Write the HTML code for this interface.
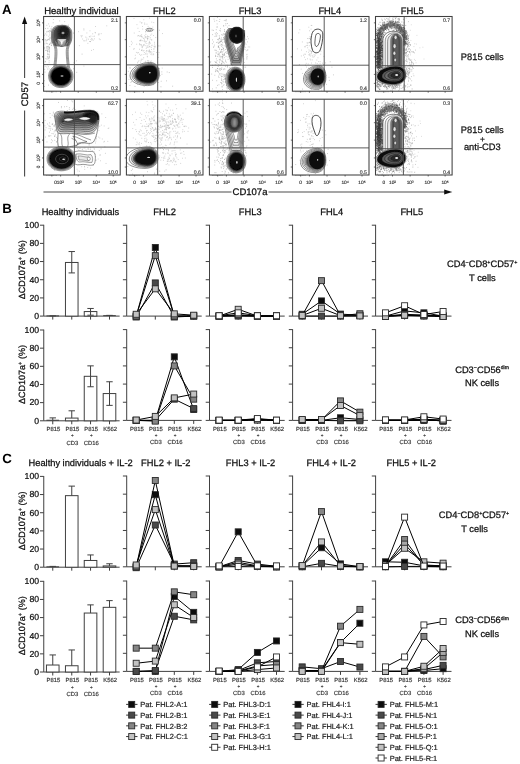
<!DOCTYPE html><html><head><meta charset="utf-8"><title>Figure</title><style>html,body{margin:0;padding:0;background:#fff}svg{display:block}text{text-rendering:geometricPrecision}</style></head><body><svg width="520" height="764" viewBox="0 0 520 764" font-family="Liberation Sans, sans-serif">
<defs><filter id="b1" x="-30%" y="-30%" width="160%" height="160%"><feGaussianBlur stdDeviation="0.9"/></filter><filter id="b2" x="-30%" y="-30%" width="160%" height="160%"><feGaussianBlur stdDeviation="1.6"/></filter><filter id="soft" x="0" y="0" width="520" height="764" filterUnits="userSpaceOnUse"><feGaussianBlur stdDeviation="0.35"/></filter><filter id="b0" x="-10%" y="-10%" width="120%" height="120%"><feGaussianBlur stdDeviation="0.35"/></filter></defs>
<rect width="520" height="764" fill="#fff"/>
<g filter="url(#soft)">
<text x="2" y="13.5" font-size="13.3" text-anchor="start" fill="#000" font-weight="bold" >A</text>
<text x="2.3" y="212.9" font-size="13.3" text-anchor="start" fill="#000" font-weight="bold" >B</text>
<text x="2.3" y="463.2" font-size="13.3" text-anchor="start" fill="#000" font-weight="bold" >C</text>
<text x="81.4" y="13.7" font-size="9.5" text-anchor="middle" fill="#111" stroke="#111" stroke-width="0.27" >Healthy individual</text>
<text x="164.3" y="13.7" font-size="9.3" text-anchor="middle" fill="#111" stroke="#111" stroke-width="0.26" >FHL2</text>
<text x="250" y="13.7" font-size="9.3" text-anchor="middle" fill="#111" stroke="#111" stroke-width="0.26" >FHL3</text>
<text x="329.8" y="13.7" font-size="9.3" text-anchor="middle" fill="#111" stroke="#111" stroke-width="0.26" >FHL4</text>
<text x="412.2" y="13.7" font-size="9.3" text-anchor="middle" fill="#111" stroke="#111" stroke-width="0.26" >FHL5</text>
<path d="M24.6 22.5V78M24.6 110.5V176.6" stroke="#4a4a4a" stroke-width="1.1" fill="none"/>
<path d="M24.6 16.4L22.0 24H27.2Z" fill="#111"/>
<text x="0" y="0" font-size="9.5" text-anchor="middle" fill="#111" stroke="#111" stroke-width="0.27" transform="translate(28.0 94.2) rotate(-90)">CD57</text>
<path d="M43.5 192H231.5M268.5 192H445" stroke="#4a4a4a" stroke-width="1.1" fill="none"/>
<path d="M452.3 192L444.2 189.4V194.6Z" fill="#111"/>
<text x="250" y="195.4" font-size="9.5" text-anchor="middle" fill="#111" stroke="#111" stroke-width="0.27" >CD107a</text>
<text x="482.3" y="59.6" font-size="9.3" text-anchor="middle" fill="#111" stroke="#111" stroke-width="0.26" >P815 cells</text>
<text x="482.3" y="132.6" font-size="9.3" text-anchor="middle" fill="#111" stroke="#111" stroke-width="0.26" >P815 cells</text>
<text x="482.3" y="141.6" font-size="8.2" text-anchor="middle" fill="#111" stroke="#111" stroke-width="0.23" >+</text>
<text x="482.3" y="149.8" font-size="9.3" text-anchor="middle" fill="#111" stroke="#111" stroke-width="0.26" >anti-CD3</text>
<text x="59" y="183.9" font-size="4.8" text-anchor="middle" fill="#2a2a2a" stroke="#2a2a2a" stroke-width="0.13" >010²</text>
<text x="78.2" y="183.9" font-size="4.8" text-anchor="middle" fill="#2a2a2a" stroke="#2a2a2a" stroke-width="0.13" >10³</text>
<text x="96.3" y="183.9" font-size="4.8" text-anchor="middle" fill="#2a2a2a" stroke="#2a2a2a" stroke-width="0.13" >10⁴</text>
<text x="113.2" y="183.9" font-size="4.8" text-anchor="middle" fill="#2a2a2a" stroke="#2a2a2a" stroke-width="0.13" >10⁵</text>
<text x="134.7" y="183.9" font-size="4.8" text-anchor="middle" fill="#2a2a2a" stroke="#2a2a2a" stroke-width="0.13" >0</text>
<text x="143.4" y="183.9" font-size="4.8" text-anchor="middle" fill="#2a2a2a" stroke="#2a2a2a" stroke-width="0.13" >10²</text>
<text x="161" y="183.9" font-size="4.8" text-anchor="middle" fill="#2a2a2a" stroke="#2a2a2a" stroke-width="0.13" >10³</text>
<text x="179.1" y="183.9" font-size="4.8" text-anchor="middle" fill="#2a2a2a" stroke="#2a2a2a" stroke-width="0.13" >10⁴</text>
<text x="196" y="183.9" font-size="4.8" text-anchor="middle" fill="#2a2a2a" stroke="#2a2a2a" stroke-width="0.13" >10⁵</text>
<text x="217.7" y="183.9" font-size="4.8" text-anchor="middle" fill="#2a2a2a" stroke="#2a2a2a" stroke-width="0.13" >0</text>
<text x="226.4" y="183.9" font-size="4.8" text-anchor="middle" fill="#2a2a2a" stroke="#2a2a2a" stroke-width="0.13" >10²</text>
<text x="244" y="183.9" font-size="4.8" text-anchor="middle" fill="#2a2a2a" stroke="#2a2a2a" stroke-width="0.13" >10³</text>
<text x="262.1" y="183.9" font-size="4.8" text-anchor="middle" fill="#2a2a2a" stroke="#2a2a2a" stroke-width="0.13" >10⁴</text>
<text x="279" y="183.9" font-size="4.8" text-anchor="middle" fill="#2a2a2a" stroke="#2a2a2a" stroke-width="0.13" >10⁵</text>
<text x="300.7" y="183.9" font-size="4.8" text-anchor="middle" fill="#2a2a2a" stroke="#2a2a2a" stroke-width="0.13" >0</text>
<text x="309.4" y="183.9" font-size="4.8" text-anchor="middle" fill="#2a2a2a" stroke="#2a2a2a" stroke-width="0.13" >10²</text>
<text x="327" y="183.9" font-size="4.8" text-anchor="middle" fill="#2a2a2a" stroke="#2a2a2a" stroke-width="0.13" >10³</text>
<text x="345.1" y="183.9" font-size="4.8" text-anchor="middle" fill="#2a2a2a" stroke="#2a2a2a" stroke-width="0.13" >10⁴</text>
<text x="362" y="183.9" font-size="4.8" text-anchor="middle" fill="#2a2a2a" stroke="#2a2a2a" stroke-width="0.13" >10⁵</text>
<text x="383.8" y="183.9" font-size="4.8" text-anchor="middle" fill="#2a2a2a" stroke="#2a2a2a" stroke-width="0.13" >0</text>
<text x="392.5" y="183.9" font-size="4.8" text-anchor="middle" fill="#2a2a2a" stroke="#2a2a2a" stroke-width="0.13" >10²</text>
<text x="410.1" y="183.9" font-size="4.8" text-anchor="middle" fill="#2a2a2a" stroke="#2a2a2a" stroke-width="0.13" >10³</text>
<text x="428.2" y="183.9" font-size="4.8" text-anchor="middle" fill="#2a2a2a" stroke="#2a2a2a" stroke-width="0.13" >10⁴</text>
<text x="445.1" y="183.9" font-size="4.8" text-anchor="middle" fill="#2a2a2a" stroke="#2a2a2a" stroke-width="0.13" >10⁵</text>
<text x="0" y="0" font-size="4.8" text-anchor="middle" fill="#2a2a2a" stroke="#2a2a2a" stroke-width="0.13" transform="translate(39.5 22.85) rotate(-90)">10⁵</text>
<text x="0" y="0" font-size="4.8" text-anchor="middle" fill="#2a2a2a" stroke="#2a2a2a" stroke-width="0.13" transform="translate(39.5 39.66) rotate(-90)">10⁴</text>
<text x="0" y="0" font-size="4.8" text-anchor="middle" fill="#2a2a2a" stroke="#2a2a2a" stroke-width="0.13" transform="translate(39.5 56.84) rotate(-90)">10³</text>
<text x="0" y="0" font-size="4.8" text-anchor="middle" fill="#2a2a2a" stroke="#2a2a2a" stroke-width="0.13" transform="translate(39.5 74.39) rotate(-90)">10²</text>
<text x="0" y="0" font-size="4.8" text-anchor="middle" fill="#2a2a2a" stroke="#2a2a2a" stroke-width="0.13" transform="translate(39.5 83.36) rotate(-90)">0</text>
<text x="0" y="0" font-size="4.8" text-anchor="middle" fill="#2a2a2a" stroke="#2a2a2a" stroke-width="0.13" transform="translate(39.5 105.64) rotate(-90)">10⁵</text>
<text x="0" y="0" font-size="4.8" text-anchor="middle" fill="#2a2a2a" stroke="#2a2a2a" stroke-width="0.13" transform="translate(39.5 122.7) rotate(-90)">10⁴</text>
<text x="0" y="0" font-size="4.8" text-anchor="middle" fill="#2a2a2a" stroke="#2a2a2a" stroke-width="0.13" transform="translate(39.5 140.13) rotate(-90)">10³</text>
<text x="0" y="0" font-size="4.8" text-anchor="middle" fill="#2a2a2a" stroke="#2a2a2a" stroke-width="0.13" transform="translate(39.5 157.94) rotate(-90)">10²</text>
<text x="0" y="0" font-size="4.8" text-anchor="middle" fill="#2a2a2a" stroke="#2a2a2a" stroke-width="0.13" transform="translate(39.5 167.04) rotate(-90)">0</text>
<clipPath id="c00"><rect x="43.6" y="16.5" width="76.6" height="74.7"/></clipPath>
<clipPath id="c01"><rect x="126.4" y="16.5" width="76.6" height="74.7"/></clipPath>
<clipPath id="c02"><rect x="209.4" y="16.5" width="76.6" height="74.7"/></clipPath>
<clipPath id="c03"><rect x="292.4" y="16.5" width="76.6" height="74.7"/></clipPath>
<clipPath id="c04"><rect x="375.5" y="16.5" width="76.6" height="74.7"/></clipPath>
<clipPath id="c10"><rect x="43.6" y="99.2" width="76.6" height="75.8"/></clipPath>
<clipPath id="c11"><rect x="126.4" y="99.2" width="76.6" height="75.8"/></clipPath>
<clipPath id="c12"><rect x="209.4" y="99.2" width="76.6" height="75.8"/></clipPath>
<clipPath id="c13"><rect x="292.4" y="99.2" width="76.6" height="75.8"/></clipPath>
<clipPath id="c14"><rect x="375.5" y="99.2" width="76.6" height="75.8"/></clipPath>
<g clip-path="url(#c00)">
<path d="M55.46 54.65h.01M55.64 43.9h.01M51.42 45.23h.01M63.67 53.51h.01M63.22 51.24h.01M59.37 50.41h.01M47 59.12h.01M60.04 54.48h.01M46.85 25.33h.01M51.66 41.91h.01M58.83 47.4h.01M60.13 39.65h.01M58.85 53.12h.01M53.03 70.33h.01M60.34 63.56h.01M53.28 38.39h.01M54.94 46.62h.01M60.79 51.23h.01M54.32 35.56h.01M53.88 63.87h.01M52.15 51.18h.01M59.56 28.63h.01M57.29 64.98h.01M44.91 43.82h.01M56.36 37.38h.01M59.98 47.19h.01M48.21 58.76h.01M61.02 60.3h.01M65.64 52.71h.01M57.72 31.11h.01M60.69 40.05h.01M54.28 31.56h.01M51.19 41.1h.01M64.73 21.59h.01M48.25 51.11h.01M65.66 55.52h.01M59.14 38.43h.01M50.28 60.71h.01M63.61 50.04h.01M58.47 53.65h.01M66.56 56.05h.01M60.11 55.12h.01M47.59 64.66h.01M62.73 54.89h.01M45.16 39.76h.01M62.05 24.45h.01M55.9 61.25h.01M49.13 68.93h.01M60.31 46.05h.01M58.95 56.45h.01M57.72 62.89h.01M53.03 42.61h.01M63.25 48.35h.01M51.72 60.3h.01M65.79 42.22h.01M48.72 46.25h.01M56.11 44.13h.01M65.43 34.65h.01M64.56 31.51h.01M52.28 56.21h.01M63.77 59.17h.01M59.07 49.85h.01M57.91 55.48h.01M55.94 51.61h.01M60.44 48.01h.01M61.58 55.36h.01M69.06 52.22h.01M54.43 43.16h.01M56.92 60.01h.01M54.98 53.02h.01M50.26 51.17h.01M59.39 51.1h.01M54.41 56.52h.01M58.69 41.21h.01M71.58 52.62h.01M53.67 46.71h.01M55.65 47.18h.01M63.05 32.81h.01M56.6 60.4h.01M62.14 67.38h.01M46.79 43.41h.01M54.95 56.1h.01M63.53 29.18h.01M61.1 28.6h.01M58.06 63.53h.01M56.1 50.48h.01M61.78 49.84h.01M56.47 67.93h.01M63.29 44.18h.01M73.47 33.09h.01M62.49 44.55h.01M57.79 57.17h.01M58.33 56.3h.01M47.84 28.38h.01M60.69 35.48h.01M50.84 28.89h.01M64.6 57.71h.01M65.84 35.81h.01M57.01 33.18h.01M61.6 68.66h.01M51.66 68.28h.01M62.93 45.69h.01M45.17 66.29h.01M56.42 40.16h.01M59.4 53.33h.01M65.99 34.74h.01M63.82 67.34h.01M65.71 45.65h.01M52.54 61.24h.01M57.69 49.61h.01M65.55 44.58h.01M45.88 58.64h.01M58.9 40.05h.01M56.94 58.82h.01M57.47 65.24h.01M56.63 61.52h.01M65.95 68.93h.01M52.97 59.44h.01M45.74 33.92h.01M45.22 61.9h.01M49.61 47.83h.01M55.85 47.63h.01M53.45 51.04h.01M67.75 48.58h.01M60.19 61.01h.01M55.81 31.62h.01M53.67 61.96h.01M47.12 40.23h.01M63.04 58.31h.01M57.05 58.47h.01M58 32.67h.01M47.62 39.69h.01M62.54 40.65h.01M51.59 37.98h.01M47.81 46.48h.01M49.92 52.73h.01M53.15 22.75h.01M61.35 44.42h.01M58.75 42.04h.01M61.68 57.72h.01M61 52.25h.01M65 56.58h.01M59.71 20.91h.01M62.38 65.02h.01M55.22 41.9h.01M68.64 25.14h.01M59.81 79.51h.01M51.43 56.96h.01M68.32 46.44h.01M60.37 59.73h.01M51.57 46.84h.01M58.76 58.73h.01M56.79 45.46h.01M50.9 43.33h.01M62.35 49.32h.01M51.88 37.06h.01M73 62.82h.01M60.73 54.25h.01M67.1 53.56h.01M56.6 54.79h.01M45.33 61.43h.01M58.95 38.87h.01" stroke="#999" stroke-width="0.6" stroke-linecap="round" fill="none" opacity="1"/>
<path d="M53.98 69.71h.01M45.79 40h.01M50.87 50.2h.01M48.8 36.31h.01M56.36 60.45h.01M46.42 31.86h.01M55.11 59.87h.01M55.46 57.72h.01M47.38 51.13h.01M49.82 54.27h.01M47.82 46.51h.01M51.38 52.52h.01M51.91 50.51h.01M49.03 57.47h.01M50.15 38.09h.01M48.12 48h.01M49.67 49.88h.01M50 50.11h.01M49.6 32.9h.01M51.26 60.64h.01M51.3 45.73h.01M51.34 36.41h.01M44.31 48.71h.01M47.21 56.88h.01M46.88 66.94h.01M48.85 31.57h.01M47.71 54.25h.01M51.49 50.12h.01M54.45 56.48h.01M49.94 55.16h.01M54.96 59.66h.01M53.07 35.01h.01M49.55 56.76h.01M49.11 60.83h.01M51.79 58.9h.01M49.36 78.56h.01M53.72 45.41h.01M50.27 79.14h.01M48.97 58.49h.01M52.94 48.08h.01M46.5 50.25h.01M51.08 61.56h.01M52.35 48.29h.01M52.56 54.48h.01M50.62 48.66h.01M49.27 56.23h.01M46.84 40.46h.01M50.01 30.43h.01M48.69 23.89h.01M47.95 54.82h.01M51.7 47.35h.01M49.3 31h.01M55.48 54.19h.01M53.28 37.41h.01M49.44 26.17h.01M52.34 59.22h.01M44.31 47.37h.01M51.89 26.86h.01M44.52 35.22h.01M48.11 31.17h.01M50.09 51h.01M51.9 56.42h.01M54.51 61.97h.01M46.06 41.93h.01M46.82 35.08h.01M49.76 48.07h.01M51.47 28.96h.01M46.29 47.72h.01M49.4 44.26h.01M49.81 38.88h.01M52.1 52.25h.01M49.74 39.94h.01M47.06 48.45h.01M45.49 50.39h.01M50.44 31.47h.01M49.25 44.23h.01M51.38 55.34h.01M49.89 37.78h.01M49.57 47.21h.01M52.2 51.53h.01M47.83 31.75h.01M48.88 39.12h.01M46.66 46.61h.01M48.53 49.27h.01M51.57 43.04h.01M56.97 44.14h.01M53.31 49.46h.01M53.35 19.49h.01M47.75 50.96h.01M51.81 76.04h.01M50.97 63.36h.01M52.3 59.37h.01M51.53 46.13h.01M51.53 35.06h.01M53.54 35.79h.01M50.75 73.45h.01M49.33 48.23h.01M53.49 48.31h.01M47.58 51.1h.01M51.75 56.52h.01M47.68 69.03h.01M55 48.22h.01M50.81 42.86h.01M54.24 39.54h.01M52.02 42.24h.01M47.92 56.62h.01M54 47.88h.01M47.97 57.74h.01M49.85 51.73h.01M54.57 61.58h.01M48.44 75.4h.01M50.01 57.43h.01M48.06 47.46h.01M44.75 69.44h.01M54.1 33.42h.01M45.48 28.55h.01M53.53 42.49h.01M49.82 44.25h.01M49.64 34.94h.01M50.07 30.74h.01M49.79 51.7h.01M51.4 45.22h.01M47.29 49.91h.01M48.55 66.79h.01M52.3 46.62h.01M48.59 39.57h.01M47.19 43.76h.01" stroke="#999" stroke-width="0.6" stroke-linecap="round" fill="none" opacity="1"/>
<path d="M91.77 40.09h.01M93.41 49.59h.01M85.77 37.08h.01M106.77 25.8h.01M86.87 38.02h.01M90.93 39.45h.01M88.57 39.2h.01M90.32 41.63h.01M78.64 31.69h.01M89.99 30.81h.01M83.73 40.77h.01M86.1 40.81h.01M94.47 38.84h.01M93.05 36.37h.01M81.55 36.82h.01M92.73 33.82h.01M89.4 41.5h.01M84.73 40.84h.01M101.18 33.67h.01M90.88 36.1h.01M99.24 38.9h.01M95.39 32.86h.01M89.9 36.94h.01M79.34 45.64h.01M95.4 26.51h.01M94.47 36.21h.01M92.69 39.2h.01M81.01 35.73h.01M98.96 33.55h.01M83.86 28.84h.01M82.67 39.01h.01M100.16 39.58h.01M91.47 50.4h.01M86.88 32.96h.01M93.17 40.29h.01M83.91 29.98h.01M91.75 38.48h.01M82.16 35.79h.01M86.74 39.76h.01M89.3 36.48h.01M87.88 43.32h.01M98.34 34.8h.01M95.08 32.45h.01M90.43 41.5h.01M99.09 34.7h.01" stroke="#aaa" stroke-width="0.6" stroke-linecap="round" fill="none" opacity="1"/>
<path d="M59.26 73.77h.01M45.02 72.14h.01M53.24 75.34h.01M48.7 54.21h.01M60.38 74.35h.01M54.51 80h.01M57.27 66.55h.01M64.78 57.89h.01M53.23 71.81h.01M68.49 70.54h.01M63.08 66.1h.01M63.02 86.97h.01M53.56 72.15h.01M61.73 81.22h.01M47.63 53.1h.01M66.06 79.16h.01M62.05 74.29h.01M69.29 75.32h.01M76.64 60.86h.01M56.25 41h.01M68.12 68.65h.01M59.94 69.71h.01M55 64.46h.01M53.7 77.75h.01M60.37 72.6h.01M58.27 80.23h.01M64.94 70.72h.01M66.65 70.63h.01M48.47 85.1h.01M64.65 63.38h.01M70.79 75.1h.01M44.36 86.49h.01M63.33 80.02h.01M61.98 70.65h.01M44.52 80.74h.01M60.3 69.42h.01M63.51 72.7h.01M66.76 68.66h.01M59.64 52.75h.01M55.77 78.08h.01M73.37 68.72h.01M58.79 86.25h.01M56.74 78.61h.01M76.78 72.36h.01M72.27 65.61h.01M62.08 71.3h.01M61.15 82.17h.01M83.9 66.01h.01M54.25 76.48h.01M49.45 76.47h.01M65.72 69.5h.01M65.31 58.06h.01M67.6 58.1h.01M53.04 66.99h.01M55.99 79.73h.01M60.82 68.42h.01M65.43 86.23h.01M60.06 75.29h.01M72.4 74.41h.01M82.08 54.14h.01M59.61 75.76h.01M69.66 78.02h.01M57.28 62.52h.01M61.03 81.3h.01M49.1 62.76h.01M59.75 54.56h.01" stroke="#999" stroke-width="0.6" stroke-linecap="round" fill="none" opacity="1"/>
<path d="M53.5 68C54.7 62,55.5 51,54.7 48C54.1 44,51.4 43,51.4 38L51.4 33.05C51.4 27.7,55.99 25.4,59.05 25.4L64.15 25.4C67.21 25.4,71.8 27.7,71.8 33.05L71.8 38C71.8 43,69.1 44,68.5 48C67.7 51,68.5 62,69.7 68" fill="#b0b0b0" stroke="none"/>
<path d="M54.46 68C55.66 62,56.46 51,55.66 48C55.06 44,52.6 43,52.6 38L52.6 33.35C52.6 28.62,56.65 26.6,59.35 26.6L63.85 26.6C66.55 26.6,70.6 28.62,70.6 33.35L70.6 38C70.6 43,68.14 44,67.54 48C66.74 51,67.54 62,68.74 68" fill="#8c8c8c" stroke="none"/>
<path d="M55.42 68C56.62 62,57.42 51,56.62 48C56.02 44,53.8 43,53.8 38L53.8 33.65C53.8 29.55,57.31 27.8,59.65 27.8L63.55 27.8C65.89 27.8,69.4 29.55,69.4 33.65L69.4 38C69.4 43,67.18 44,66.58 48C65.78 51,66.58 62,67.78 68" fill="#747474" stroke="none"/>
<path d="M50 45.5 C56 47,66 47,73 45.5 L73 69 L50 69Z" fill="#fff"/>
<path d="M53.5 68C54.7 62,55.5 51,54.7 48C54.1 44,51.4 43,51.4 38L51.4 33.05C51.4 27.7,55.99 25.4,59.05 25.4L64.15 25.4C67.21 25.4,71.8 27.7,71.8 33.05L71.8 38C71.8 43,69.1 44,68.5 48C67.7 51,68.5 62,69.7 68" fill="none" stroke="#1a1a1a" stroke-width="0.45"/>
<path d="M54.46 68C55.66 62,56.46 51,55.66 48C55.06 44,52.6 43,52.6 38L52.6 33.35C52.6 28.62,56.65 26.6,59.35 26.6L63.85 26.6C66.55 26.6,70.6 28.62,70.6 33.35L70.6 38C70.6 43,68.14 44,67.54 48C66.74 51,67.54 62,68.74 68" fill="none" stroke="#1a1a1a" stroke-width="0.45"/>
<path d="M55.42 68C56.62 62,57.42 51,56.62 48C56.02 44,53.8 43,53.8 38L53.8 33.65C53.8 29.55,57.31 27.8,59.65 27.8L63.55 27.8C65.89 27.8,69.4 29.55,69.4 33.65L69.4 38C69.4 43,67.18 44,66.58 48C65.78 51,66.58 62,67.78 68" fill="none" stroke="#1a1a1a" stroke-width="0.45"/>
<path d="M62 26C67.33 26,69.4 28.41,69.4 34.6C69.4 40.79,67.33 43.2,62 43.2C56.67 43.2,54.6 40.79,54.6 34.6C54.6 28.41,56.67 26,62 26Z" fill="#646464" stroke="#1a1a1a" stroke-width="0.45"/>
<path d="M62.2 26.5C66.88 26.5,68.7 28.66,68.7 34.2C68.7 39.74,66.88 41.9,62.2 41.9C57.52 41.9,55.7 39.74,55.7 34.2C55.7 28.66,57.52 26.5,62.2 26.5Z" fill="#525252" stroke="#1a1a1a" stroke-width="0.45"/>
<path d="M62.4 27C66.43 27,68 28.9,68 33.8C68 38.7,66.43 40.6,62.4 40.6C58.37 40.6,56.8 38.7,56.8 33.8C56.8 28.9,58.37 27,62.4 27Z" fill="#444" stroke="#1a1a1a" stroke-width="0.45"/>
<path d="M62.6 27.5C65.98 27.5,67.3 29.15,67.3 33.4C67.3 37.65,65.98 39.3,62.6 39.3C59.22 39.3,57.9 37.65,57.9 33.4C57.9 29.15,59.22 27.5,62.6 27.5Z" fill="#363636" stroke="#1a1a1a" stroke-width="0.45"/>
<path d="M62.8 28C65.54 28,66.6 29.4,66.6 33C66.6 36.6,65.54 38,62.8 38C60.06 38,59 36.6,59 33C59 29.4,60.06 28,62.8 28Z" fill="#2a2a2a" stroke="#1a1a1a" stroke-width="0.45"/>
<path d="M63 28.5C65.09 28.5,65.9 29.65,65.9 32.6C65.9 35.55,65.09 36.7,63 36.7C60.91 36.7,60.1 35.55,60.1 32.6C60.1 29.65,60.91 28.5,63 28.5Z" fill="#202020" stroke="#1a1a1a" stroke-width="0.45"/>
<ellipse cx="64.2" cy="31.4" rx="5.2" ry="4.8" fill="#1a1a1a" filter="url(#b1)"/>
<ellipse cx="63" cy="33" rx="1.5" ry="1.3" fill="#999" filter="url(#b0)"/>
<path d="M57.2 39 C57.4 49,66.2 49,66.4 39" fill="#ccc" stroke="#222" stroke-width="0.4"/>
<path d="M58.3 39.9 C58.5 48.1,65.1 48.1,65.3 39.9" fill="#ddd" stroke="#222" stroke-width="0.4"/>
<path d="M59.4 40.8 C59.6 47.2,64 47.2,64.2 40.8" fill="#eee" stroke="#222" stroke-width="0.4"/>
<path d="M60.5 41.7 C60.7 46.3,62.9 46.3,63.1 41.7" fill="#fff" stroke="#222" stroke-width="0.4"/>
<path d="M60.8 64.8C67.88 64.8,73 69.59,73 76.2C73 82.81,67.88 87.6,60.8 87.6C53.72 87.6,48.6 82.81,48.6 76.2C48.6 69.59,53.72 64.8,60.8 64.8Z" fill="#eee" stroke="#1a1a1a" stroke-width="0.45"/>
<path d="M60.8 65.7C67.35 65.7,72.1 70.11,72.1 76.2C72.1 82.29,67.35 86.7,60.8 86.7C54.25 86.7,49.5 82.29,49.5 76.2C49.5 70.11,54.25 65.7,60.8 65.7Z" fill="#aaa" stroke="#1a1a1a" stroke-width="0.45"/>
<path d="M60.8 66.6C66.83 66.6,71.2 70.63,71.2 76.2C71.2 81.77,66.83 85.8,60.8 85.8C54.77 85.8,50.4 81.77,50.4 76.2C50.4 70.63,54.77 66.6,60.8 66.6Z" fill="#555" stroke="#1a1a1a" stroke-width="0.45"/>
<path d="M60.8 67.5C66.31 67.5,70.3 71.15,70.3 76.2C70.3 81.25,66.31 84.9,60.8 84.9C55.29 84.9,51.3 81.25,51.3 76.2C51.3 71.15,55.29 67.5,60.8 67.5Z" fill="#111" stroke="#1a1a1a" stroke-width="0.45"/>
<ellipse cx="60.9" cy="76.2" rx="9.4" ry="8.8" fill="#060606"/>
<ellipse cx="62" cy="76" rx="1.5" ry="0.8" fill="#bbb" filter="url(#b0)"/>
</g>
<g clip-path="url(#c01)">
<path d="M144.31 39.76h.01M148.93 36.58h.01M140.27 40.27h.01M145.68 37.02h.01M146.08 54h.01M153.7 65.46h.01M140.91 39.96h.01M129.86 67.79h.01M141.29 44.6h.01M149.4 28.7h.01M149.02 44.68h.01M134.13 48.5h.01M153.76 22.59h.01M151.25 47.51h.01M149.09 50.3h.01M154.48 42.32h.01M151.68 40.08h.01M150.73 35.23h.01M145.3 65.77h.01M148.9 43.1h.01M138.56 35.52h.01M147.26 56.27h.01M148.77 51.29h.01M145.73 61.22h.01M143.46 38.4h.01M151.77 45.76h.01M144.19 38.09h.01M144.33 52.48h.01M148.3 30.48h.01M148.77 47.15h.01M139.5 54.27h.01M144.18 40.97h.01M151.17 60.85h.01M141.52 50.26h.01M140.31 72.77h.01M142.79 59.34h.01M141.79 54.74h.01M143.18 51.01h.01M145.4 36.98h.01M159.99 45.95h.01M135.31 55.25h.01M134.81 58.81h.01M142.24 46.74h.01M154.2 46.41h.01M136.96 24.65h.01M153.69 53.89h.01M140.7 55.31h.01M149.23 52.77h.01M131.32 41.37h.01M151.85 53.8h.01M147.1 50.91h.01M162.59 33.55h.01M143.86 45.43h.01M151.76 39.68h.01M153.46 35.55h.01M147.73 38.67h.01M147.03 36.71h.01M135.62 58.12h.01M147.97 38.3h.01M147.31 56.88h.01M139.65 43.68h.01M149.5 51.31h.01M143.82 19.72h.01M154.08 48.94h.01M146.08 41.66h.01M147.71 39.89h.01M139.34 36.12h.01M142.12 37.65h.01M138.47 52.64h.01M137.49 52.92h.01M139.4 49.23h.01M154.93 47.44h.01M141.25 45.58h.01M146.96 24.19h.01M142.05 46.96h.01M142.95 45.96h.01M150.77 54.2h.01M151.89 52.06h.01M144.13 44.78h.01M144.24 41.24h.01M144.83 24.3h.01M143.83 44.71h.01M139.67 44.71h.01M149.35 43.03h.01M144.66 23.1h.01M152.37 76.85h.01M129.74 46.54h.01M149.37 41.37h.01M149.59 18.08h.01M151.54 49.46h.01M146.15 37.95h.01M150.15 39.18h.01M147.45 38.88h.01M131.4 44.62h.01M147.31 54.05h.01M140.31 44.6h.01M150.01 46.75h.01M154.08 68.9h.01M140.09 21.95h.01M151.57 63.35h.01M151.99 54.77h.01M141.98 36.44h.01M151.77 34.06h.01M134.21 33.03h.01M162.2 68.08h.01M141.54 36.25h.01M147.5 36.01h.01M154.52 44.06h.01M138.94 60.71h.01M142.21 47.66h.01M145.92 41.23h.01M148.11 36.69h.01M134.01 18.5h.01M137.77 35.9h.01M145.85 45.66h.01M149.61 46.44h.01M140.84 36.49h.01M132.23 42.97h.01M149.15 51.36h.01M145.21 42.91h.01M152.09 45.18h.01M150.8 51.99h.01M147.39 60.68h.01M142.28 40.69h.01M140.75 35.43h.01M156.11 66.11h.01M146.15 51.82h.01M153.64 54.69h.01M153.83 29.84h.01M141.84 50.43h.01M155.33 46.25h.01M140.42 40.75h.01M141.71 34.7h.01M155.76 37.49h.01M146.13 70.95h.01M153.7 49.03h.01M142.02 49.92h.01M156.54 52.48h.01M154.2 46.18h.01M149.36 42.59h.01M148.77 60.61h.01M136.7 44.25h.01M147.56 38.15h.01M144 54.44h.01M159.01 52.55h.01M148.12 26.38h.01M158.53 45.92h.01M145.78 31.58h.01M145.63 31.85h.01M146.46 50.6h.01M146.2 48.36h.01M140.46 62.16h.01M141.75 23.18h.01M144.78 35.84h.01M139.44 40.74h.01M147.89 30.82h.01M145.11 62.12h.01M150.44 43.18h.01M146.83 43.56h.01M145.69 53.79h.01M145.86 34.33h.01M150.23 37.68h.01M146.96 71.13h.01M139.2 31.5h.01M133.79 49.37h.01M141.85 22.58h.01M136.36 52.41h.01M140.96 40.6h.01M148.15 61.28h.01M158.62 57.39h.01M146.93 47.21h.01M157.71 62.14h.01M143.98 50.49h.01M147.87 45.63h.01M142.75 29.08h.01M142.53 26.47h.01M153.95 51.44h.01M138.16 61.75h.01M151.8 22.1h.01M157.97 54.72h.01M159.42 30.23h.01M149.45 50.08h.01M147.31 47.05h.01M152.85 27.07h.01M137.93 28.27h.01" stroke="#aaa" stroke-width="0.6" stroke-linecap="round" fill="none" opacity="1"/>
<path d="M141.31 69.16h.01M152.41 76.13h.01M148.38 68.59h.01M142.7 81.62h.01M157.16 74.81h.01M144.13 86.42h.01M140.87 79.19h.01M161.84 71.88h.01M157.91 65.07h.01M160.15 75.6h.01M128.96 79.36h.01M137.29 84.25h.01M139.85 72.68h.01M151.4 71.34h.01M151.11 69.57h.01M156.06 74.04h.01M150.53 51.98h.01M161.94 74.25h.01M153.61 82.57h.01M135.01 86.38h.01M146.24 79.44h.01M143.6 65.07h.01M161.16 81.25h.01M166.46 80.86h.01M141.12 60.7h.01M140.19 68.6h.01M138.22 78.66h.01M151.93 71.84h.01M150.07 72.83h.01M150.55 80.02h.01M159.51 68.51h.01M129.92 85.42h.01M149.37 82.85h.01M128.28 71.36h.01M148.32 62.47h.01M141.81 79.8h.01M160.94 86.75h.01M137.64 62.79h.01M154.25 81.52h.01M150.32 63.59h.01M157.39 80.34h.01M154.64 70.1h.01M151.65 80.33h.01M141.29 59.25h.01M151.94 77.85h.01M148.16 81.11h.01M140.96 73.34h.01M144.34 78.57h.01M167.15 71.99h.01M172.66 86.23h.01M157.49 78.7h.01M169.25 72.56h.01M146.66 65.5h.01M153.67 84.76h.01M154.39 77.38h.01M145.59 75.36h.01M130.9 82.39h.01M143.08 65.16h.01M138.98 67.4h.01M158.26 82.47h.01M131.71 81.41h.01M158.66 69.37h.01M130.16 68.04h.01M140.39 76.74h.01M143.71 57.77h.01M150.8 61.73h.01M158.87 64.35h.01M139.69 67.17h.01" stroke="#999" stroke-width="0.6" stroke-linecap="round" fill="none" opacity="1"/>
<path d="M130 75.74 C130 67.04,141.9 62.4,149.88 62.4 C157.02 62.4,159.4 68.2,159.4 74 C159.4 80.96,154.64 85.6,147.5 85.6 C139.1 85.6,130 82.12,130 75.74Z" fill="#fff" stroke="#222" stroke-width="0.5" />
<path d="M132 75.59 C132 67.64,142.88 63.4,150.18 63.4 C156.7 63.4,158.88 68.7,158.88 74 C158.88 80.36,154.53 84.6,148 84.6 C140.32 84.6,132 81.42,132 75.59Z" fill="#eee" stroke="#222" stroke-width="0.5" />
<path d="M133.55 75.47 C133.55 68.12,143.58 64.2,150.31 64.2 C156.32 64.2,158.33 69.1,158.33 74 C158.33 79.88,154.32 83.8,148.3 83.8 C141.22 83.8,133.55 80.86,133.55 75.47Z" fill="#bbb" stroke="#222" stroke-width="0.5" />
<path d="M134.75 75.38 C134.75 68.48,144.1 64.8,150.37 64.8 C155.98 64.8,157.85 69.4,157.85 74 C157.85 79.52,154.11 83.2,148.5 83.2 C141.9 83.2,134.75 80.44,134.75 75.38Z" fill="#777" stroke="#222" stroke-width="0.5" />
<path d="M135.6 75.31 C135.6 68.78,144.44 65.3,150.37 65.3 C155.67 65.3,157.44 69.65,157.44 74 C157.44 79.22,153.9 82.7,148.6 82.7 C142.36 82.7,135.6 80.09,135.6 75.31Z" fill="#333" stroke="#222" stroke-width="0.5" />
<path d="M136.32 75.25 C136.32 69.02,144.74 65.7,150.38 65.7 C155.43 65.7,157.11 69.85,157.11 74 C157.11 78.98,153.75 82.3,148.7 82.3 C142.76 82.3,136.32 79.81,136.32 75.25Z" fill="#090909" stroke="#222" stroke-width="0.5" />
<ellipse cx="149.8" cy="72.8" rx="0.9" ry="0.7" fill="#ddd"/>
<ellipse cx="149.5" cy="29.8" rx="3.6" ry="1.6" fill="#fff" stroke="#333" stroke-width="0.5"/>
<ellipse cx="149.5" cy="29.8" rx="2.2" ry="0.8" fill="none" stroke="#444" stroke-width="0.4"/>
</g>
<g clip-path="url(#c02)">
<path d="M219.29 74.07h.01M226.26 62.23h.01M223.6 25.69h.01M219.4 42.62h.01M217.11 60.65h.01M218.29 39.93h.01M224.98 74.62h.01M222.87 35.4h.01M228.08 57.05h.01M226.64 77.13h.01M227.63 44.5h.01M227.26 65.19h.01M214.31 45.11h.01M214.88 50.14h.01M224.89 33.84h.01M211.72 74.07h.01M223.88 77.01h.01M215.38 70.03h.01M232.37 86.12h.01M220.95 56.58h.01M221.23 68.97h.01M227.19 53.48h.01M215.2 64.6h.01M219.65 62.69h.01M223.32 79.6h.01M227.69 44.33h.01M223.75 81.99h.01M219.31 59.37h.01M227.95 73.37h.01M224.59 29.56h.01M215.7 56.21h.01M217.69 71.34h.01M225.85 23.58h.01M217.91 54.83h.01M219.53 49.37h.01M224.35 38.24h.01M224.33 41.18h.01M219.28 61.13h.01M219.13 56.88h.01M230 52.46h.01M221.27 64.5h.01M220.17 70.41h.01M215.59 62.52h.01M219.44 38.42h.01M230.85 37.55h.01M230.78 63.19h.01M229.27 35.4h.01M227.99 76.76h.01M221.42 49.81h.01M234.28 55.02h.01M219.89 41.29h.01M224.23 57.62h.01M222.89 81.26h.01M220.36 60.04h.01M229.3 34.93h.01M227.19 83.14h.01M215.23 33.34h.01M216.81 20.61h.01M224.26 20.45h.01M224.49 76.7h.01M213.92 46.62h.01M212.41 65.25h.01M218.31 47.48h.01M222.27 61.27h.01M220.27 52.26h.01M219.27 53.95h.01M216.14 53.08h.01M212.34 43.67h.01M231.58 53.35h.01M215.7 56.37h.01M217.14 23.93h.01M218.32 64.53h.01M223.92 50.35h.01M217.37 33.66h.01M228.75 56.16h.01M216.26 50.69h.01M223.05 49.32h.01M220.61 28.66h.01M216.74 80.71h.01M218.22 66.37h.01M213.53 47.34h.01M223.31 69.62h.01M216.39 62.12h.01M223.93 39.46h.01M224.39 36.73h.01M218.02 51.68h.01M217 27.13h.01M219.87 64.97h.01M219.98 73.52h.01M216.2 29.69h.01M229.76 58.78h.01M226.73 37.94h.01M226.02 56.41h.01M225.24 52.43h.01M228.03 40.97h.01M217.18 26.88h.01M227.8 39.45h.01M216.78 36.02h.01M219.77 30.39h.01M220.55 41.34h.01M219.24 35.69h.01M222.18 44.17h.01M222.57 56.24h.01M219.32 38.47h.01M225.87 25.18h.01M218.43 47h.01M220.32 68.85h.01M219.79 68.4h.01M214.67 21.19h.01M228.1 59.41h.01M224.44 54.09h.01M224.42 31.33h.01M226.74 42.95h.01M226.93 53.49h.01M212.13 30.12h.01M227.64 49.67h.01M220.02 56.12h.01M219.87 42.74h.01M222.51 54.45h.01M229.58 52.78h.01M231.4 82.65h.01M230.58 70.04h.01M222.65 54.33h.01M221.29 39.57h.01M221.67 41.11h.01M230.2 61.08h.01M219.77 19.43h.01M221.73 44.92h.01M216.57 32.68h.01M210.75 61.67h.01M221.85 49.48h.01M229.22 54.28h.01M222.84 45.68h.01M218.97 77.49h.01M227 81.17h.01M220.25 52.51h.01M217.6 68.44h.01M215.03 61.6h.01M227.48 75.99h.01M217.3 70.52h.01M218.43 39.13h.01M215.38 71.64h.01M230.24 41.9h.01M218.2 46.24h.01M234.54 69.07h.01M219.29 21.5h.01M218.64 72.18h.01M231.34 47.47h.01M218.54 43.33h.01M212.57 67.44h.01M216.57 70.07h.01M213.46 30.41h.01M223.44 39.02h.01M225.91 52.14h.01M216.13 62.57h.01M226.21 19.48h.01M231.13 60.45h.01M225.8 20.38h.01M218.4 46.06h.01M227.39 27.19h.01M217.58 17.49h.01M220.79 57.88h.01M213.57 41.95h.01M224.55 78.95h.01M225.32 46.84h.01M216.11 36.08h.01M218.68 54.5h.01M221.75 80.34h.01M223.44 33.78h.01M229.72 68.13h.01M222.51 39.74h.01M212.65 34.62h.01M226.56 38.35h.01M215.4 55.32h.01M223.22 62.31h.01M225.28 75.95h.01M217.8 68.64h.01M217.06 63.8h.01M222.9 56.14h.01M226.84 51.7h.01M227.56 66.88h.01M222.68 42.37h.01M218.23 43.03h.01M220.99 51.58h.01M236.9 62.85h.01M225.85 37.37h.01M218.45 46.58h.01M222.96 34.39h.01M230.06 42.43h.01M221.97 56.72h.01M222.96 62.23h.01M223.4 54.76h.01M212.54 39.87h.01M210.29 62.68h.01M223.54 48.68h.01M217.89 42.11h.01M231.23 81.43h.01M221.71 73.9h.01M214.06 19.1h.01M219.58 37.13h.01M219.2 55.2h.01M237.12 40.77h.01M222.25 56.7h.01M221.83 67.83h.01M230.88 30.86h.01M222.81 47.5h.01M223.78 25.96h.01M224.63 55.26h.01M220.13 39.16h.01M214.93 36.44h.01M225.49 61.25h.01M221.89 60.74h.01M218.98 53.21h.01M222.2 61.42h.01M221.65 49.57h.01M221.33 41.04h.01M233.17 60.74h.01M229.02 25.54h.01M225.48 66.25h.01M231.42 74.37h.01M225.85 31.99h.01M217.65 56.57h.01M224.52 34.63h.01M220.08 45.2h.01M222.3 57.72h.01M220.57 30.97h.01M228.21 79.13h.01M221.47 69.42h.01M224.22 63.21h.01M224.41 39.02h.01M224.87 69.18h.01M217.52 85.43h.01M232.45 82.99h.01M231.95 64.62h.01M220.31 41.8h.01M217.94 53.97h.01M221.84 63.39h.01M233.38 51.53h.01M225.38 60.09h.01M223.37 48.45h.01M221.39 37.98h.01M222.89 51.59h.01M223.6 37.46h.01M222.2 52.81h.01M225.02 33.92h.01M224.1 68.72h.01M224.99 45.73h.01M219.54 47.98h.01M225.65 78.4h.01M221.21 41.07h.01M223.88 55.47h.01M217.46 39.46h.01M221.49 63.42h.01M216.03 34.69h.01M224.5 31.18h.01M222.54 57.99h.01M221.44 34.69h.01M221.7 46.35h.01M223.68 37.74h.01M227.46 23.52h.01M221.12 52.13h.01M226.81 41.66h.01M224.73 42.37h.01M225.69 81.53h.01M219.99 59.53h.01M217.36 68.54h.01M228.05 52.6h.01M216.33 58.84h.01M227.75 70.52h.01M226.07 20.88h.01M218.6 76.17h.01M215.87 71.23h.01M231.41 64.95h.01M227.6 46.34h.01M215.87 50.25h.01M221.01 51.19h.01M225.48 49.54h.01M222.96 59.21h.01M221.97 83.34h.01M224.21 53.44h.01M220.96 41.37h.01M228.72 54.55h.01M216.61 42.44h.01M221.32 44.43h.01M227.42 32.25h.01M224.46 54.44h.01M216.11 52.81h.01" stroke="#999" stroke-width="0.6" stroke-linecap="round" fill="none" opacity="1"/>
<path d="M227.43 84.01h.01M225.3 82.43h.01M218.01 71.33h.01M232.71 88.33h.01M227.92 75.21h.01M234.5 63.27h.01M223.2 85.38h.01M231.92 71.74h.01M228.92 72.83h.01M228.33 87.21h.01M212.45 88.88h.01M232.44 63.35h.01M232.63 65.76h.01M234.84 83.19h.01M241.51 75.11h.01M228.03 88.38h.01M224.16 74.36h.01M225.77 79.42h.01M221.51 83.87h.01M231.26 80.57h.01M238.2 77.38h.01M235.84 75.63h.01M232.53 64.52h.01M229.19 78.6h.01M225.03 75.12h.01M225.92 74.24h.01M214.84 75.23h.01M224.7 75.81h.01M221.65 78.91h.01M232.71 78h.01M233.86 87.37h.01M234.93 77.38h.01M227.22 88.91h.01M224.68 79.04h.01M230.27 82.98h.01M226.34 87.87h.01M226.93 85.8h.01M234.42 85.27h.01M232.4 70.72h.01M220.13 75.05h.01M220.67 82.45h.01M222.88 74.14h.01M226.34 85.53h.01M229.28 89.44h.01M222.09 87.11h.01M233.58 80.56h.01M230.86 75.49h.01M221.46 76.76h.01M229.21 82.5h.01M232.46 73.77h.01M233.5 83.01h.01M218.91 84.81h.01M231.32 83.62h.01M237.51 76.69h.01M231.07 85.99h.01M222.6 89.6h.01M219.3 69.6h.01M231.13 71.29h.01M227.3 66.84h.01M228.41 70.93h.01M230.05 67.74h.01M230.69 77.87h.01M228.38 79.46h.01M228.78 69.43h.01M212.61 80.27h.01M222.39 76.36h.01M230.56 64.12h.01M223.42 75.12h.01M221.66 82.61h.01M227.16 73.43h.01M222.09 86.46h.01M224.04 84.68h.01M230.7 64.85h.01M221.5 80.02h.01M230.05 86.24h.01M232.81 88.27h.01M225.76 78.32h.01M232.65 76.6h.01M234.34 67.29h.01M231.92 78.61h.01M216.2 87.84h.01M229.87 80.17h.01M221.54 76.28h.01M237.07 73.38h.01" stroke="#999" stroke-width="0.6" stroke-linecap="round" fill="none" opacity="1"/>
<path d="M243.6 48.42h.01M245.21 39.05h.01M244.32 62.57h.01M243.12 73.48h.01M244.91 36.89h.01M247.57 56.77h.01M243.91 58.98h.01M242.32 38.92h.01M248.25 46.93h.01M243.4 56.17h.01M247.83 49.73h.01M242.39 45.84h.01M246.84 59.22h.01M249.71 46.97h.01M245.04 49.54h.01M248.41 38.7h.01M247.6 41.89h.01M246.92 58.26h.01M243.63 48.96h.01M246.48 57.05h.01M244.14 38.1h.01M242.15 80.47h.01M245.62 47.33h.01M243.01 61.16h.01M244.93 67.23h.01M247.7 50.25h.01M247.45 36.66h.01M245.35 43.09h.01M243.46 50.2h.01M245.71 67.23h.01M239.29 41.93h.01M244.16 44.43h.01M246.84 54.85h.01M246.06 44.31h.01M246.99 54.32h.01M242.31 46.85h.01M243.25 35.82h.01M246.29 50.72h.01M246.23 39.49h.01" stroke="#aaa" stroke-width="0.6" stroke-linecap="round" fill="none" opacity="1"/>
<path d="M228.5 28.5C225.5 31.5,224.6 37,225 41C226.5 49,230.4 57,231.6 65L240.8 65C241.8 57,244.6 49,244.6 41L244.6 30.5Z" fill="#b4b4b4" stroke="#1a1a1a" stroke-width="0.45"/>
<path d="M229.8 28.5C226.8 31.5,225.9 37,226.3 41C227.8 49,231.2 54.8,232.4 62.8L240 62.8C241 54.8,244.1 49,244.1 41L244.1 30.5Z" fill="#8c8c8c" stroke="#1a1a1a" stroke-width="0.45"/>
<path d="M231.1 28.5C228.1 31.5,227.2 37,227.6 41C229.1 49,232 52.6,233.2 60.6L239.2 60.6C240.2 52.6,243.6 49,243.6 41L243.6 30.5Z" fill="#9a9a9a" stroke="#1a1a1a" stroke-width="0.45"/>
<path d="M232.4 28.5C229.4 31.5,228.5 37,228.9 41C230.4 49,232.8 50.4,234 58.4L238.4 58.4C239.4 50.4,243.1 49,243.1 41L243.1 30.5Z" fill="#b8b8b8" stroke="#1a1a1a" stroke-width="0.45"/>
<path d="M233.7 28.5C230.7 31.5,229.8 37,230.2 41C231.7 49,233.6 48.2,234.8 56.2L237.6 56.2C238.6 48.2,242.6 49,242.6 41L242.6 30.5Z" fill="#d4d4d4" stroke="#1a1a1a" stroke-width="0.45"/>
<path d="M235 28.5C232 31.5,231.1 37,231.5 41C233 49,234.4 46,235.6 54L236.8 54C237.8 46,242.1 49,242.1 41L242.1 30.5Z" fill="#eee" stroke="#1a1a1a" stroke-width="0.45"/>
<path d="M236.3 28.5C233.3 31.5,232.4 37,232.8 41C234.3 49,234.6 43.8,235.8 51.8L236.6 51.8C237.6 43.8,241.6 49,241.6 41L241.6 30.5Z" fill="#fff" stroke="#1a1a1a" stroke-width="0.45"/>
<ellipse cx="236.8" cy="35.2" rx="7.6" ry="8.2" fill="#222" filter="url(#b0)"/>
<path d="M236.8 27C241.21 27,244.4 30.44,244.4 35.2C244.4 39.96,241.21 43.4,236.8 43.4C232.39 43.4,229.2 39.96,229.2 35.2C229.2 30.44,232.39 27,236.8 27Z" fill="#333" stroke="#1a1a1a" stroke-width="0.45"/>
<path d="M236.8 27.5C240.92 27.5,243.9 30.73,243.9 35.2C243.9 39.67,240.92 42.9,236.8 42.9C232.68 42.9,229.7 39.67,229.7 35.2C229.7 30.73,232.68 27.5,236.8 27.5Z" fill="#1a1a1a" stroke="#1a1a1a" stroke-width="0.45"/>
<path d="M236.8 28C240.63 28,243.4 31.02,243.4 35.2C243.4 39.38,240.63 42.4,236.8 42.4C232.97 42.4,230.2 39.38,230.2 35.2C230.2 31.02,232.97 28,236.8 28Z" fill="#0b0b0b" stroke="#1a1a1a" stroke-width="0.45"/>
<ellipse cx="236.9" cy="35.2" rx="6.3" ry="6.9" fill="#0a0a0a"/>
<ellipse cx="236" cy="36" rx="0.6" ry="1.5" fill="#666" filter="url(#b0)"/>
<path d="M235.4 67.2C241.16 67.2,245 72.08,245 79.4C245 86.72,241.16 91.6,235.4 91.6C229.64 91.6,225.8 86.72,225.8 79.4C225.8 72.08,229.64 67.2,235.4 67.2Z" fill="#eee" stroke="#1a1a1a" stroke-width="0.45"/>
<path d="M235.65 68.05C240.9 68.05,244.4 72.59,244.4 79.4C244.4 86.21,240.9 90.75,235.65 90.75C230.4 90.75,226.9 86.21,226.9 79.4C226.9 72.59,230.4 68.05,235.65 68.05Z" fill="#aaa" stroke="#1a1a1a" stroke-width="0.45"/>
<path d="M235.9 68.9C240.64 68.9,243.8 73.1,243.8 79.4C243.8 85.7,240.64 89.9,235.9 89.9C231.16 89.9,228 85.7,228 79.4C228 73.1,231.16 68.9,235.9 68.9Z" fill="#555" stroke="#1a1a1a" stroke-width="0.45"/>
<path d="M236.15 69.75C240.38 69.75,243.2 73.61,243.2 79.4C243.2 85.19,240.38 89.05,236.15 89.05C231.92 89.05,229.1 85.19,229.1 79.4C229.1 73.61,231.92 69.75,236.15 69.75Z" fill="#111" stroke="#1a1a1a" stroke-width="0.45"/>
<ellipse cx="235.9" cy="79.6" rx="6.3" ry="9.6" fill="#070707"/>
<ellipse cx="236.4" cy="79.8" rx="0.6" ry="2.2" fill="#ddd"/>
</g>
<g clip-path="url(#c03)">
<path d="M310.79 37.05h.01M314.29 56.26h.01M322.53 63.19h.01M307.17 42.51h.01M306.37 51.67h.01M323.88 56.5h.01M298.8 32.91h.01M304.24 54.18h.01M312.01 51.6h.01M322.69 38.07h.01M306.91 71.59h.01M314.05 38.65h.01M299.83 29.71h.01M297.33 48.82h.01M312.26 59.92h.01M311.16 39.68h.01M307.55 70.81h.01M301.41 50.08h.01M312.15 55.4h.01M309.57 53.99h.01M316.89 46.23h.01M309.25 45.76h.01M306.21 45.51h.01M310.19 50.52h.01M320.02 63.69h.01M309.33 55.24h.01M313.77 57.14h.01M312.13 51.19h.01M309.19 38.59h.01M317.23 63.59h.01M315.97 53.23h.01M313.6 42.6h.01M301.3 55.96h.01M313.2 41.35h.01M306.21 63.33h.01M301.17 69.14h.01M315.84 76.45h.01M307.69 47.74h.01M308.96 49.86h.01M310.74 39.02h.01M318.45 38.58h.01M308.95 54.65h.01M308.77 42.78h.01M314.14 43.59h.01M304.52 46.77h.01M310.68 68.46h.01M305.42 59.63h.01M307.28 43.73h.01M310.04 51.25h.01M317.18 69h.01M308.18 63.96h.01M317.97 57.75h.01M307.44 58.81h.01M311.36 52.24h.01M310.39 55.97h.01M318.69 61.57h.01M310.77 59.94h.01M320.71 36.78h.01M320.83 31.98h.01M315.26 55.13h.01M320.9 51.35h.01M309.12 38.44h.01M304.49 57.19h.01M310.58 39.39h.01M315.19 38.82h.01M309.38 42.5h.01M321.93 65.55h.01M311.05 29.15h.01M313.66 48.86h.01M314.09 54.79h.01M310.08 59.1h.01M317.02 50.53h.01M309.56 42.23h.01M316.16 34.81h.01M311.04 39h.01M303.64 55.24h.01M311.85 48.43h.01M317.25 30.07h.01M311.6 51.46h.01M316.99 34.98h.01M316.3 50.63h.01M320.13 61.67h.01M315.3 73.78h.01M311.99 42.91h.01M309.96 36.71h.01M311.83 25.46h.01M311.49 53.11h.01M317.95 43.83h.01M320.33 40.18h.01M311.19 25.47h.01M307.43 38.5h.01M320.75 54.22h.01M305.53 54.25h.01M314.82 45.26h.01M312.13 44.42h.01M308.82 27.23h.01M311.47 63.05h.01M320.39 44.73h.01M307.62 45.52h.01M317.26 52.12h.01M308.58 52.24h.01M310.79 54.04h.01M309.61 30.77h.01M312.34 56.9h.01M305.52 46.74h.01M317.14 43.62h.01M308.19 71.75h.01M316.85 60.02h.01M306.47 67.09h.01M302.32 41.94h.01" stroke="#aaa" stroke-width="0.6" stroke-linecap="round" fill="none" opacity="1"/>
<path d="M320.48 88.36h.01M305.85 72.83h.01M315.72 62.99h.01M319.6 82.36h.01M310.08 82.18h.01M320.79 80.4h.01M318.57 89.76h.01M309.83 79.26h.01M309.44 86.03h.01M310.44 81.68h.01M315.19 78.51h.01M328.98 77.34h.01M326.36 84.4h.01M325.5 76.72h.01M322.08 83.85h.01M308.65 80.08h.01M312.88 77.72h.01M325.33 72.43h.01M299.37 64.54h.01M310.07 73.02h.01M314.12 82.37h.01M329.3 80.39h.01M318.03 72.33h.01M319.04 88.49h.01M325.64 62.92h.01M321.73 90.22h.01M321.17 66.47h.01M311.34 82.53h.01M317.6 71.74h.01M306.28 85.45h.01M302.43 89.05h.01M314.17 80.32h.01M302.44 73.41h.01M319.97 66.67h.01M331.94 67.19h.01M303.42 78.33h.01M318.17 83.64h.01M310.79 76.4h.01M311.96 73.58h.01M316.17 79.22h.01M308.56 79.93h.01M313.89 77.41h.01M323.56 64.76h.01M316.18 69.8h.01M311.25 89.52h.01M304.63 77.23h.01M308.89 85.3h.01M305.53 65.07h.01M318.44 75.28h.01M311.24 86.3h.01M306.33 75.13h.01M315.28 81.18h.01M309.53 85.95h.01M333.37 74.86h.01M330.16 61.79h.01M326.16 75.36h.01M315.19 75.39h.01M308.5 68.18h.01M310.59 87.96h.01" stroke="#999" stroke-width="0.6" stroke-linecap="round" fill="none" opacity="1"/>
<path d="M314.6 30 C318 28,322.6 29.5,322.8 34 C323 40,321.6 46,320.2 50 C319 53.6,314 53.6,312.6 50.4 C311 46,310.4 40,311.6 35.4 C312 33,313 31,314.6 30Z" fill="#fff" stroke="#111" stroke-width="0.75"/>
<path d="M316.4 34 C318.6 32.6,320.8 34,320.4 37 C320 41,318.8 45,317 46.4 C315.2 47,314.6 44,315 41 C315.3 38,315.4 35.4,316.4 34Z" fill="#fff" stroke="#111" stroke-width="0.65"/>
<path d="M303.54 79.2 C303.54 70.2,312.2 65.4,318.47 65.4 C324.08 65.4,325.95 71.4,325.95 77.4 C325.95 84.6,322.21 89.4,316.6 89.4 C310 89.4,303.54 85.8,303.54 79.2Z" fill="#fff" stroke="#222" stroke-width="0.5" />
<path d="M305.01 78.94 C305.01 70.75,312.9 66.38,318.6 66.38 C323.71 66.38,325.41 71.84,325.41 77.3 C325.41 83.85,322.01 88.22,316.9 88.22 C310.89 88.22,305.01 84.94,305.01 78.94Z" fill="#fff" stroke="#222" stroke-width="0.5" />
<path d="M306.36 78.69 C306.36 71.22,313.55 67.24,318.75 67.24 C323.41 67.24,324.96 72.22,324.96 77.2 C324.96 83.18,321.86 87.16,317.2 87.16 C311.72 87.16,306.36 84.17,306.36 78.69Z" fill="#f4f4f4" stroke="#222" stroke-width="0.5" />
<path d="M307.57 78.47 C307.57 71.63,314.16 67.98,318.92 67.98 C323.18 67.98,324.61 72.54,324.61 77.1 C324.61 82.57,321.76 86.22,317.5 86.22 C312.48 86.22,307.57 83.48,307.57 78.47Z" fill="#ddd" stroke="#222" stroke-width="0.5" />
<path d="M308.66 78.26 C308.66 71.96,314.72 68.6,319.11 68.6 C323.04 68.6,324.35 72.8,324.35 77 C324.35 82.04,321.73 85.4,317.8 85.4 C313.18 85.4,308.66 82.88,308.66 78.26Z" fill="#aaa" stroke="#222" stroke-width="0.5" />
<path d="M309.61 78.07 C309.61 72.22,315.24 69.1,319.32 69.1 C322.96 69.1,324.18 73,324.18 76.9 C324.18 81.58,321.75 84.7,318.1 84.7 C313.81 84.7,309.61 82.36,309.61 78.07Z" fill="#555" stroke="#222" stroke-width="0.5" />
<ellipse cx="317.6" cy="76.6" rx="6.9" ry="8.2" fill="#080808"/>
<ellipse cx="318.2" cy="76.4" rx="0.7" ry="1" fill="#bbb"/>
</g>
<g clip-path="url(#c04)">
<path d="M401.33 41h.01M405.79 35.7h.01M393.75 25.4h.01M386.74 27.33h.01M385.78 27.22h.01M382.54 24.5h.01M377.47 48.3h.01M383.42 25.33h.01M381.69 59.49h.01M377.7 62.51h.01M384.31 28.18h.01M399.13 22.73h.01M377.58 37.06h.01M380.48 57.27h.01M379.47 49.42h.01M379.85 44.39h.01M400.77 35.68h.01M402.43 35.45h.01M378.5 41.54h.01M380.01 38.29h.01M398.22 23.91h.01M403.44 29.54h.01M393.77 24.25h.01M386.01 24.67h.01M378.64 59.19h.01M394.25 25.57h.01M400.95 35.78h.01M383.43 67.07h.01M379.4 28.31h.01M402.5 30.51h.01M379.32 29.86h.01M388.28 22.76h.01M376.96 51.37h.01M378.5 40.03h.01M379.35 37.62h.01M379.17 66.63h.01M377.83 64.44h.01M380.36 29.16h.01M378.86 24.27h.01M400.86 27.27h.01M390.23 25.75h.01M407.51 34.14h.01M378.45 43.95h.01M379.06 40.67h.01M380.3 63.65h.01M379.37 39.68h.01M379.08 41.09h.01M380.94 33.76h.01M377.83 54.7h.01M383.04 24.45h.01M403.27 38.8h.01M405.94 44.18h.01M378.85 34.01h.01M378.8 46.63h.01M380 55.27h.01M376.84 52.07h.01M391.93 23.98h.01M380.01 61.27h.01M378.54 40.89h.01M391.08 25.42h.01M378.78 42.24h.01M377.89 41.86h.01M380.21 64.06h.01M379.06 48.04h.01M398.48 39.33h.01M397.53 25.24h.01M377.57 56.33h.01M377.11 34.74h.01M385.12 27.65h.01M376.35 47.47h.01M400.06 29.45h.01M378.79 46.27h.01M377.06 57.46h.01M382.13 39.82h.01M399.58 27.05h.01M381.11 29.18h.01M403.41 40.28h.01M406.83 38.71h.01M401.57 27.81h.01M379.29 40.94h.01M378.37 42.82h.01M390.81 25.65h.01M380.87 63.97h.01M390.21 27.15h.01M380.55 47.76h.01M390.64 22.47h.01M380.13 51.56h.01M382.11 46.67h.01M380.58 46.18h.01M393.74 25.38h.01M385.76 25.12h.01M399.88 29.18h.01M405.23 33.99h.01M404.8 42.79h.01M379.14 56.5h.01M376.33 61.56h.01M397.66 22.31h.01M401.45 28.97h.01M381.96 29.27h.01M403.98 44.6h.01M380.24 58.47h.01M394.77 24.8h.01M380.74 28.14h.01M379.27 41.61h.01M403.51 35.8h.01M378.21 62.74h.01M380.81 36.84h.01M391.51 24.31h.01M395.63 21.22h.01M380.37 43.66h.01M380.87 38.59h.01M380.43 48.22h.01M378.23 58.54h.01M406.93 37.45h.01M382.52 25.74h.01M378.7 67.53h.01M403.88 44.76h.01M397.59 28.2h.01M388.32 23.29h.01M390.11 25.82h.01M402.56 37.74h.01M383.69 29.71h.01M380.39 25.47h.01M402.46 30.68h.01M391.3 25.95h.01M405.58 34.4h.01M382.38 58.63h.01M381.75 59.69h.01M378.67 61.79h.01M394.61 27.23h.01M382.14 56.09h.01M382.82 28.17h.01M377.75 66.99h.01M378.32 63.47h.01M377.6 49.09h.01M390.33 23.37h.01M388.78 23.38h.01M381.95 34.11h.01M391.58 22.47h.01M382.68 38.34h.01M397.81 21.48h.01M376.54 42.13h.01M380.56 28.67h.01M380.78 65.45h.01M377.79 35.78h.01M381.82 34.63h.01M396.85 28.73h.01M393.19 27.86h.01M380.63 51.11h.01M376.76 60h.01M393.89 24.75h.01M379.63 62.83h.01M399.53 32.38h.01M379.4 42.26h.01M379.22 47.83h.01M401.4 34.28h.01M379.27 43.94h.01M403.69 34.02h.01M378.1 39.03h.01M387.94 27.93h.01M382.75 23.37h.01M384.91 29.19h.01M402.41 29.1h.01M400.13 31.17h.01M403.37 35.51h.01M390.75 21.39h.01M378.42 53.82h.01M399.36 31.3h.01M380.7 51.46h.01M404.37 38.8h.01M405.5 41.16h.01M376.54 48.04h.01M395.84 24.75h.01M379.32 45.02h.01M377.21 55.89h.01M405.44 32.11h.01M379.12 65.73h.01M379.97 50.17h.01M378.7 34.35h.01M406.03 30.97h.01M382.95 28.47h.01M396.35 30.81h.01M404.55 33.72h.01M378.42 61.58h.01M381.55 50.31h.01M387.13 24.01h.01M379.99 64.39h.01M379.07 48.84h.01M380.63 62.56h.01M383.71 26.3h.01M382.52 29.02h.01M380.63 57.43h.01M377.56 55.89h.01M376.57 42.06h.01M379.17 60.59h.01M382.16 30.26h.01M383.03 27.45h.01M380.37 52.79h.01M404.16 34.59h.01M377.02 66.93h.01M394.11 27.79h.01M379.32 55.78h.01M377.87 45.23h.01M386.55 25.68h.01M382.14 63.58h.01M406.66 43.23h.01M382.58 41.11h.01M408.55 38.34h.01M378.2 61.65h.01M394.27 23.94h.01M377.83 51.65h.01M404.23 44.02h.01M404.06 37.18h.01M381.38 52.56h.01M396.27 26.59h.01M402.09 42.46h.01M407.08 39.59h.01M403.26 31.04h.01M402.1 27.65h.01M399.36 42.3h.01M403.55 27.36h.01M378.84 49.99h.01M406.02 37.18h.01M377.97 37.25h.01M398.88 33.35h.01M391.61 23.24h.01M400.06 30.55h.01M376.88 66.37h.01M378.74 32.28h.01M377.38 40.48h.01M378.32 46.63h.01M392.37 24.26h.01M402.22 31.68h.01M403.28 41.78h.01M402.05 36.79h.01M398.29 41.52h.01M377.12 54.46h.01M380.85 40.85h.01M401.84 35.08h.01M393.09 26.6h.01M377.95 32.83h.01M381.03 38.73h.01M402.2 37.64h.01M402.73 31.74h.01M379.12 33.19h.01M382.26 65.42h.01M404.72 40.76h.01M380.11 64.69h.01M391.5 25.14h.01M377.46 34.94h.01M400.9 30.95h.01M394.56 25.85h.01M384.85 24.45h.01M381.88 28h.01M398.79 26.04h.01M379.42 38.08h.01M381.53 53.54h.01M378.22 33.73h.01M383.39 37.36h.01M404.73 37.84h.01M390.35 24.63h.01M377.65 30.35h.01M399.17 27.64h.01M380.2 45.42h.01M402.69 25.3h.01M403.26 40.3h.01M382.08 62.44h.01M400.7 31.34h.01M391.06 21.79h.01M382.72 37.16h.01M382.22 41.33h.01M404.41 34.54h.01M393.14 23.81h.01M378.07 35.83h.01M392.67 26.16h.01M402.76 32.45h.01M380.26 55.61h.01M403.96 36.33h.01M391.43 23.74h.01M389.37 27.81h.01M387.65 24.51h.01M377.52 59.98h.01M400.56 31.44h.01M378.03 42.74h.01M379.41 56.86h.01M403.18 29.88h.01M379.19 59.27h.01M384.97 25.44h.01M376.9 51.69h.01M400.81 28.55h.01M377.07 34.62h.01M381.29 36.9h.01M383.88 42.39h.01M379.7 30.26h.01M382.4 33.85h.01M379.65 36.67h.01M381.94 34.95h.01M379.82 52.47h.01M396.58 30.63h.01M396.91 26h.01M403.89 33.69h.01M380.04 46.88h.01M383.71 44.29h.01M376.11 40.26h.01M379.25 60.14h.01M376.66 29.84h.01M400.8 32.24h.01M385.88 27.48h.01M404.21 36.97h.01M401.34 42.83h.01M405.35 31.73h.01M380.64 51.93h.01M401.02 28.75h.01M403.23 35.99h.01M405.89 35.66h.01M379.68 51.91h.01M387.09 25h.01M381.95 33.36h.01M381.15 62.65h.01M382.77 32.56h.01M391.47 25.65h.01M376.82 57.19h.01M404.58 44.02h.01M401.6 28.2h.01M380.26 60.63h.01M377.92 65.23h.01M393.63 25.1h.01M404.08 38.98h.01M379.3 59.85h.01M378.64 53.33h.01M401.47 28.53h.01M377.45 67.98h.01M389.23 26.5h.01M377.08 61.89h.01M377.35 67.34h.01M403.22 31.66h.01M377.16 51.97h.01M402.22 43.32h.01M405.09 32.49h.01M380.73 39.68h.01M406.08 43.05h.01M377.3 61.88h.01M380.88 33.38h.01M391.26 22.12h.01M399.32 33.7h.01M393.99 23.81h.01M402.73 40.47h.01M380.01 48.31h.01M379.37 33.37h.01M403.71 39.98h.01M379.31 47h.01M379.34 66.61h.01M399.66 27.95h.01M400.66 30.03h.01M389.8 26.45h.01M405.55 41.86h.01M401.53 40.29h.01M394.86 24.27h.01M405.75 37.51h.01M397.06 24.15h.01M395.02 23.44h.01M379.29 48.62h.01M380.83 47.74h.01M387.33 26.67h.01M380.77 63.05h.01M378.73 39.12h.01M394.49 25.26h.01M378.04 53.79h.01M378.18 32.9h.01M402.51 40.04h.01M378.85 49.99h.01M393.27 24.99h.01M392.69 24.89h.01M378.92 50.75h.01M402.88 42.24h.01M378.64 57.01h.01M377.48 59.87h.01M381.91 45.86h.01M377.76 51.17h.01M391.27 28.81h.01M403.83 31.9h.01M378.27 33.55h.01M379.83 58.87h.01M380.14 50.33h.01M380.06 31.25h.01M379.15 61.88h.01M402.61 41.72h.01M402.58 40.66h.01M401.13 39.15h.01M378.38 43.73h.01M378.86 66.86h.01M382.36 65.89h.01M381.47 29.65h.01M377 56.69h.01M383.1 39.32h.01M382.17 50.55h.01M378.39 65.27h.01M378.82 53.4h.01M394.48 25.57h.01M381.5 50.22h.01M403.14 43.97h.01M406.11 30.88h.01M404.23 42.01h.01M379.34 41.21h.01M403.88 31.23h.01M381.65 47.92h.01M380.76 49.84h.01M377.97 55.86h.01M381.16 63.76h.01M387.58 27.64h.01M402.09 34.31h.01M403.54 40.37h.01M379.59 66.88h.01M405.13 41.6h.01M401.17 30.24h.01M379.53 58.48h.01M402.43 36.85h.01M376.99 62.28h.01M376.57 48.42h.01M382.94 28.46h.01M382.6 32.24h.01M382.1 67.14h.01M382.36 53.86h.01M383.85 49.98h.01M406.06 41.64h.01M397.37 27.89h.01M380.24 50.94h.01M378.16 65.12h.01M386.75 25.21h.01M379.47 40.52h.01M377.18 66.47h.01M390.44 26.23h.01M378.78 52.73h.01M387.19 21.31h.01M387 24.92h.01M379.89 46.84h.01M379.23 54.57h.01M396.88 24.13h.01M381.6 27.66h.01M380.85 31.22h.01M378.3 60.57h.01M377.94 47.38h.01M377.69 53.19h.01M377.92 63.66h.01M377.36 49.66h.01M380.16 60.54h.01M398.67 31.39h.01M392.53 25.73h.01M376.7 59.45h.01M381.45 47.9h.01M397.03 26.6h.01M390.51 25.73h.01M379.82 43.62h.01M379.23 55.99h.01M401.4 41.29h.01M379.22 43.39h.01M379.55 64.17h.01M405.28 39.49h.01M380.94 28.64h.01M395.23 28.71h.01M378.52 37.95h.01M393.36 23.93h.01M400.18 27.9h.01M406.25 39.38h.01M390.49 23.44h.01M404.76 42.88h.01M379.09 44.9h.01M399.67 28.44h.01M404.76 41.99h.01M400.48 27.58h.01M383.02 27.31h.01M378.7 54.42h.01M378.52 49.1h.01M378.8 48.11h.01M402.59 41.21h.01M380.38 32.39h.01M405.34 41.85h.01M379.41 40.77h.01M378.25 56.25h.01M378.98 54.69h.01M404.39 29.98h.01M378.57 67.79h.01M382.29 42.13h.01M380.64 47.16h.01M377.82 60.08h.01M381.36 36.29h.01M402.88 37.64h.01M396.95 25.97h.01M376.51 38.28h.01M385.32 28.53h.01M406.32 31.91h.01M403.45 39.9h.01M402.98 34.67h.01M378.01 41.78h.01M380.16 41.68h.01M378.47 62.54h.01M383.05 33.54h.01M390.58 24.93h.01M403.57 37.23h.01M380.48 59.48h.01M383.99 30.21h.01M380.93 52.06h.01M403.53 41.61h.01M386.8 25.87h.01M377.72 34.51h.01M382.31 40.78h.01M402.94 29.7h.01M379.12 37.76h.01M380 52.3h.01M384.44 28.05h.01M380.79 53.55h.01M400.05 26.67h.01M379.15 66.17h.01M406.08 37.37h.01M379.83 56.44h.01M380.38 35.2h.01M380.64 27.6h.01M381.22 67.56h.01M380.41 48.12h.01M387.61 23.71h.01M397.83 27.74h.01M376.34 47.5h.01M378.33 33.31h.01M400.97 29.38h.01M404.41 45h.01M379.01 48.6h.01M377.9 44.62h.01M378.87 61.21h.01M380.04 31.3h.01M379.17 29.63h.01M376.85 56.86h.01M396.09 23.26h.01M377.5 40.37h.01M377.28 56.75h.01M397.29 26.29h.01M402.54 38.44h.01M392.74 21.62h.01M382.11 56.81h.01M392.93 27.81h.01M385 28.24h.01M404.1 28.21h.01M382.34 32.09h.01M384.38 28.43h.01M381.73 31.21h.01M381.11 47.97h.01M376.99 39.76h.01M404.25 30.71h.01M379.07 66.37h.01M380.43 50.37h.01M396.78 27.3h.01M403.79 39.05h.01M378.88 34.24h.01M381.01 60.4h.01M387.4 24.92h.01M378.75 65.9h.01M378.73 58.92h.01M401.67 43.02h.01M380.75 34.6h.01M409.07 44.17h.01M378.41 54.01h.01M383.58 28.32h.01M378.61 33.13h.01M387.37 24.31h.01M406.16 40.19h.01M379.25 54.71h.01M377.63 67.61h.01M401.15 29.83h.01M385.48 27.07h.01M402.62 39.06h.01M380.33 38.87h.01M400.13 32.62h.01M378.9 43.13h.01M402.63 33.94h.01M408.15 38.77h.01M398.29 28.04h.01M388.66 29.66h.01M377.46 60.15h.01M401.16 35.26h.01M391.8 21.73h.01M397.72 25.25h.01M406.79 38.16h.01M382.21 35.41h.01M401.04 35.08h.01M378.76 30.71h.01M377.31 63.81h.01M399.58 24.84h.01M403.47 30.24h.01M376.3 61.58h.01M379.87 31.06h.01M378.01 41.69h.01M376.7 58.99h.01M377.53 41.34h.01M378.84 48.45h.01M399.64 37.54h.01M385.3 29.49h.01M381.51 50.1h.01M404.91 41.64h.01M381.5 36.75h.01M381.78 32.03h.01M400.63 26.09h.01M401.28 36.35h.01M386.86 25.74h.01M384.37 27.24h.01M378 45.63h.01M403.03 41.13h.01M384.74 27.58h.01M380.31 40.22h.01M403.77 42.66h.01M384.54 26.71h.01M393.13 21.64h.01M402.26 44.23h.01M379.63 34.81h.01M384.62 24.78h.01M401.53 32h.01M378.64 54.29h.01M403.03 35.52h.01M401.83 42.65h.01M405.85 43.61h.01M378.35 46.6h.01M400.42 44.26h.01M392.35 22.72h.01M403.43 37.15h.01M378.03 55.77h.01M382.24 29.96h.01M379.55 36.25h.01M378.5 49.38h.01M402.78 30.98h.01M378.95 41.72h.01M393.03 22.97h.01M388.18 25.29h.01M379.71 61.43h.01M380.1 43.97h.01M378.5 48.71h.01M397.04 21.96h.01M376.96 64.37h.01M390.18 25.75h.01M376.99 41.87h.01M381.27 54.66h.01M393.11 21.41h.01M379.21 37.17h.01M394.9 23.23h.01M379.14 33.58h.01M402.74 38.74h.01M380.69 29.34h.01M379.61 45.09h.01M379.57 31.11h.01M395.15 22.79h.01M379.41 64.69h.01M377.69 63.58h.01M379.54 40.9h.01M402.49 43.06h.01M379.17 60.78h.01M402.95 34.82h.01M379.25 38.7h.01M404.56 34.94h.01M404.27 37h.01M391.63 27.12h.01M381.33 52.58h.01M380.73 27.9h.01M381.44 46.06h.01M377.59 53.54h.01M398.94 28.43h.01M403.55 38.95h.01M381.91 45.58h.01M396.77 28.23h.01M380.09 40.2h.01M382.34 52.41h.01M391.57 25.73h.01M380.57 63.33h.01M401.13 42.33h.01M379.84 50.3h.01M400.94 29.39h.01M379.96 29.29h.01M404.43 32.41h.01M404.86 42.91h.01M407.03 36.15h.01M399.88 28.86h.01M380.18 36.98h.01M380.82 66.72h.01M399.44 27.81h.01M389.7 24.42h.01M381.7 45.73h.01M404.66 37.46h.01M379.76 65.56h.01M388.23 26.13h.01M377.27 35.96h.01M377.78 59.13h.01M387.24 26.62h.01M401.69 29.21h.01M402.14 43.84h.01M381.16 50.5h.01M381.25 37.78h.01M378.84 47.93h.01M380.19 32.27h.01M377.82 60.41h.01M378.16 45.18h.01M405.42 43.05h.01M403.86 34.57h.01M380.9 39.97h.01M380.08 61.36h.01M380.19 58.99h.01M404.51 32.55h.01M403 41.63h.01M392.72 22.39h.01M378.36 50.06h.01M397.23 27.7h.01M402.41 41.35h.01M379.36 53.03h.01M395.38 25.49h.01M376.96 54.65h.01M383.81 25.61h.01M379.72 43.67h.01M388.58 24.47h.01M404.19 30.66h.01M384.22 39.91h.01M381.63 59.67h.01M406.93 39.55h.01M377.42 67h.01M385.14 29.52h.01M403.83 36.81h.01M378.49 62.29h.01M379.84 56.16h.01M402.15 35.02h.01M401.44 30.14h.01M382.64 50.68h.01M385.75 29.49h.01M378.17 30.84h.01M377.65 52.7h.01M382.68 48.46h.01M378.97 50.35h.01M380.82 28.67h.01M399.11 25.78h.01M398.41 24.49h.01M381.7 26.15h.01M401.46 29.11h.01M378.75 40.48h.01M378.27 29.75h.01M379.32 51.15h.01M401.2 32.22h.01M389.8 22.28h.01M403.5 25.99h.01M381 34.66h.01M378.26 35.91h.01M377.72 50.93h.01M385.89 25.29h.01M385.08 29.15h.01M403.73 39.39h.01M398.36 29.52h.01M386.14 26.87h.01M391.05 24.36h.01M384.31 27.3h.01M382.46 64.2h.01M377.49 48.36h.01M378.29 32.03h.01M397.68 25.23h.01M378.94 59.1h.01M404.21 44.44h.01M401.84 39.56h.01M376.93 62.05h.01M400.68 27.05h.01M382.88 53.79h.01M383.78 25.32h.01M382.54 49.21h.01M404.83 35.36h.01M389.77 27.01h.01M378.9 44.2h.01M380.59 52.07h.01M379.78 34.17h.01M377.56 41.71h.01M379.17 59.08h.01M396.97 26.21h.01M381.16 37.57h.01M377.88 44.62h.01M379.63 33.85h.01M404.75 31.19h.01M378.83 45.76h.01M377.51 52.41h.01M378.18 45.91h.01M406.05 37.12h.01M377.34 35.66h.01M387.09 26.22h.01M405.41 38.84h.01M379.8 39.07h.01M378.59 66.89h.01M378.63 52.87h.01M401.52 31.73h.01M402.07 40.53h.01M379.72 62.65h.01M397.14 26.29h.01M377.11 45.99h.01M379.6 46.76h.01M381.58 50.45h.01M381.78 29.09h.01M377.73 46.65h.01M405.29 44.15h.01M382.04 52.14h.01M401.4 30.84h.01M379.95 47.73h.01M380.22 32.19h.01M381 31.25h.01M378.17 64.4h.01M377.77 38.43h.01M391.86 26.42h.01M404.39 40.71h.01M400.58 44.2h.01M398.31 22.55h.01M404.05 35.17h.01M379.12 38.82h.01M402.57 33.17h.01M377.09 51.64h.01M379.27 56.13h.01M401.97 33.74h.01M377.2 37.29h.01M403.83 33.98h.01M404.42 41.81h.01M395.91 25.17h.01M381.13 48.24h.01M408.48 36.01h.01M379.51 66.24h.01M400.47 32.03h.01M380.31 47.24h.01M398.58 29.83h.01M404.58 38.37h.01M396.6 22.68h.01M397.47 31.15h.01M399.38 27.33h.01M381.3 48.13h.01M378.01 57.71h.01M407.5 44.67h.01M390.66 22.4h.01M379.6 32.73h.01M377.28 36.13h.01M387.86 28.29h.01M383.3 31.13h.01M388.53 25.09h.01M378.37 42.21h.01M403.4 31.17h.01M400.85 33.33h.01M378.97 47.59h.01M385.1 28.41h.01M398.06 25.38h.01M381.97 59.51h.01M379.79 64.14h.01M386.35 26.82h.01M398.59 27.82h.01M386.36 27.05h.01M406.13 43.69h.01M402.77 42.08h.01M390.59 27.59h.01M379.38 43.03h.01M403.33 27.47h.01M380.6 38.84h.01M383.83 28.31h.01M399.04 30.09h.01M383.55 29.64h.01M385.61 26.81h.01M379.83 66.72h.01M402.44 32.87h.01M405.67 39.24h.01M378.23 44.03h.01M378.14 58.88h.01M405.06 30.45h.01M402.11 30.75h.01M381.88 59.9h.01M389.34 21.68h.01M407 39.03h.01M394.27 23.46h.01M383.41 26.6h.01M404.58 36.06h.01M399.96 28.76h.01M380.35 59.83h.01M378.69 55.77h.01M404.39 35.37h.01M393.11 25.62h.01M392.59 23.22h.01M379.08 42.06h.01M396.32 25.09h.01M380.08 38.31h.01M398.66 26.06h.01M390.19 20.96h.01M405.81 38.11h.01M380.74 48.22h.01M381.42 28.63h.01M378.31 30.1h.01M403.4 36.08h.01M401.5 38.57h.01M383.02 28.43h.01M405.14 37.29h.01M407.27 41.59h.01M382.28 36.15h.01M403.81 32.85h.01M398.05 28.08h.01M377.79 53.43h.01M376.19 51.02h.01M384.09 22.52h.01M380.88 59.8h.01M388.93 30.09h.01M378.72 36.03h.01M387.76 27.23h.01M379.16 29.42h.01M385.21 26.38h.01M402.03 27.52h.01M399.18 29.95h.01M379.09 62.46h.01M384.06 26.06h.01M379.71 64.56h.01M381.65 46.38h.01M378.24 53.1h.01M378.47 40.61h.01M392.13 26.81h.01M393.6 19.91h.01M380.08 60.24h.01M380.31 33.18h.01M396.83 26.08h.01M396.13 27.68h.01M384.05 23.4h.01M385.9 29.05h.01M401.27 27.8h.01M378.57 28.71h.01M377.07 68.4h.01M398.63 28.63h.01M381.61 51.9h.01M398 25.56h.01M378.44 40.53h.01M379.16 54.56h.01M380.27 60.87h.01M395.79 22.06h.01M404.28 40.7h.01M377.15 52.85h.01M378.14 66.79h.01M378.89 46.98h.01M378.45 39.46h.01M377.23 33h.01M399.85 28.85h.01M385.72 27.89h.01M376.97 58.14h.01M406.92 35.87h.01M382.59 49.28h.01M393.14 23.26h.01M378.15 34.75h.01M379.86 46.81h.01M382.46 27.24h.01M405.24 33.76h.01M397.07 30.79h.01M405.19 42.1h.01M405.07 36.38h.01M403.11 32.68h.01M387.14 21.9h.01M397.82 24.53h.01M379.14 36.37h.01M400.61 30.45h.01M379.59 44.48h.01M403.5 33.55h.01M408.25 43.16h.01M398.07 24.72h.01M401.79 38.93h.01M380.81 65.62h.01M380.86 56.35h.01M386.26 24.47h.01M380.33 35.81h.01M394.6 25.65h.01M382.57 57.13h.01M376.45 35.22h.01M381.15 33.21h.01M383.52 29.83h.01M380.21 66.93h.01M378.11 65.14h.01M402.44 35.48h.01M396.86 27.89h.01M387.22 24.82h.01M404.41 28.32h.01M377.11 51.66h.01M398.24 30.33h.01M401.99 38.32h.01M398.45 28.15h.01M381.28 34.95h.01M379.61 37.74h.01M404.33 42.51h.01M381.35 33.6h.01M380.74 32.32h.01M404.52 36.36h.01M403.53 27.79h.01M377.5 49.95h.01M388.07 25.99h.01M379.78 32.26h.01M401.25 30.38h.01M406.21 36.52h.01M377.85 35.78h.01M398.23 25.07h.01M376.62 42.97h.01M379.25 54.57h.01M380.68 42.46h.01M380.86 36.2h.01M378.61 58.28h.01M381.77 43.99h.01M386.75 26.22h.01M379.68 56.03h.01M379.96 53.21h.01M382.05 41.9h.01M378.07 36.55h.01M378.01 35.1h.01M393.86 25.33h.01M377.67 57.39h.01M384.41 29.72h.01M379.85 42.34h.01M379.65 34.45h.01M377.8 51.45h.01M377.88 45.65h.01M401.28 29.02h.01M381.2 59.23h.01M382.58 47.67h.01M380.73 49.13h.01M403.85 36.31h.01M406.98 42.73h.01M379.44 46.17h.01M388.63 25.14h.01M378.17 34.06h.01M392.1 22.3h.01M404.84 34.85h.01M378.16 30h.01M403.46 36.56h.01M379.77 43.61h.01M401.73 28.16h.01M381.33 59.08h.01M378.03 36.09h.01M378.15 55.29h.01M381.36 37.63h.01M376.93 61.79h.01M406.21 33.08h.01M386.36 26.83h.01M377.83 60.12h.01M377.76 59.65h.01M402.24 29.04h.01M395.44 22.8h.01M377.87 56.16h.01M380.31 43h.01M402.54 35.34h.01M400.62 25.7h.01M376.28 46.68h.01M378.53 52.82h.01M399.99 31.33h.01M385.65 27.38h.01M377.72 59.66h.01M394.28 27.58h.01M379.45 67.38h.01M401.63 26.9h.01M403.67 36.8h.01M404.29 41.24h.01M379.11 44.45h.01M402.07 35.45h.01M384.42 25.75h.01M403.86 36.43h.01M404.58 32.7h.01M383.08 39.01h.01M378.74 64.24h.01M379.8 47.75h.01M404.95 37.43h.01M387.38 25.27h.01M402.93 41.48h.01M378.98 41.37h.01M405.77 43.71h.01M377.86 66.28h.01M384.09 28.29h.01M380.12 44.24h.01M395.73 27.5h.01M379.65 31.6h.01M405.82 33.37h.01M381.15 54.83h.01M404.18 43.39h.01M387.63 24.3h.01M377.63 41.67h.01M404.64 41.79h.01M382.05 63.8h.01M378.89 60.71h.01M382.45 27.33h.01M378.2 47.4h.01M384.06 22.22h.01M401.91 31.61h.01M404.23 40.22h.01M395.74 25.96h.01M406.84 38.45h.01M378.88 61.93h.01M378.01 32.28h.01M379.4 46.54h.01M396.24 27.37h.01M404.79 33.21h.01M381.53 66.5h.01M376.41 33.32h.01M387.23 25.93h.01M377.53 58.3h.01M404.35 34.32h.01M387.66 25.17h.01M379.66 34.65h.01M379.31 62.03h.01M384.68 50.56h.01M379.43 30.88h.01M395.48 26.72h.01M389.11 24.12h.01M378.82 59.72h.01M388.54 23.9h.01M381.03 31.77h.01M379.08 31.69h.01M402.32 44.42h.01M399.55 24.69h.01M400.96 44.29h.01M404.85 34.44h.01M405.59 43.02h.01M390.47 24.04h.01M378.77 67.82h.01M382.66 27.86h.01M399.95 34.48h.01M382.52 26.23h.01M379.46 67.95h.01M380.59 65.55h.01M404.5 28.61h.01M377.02 35.42h.01M406.46 38.41h.01M380.42 64.87h.01M390.42 25.58h.01M380.17 66.7h.01M379.81 35.89h.01M402.22 29.91h.01M379.29 60.31h.01M382.72 28.64h.01M378.35 67.82h.01M400.33 27.96h.01M403.85 39.06h.01M399.35 26.31h.01M401.06 44.04h.01M379.19 42.1h.01M395.88 24.39h.01M386.73 28.45h.01M378 62.1h.01M396.79 24.89h.01M379.27 51.84h.01M385.59 27.26h.01M377.11 56.62h.01M379.57 47.47h.01M381.22 44.85h.01M390.31 25.7h.01M380.23 59.74h.01M377.04 58.05h.01M379.15 38.32h.01M379.4 47.55h.01M378.85 42.89h.01M398.07 26.65h.01M376.38 31.65h.01M405.84 36.09h.01M379.23 42.88h.01M389.94 26.09h.01M403.62 31.71h.01M378.88 61.98h.01M404.86 33.13h.01M377.75 37.96h.01M380.38 49.94h.01M401.95 29.18h.01M389.84 21.88h.01M399.76 26.72h.01M378.21 56.71h.01M403.4 36.05h.01M381.57 26.14h.01M385.64 26.84h.01M387.27 26.72h.01M402.61 40.02h.01M403.14 43.42h.01M394.82 29.02h.01M379.5 51.05h.01M378.73 49.94h.01M381.36 34.75h.01M407.4 43.91h.01M379.39 28.22h.01M377.14 39.97h.01M379.42 59.83h.01M380.95 54.29h.01M379.24 37.86h.01M384.1 25.09h.01M398.62 25.55h.01M378.48 67.39h.01M378.11 37.99h.01M384.77 23.07h.01M381.93 42.18h.01M383.75 28.15h.01M391.02 27.1h.01M380.47 39.38h.01M379.92 29.71h.01M378.87 51.2h.01M397.07 23.84h.01M402.24 35.71h.01M380.06 30.94h.01M380.61 29.54h.01M402.15 34.83h.01M379.46 31.69h.01M382.68 29.65h.01M403.44 41.29h.01M380.26 49.61h.01M387.47 27.87h.01M381.87 26.28h.01M408.45 40.28h.01M379.06 33.35h.01M405.73 37.98h.01M380.88 33.5h.01M382.09 28.26h.01M396.98 30.2h.01M383.6 61.79h.01M376.44 65.3h.01M380.85 60.12h.01M395.73 22.06h.01M379.85 64.7h.01M403.11 34.83h.01M395.8 32.14h.01M380.04 51.52h.01M389.57 25.39h.01M378.83 48.23h.01M377.51 58.97h.01M379.87 67.29h.01M399.49 28.77h.01M376.65 61.96h.01M400.02 30.91h.01M379.22 49.22h.01M381.64 39.79h.01M379.19 53.79h.01M380.54 31.2h.01M387.91 24.99h.01M390.33 24.68h.01M379.38 50.29h.01M379.85 40.95h.01M382.17 48.91h.01M377.07 65.91h.01M394.69 23.4h.01M399.83 29.77h.01M378.82 48.15h.01M384.69 24.4h.01M383.18 29.65h.01M403.88 39.72h.01M389.08 23.76h.01M403.94 39.54h.01M387.18 24.45h.01M382.81 65.15h.01M379.85 58.12h.01M379.71 55.5h.01M400.52 31.48h.01M401.74 30.99h.01M381.77 67.57h.01M400.72 41.48h.01M377.59 54.03h.01M377.89 30.65h.01M398.31 30.56h.01M382.52 26.08h.01M378.12 54.5h.01M402.33 36.91h.01M382.41 33.62h.01M396.76 25.04h.01M378.81 63.61h.01M378.72 47.54h.01M404.89 34.32h.01M394.94 26.6h.01M381.13 53.63h.01M377.42 43.45h.01M381.16 30.51h.01M379.59 66.92h.01M392.24 25.21h.01M377.86 45.62h.01M381.3 46.9h.01M399.62 26.46h.01M378.57 61.69h.01M384.15 32.59h.01M394.26 24.11h.01M379.16 47.51h.01M408 37.08h.01M381.42 28.16h.01M405.03 41.12h.01M378.59 46.87h.01M382.71 62.52h.01M381.71 37.18h.01M403.33 36.66h.01M399.02 29.69h.01M404.12 37.13h.01M405.31 43.03h.01M398.94 26.13h.01M405.07 42.76h.01M385.03 27.35h.01M389.92 25.14h.01M405.02 33.21h.01M404.67 44.22h.01M404.49 41.1h.01M400.9 33.95h.01M404.72 41.78h.01M380.25 30.21h.01M380.26 34.73h.01M378.71 57.22h.01M379.62 48.01h.01M381.3 34.34h.01M403.86 41.25h.01M385.72 28.9h.01M378.73 39.58h.01M380.76 34.5h.01M376.41 35.55h.01M382.48 33.44h.01M380.97 61.44h.01M378.47 53.36h.01M379.87 56.78h.01M393.81 21.52h.01M392.16 24.91h.01M400.95 27.07h.01M377.6 48.54h.01M393.33 30.15h.01M403.13 40.38h.01M381.1 34.61h.01M384.47 27.42h.01M401.96 35.78h.01M378.39 46.26h.01M381.44 42.86h.01M382.2 28.03h.01M403.01 29.43h.01M376.84 65.36h.01M380.77 31.33h.01M386.06 28.88h.01M385.74 25.02h.01M383.51 25.43h.01M398.93 25.31h.01M378.92 54.9h.01M402.46 44.81h.01M380.84 30.1h.01M401.81 32.5h.01M386.34 25.81h.01M379.79 54.33h.01M383.6 44.77h.01M405 36.27h.01M403.85 37.45h.01M377.54 42.01h.01M382.24 34.08h.01M391.72 28.4h.01M380.65 32.34h.01M378.05 61.48h.01M393.84 22.67h.01M383.21 24.71h.01M379.71 35.91h.01M395.42 21.98h.01M379.99 60.62h.01M404.56 35.33h.01M383.9 32.5h.01M382.21 41.68h.01M403.99 34.52h.01M382.21 50.34h.01M380.3 28.95h.01M383.59 45.64h.01M378.87 52.52h.01M381.44 27.45h.01M379.55 44.01h.01M379.88 49.45h.01M379.3 61.03h.01M396.38 29.16h.01M379.8 53.06h.01M380.66 62.54h.01M384.54 25.34h.01M380.36 46.06h.01M393.27 24.8h.01M381.16 55.77h.01M404.56 41.2h.01M376.17 52.65h.01M376.71 67.65h.01M380.97 61.41h.01M401.89 41.9h.01M405.7 38.15h.01M379.43 43.25h.01M389.64 25.83h.01M380.99 60.91h.01M390.68 24.06h.01M386.15 24.27h.01M400.66 24.47h.01M379.71 42.49h.01M400.19 25.26h.01M376.73 48.05h.01M401.9 36.64h.01M386.15 28.03h.01M390.18 22.5h.01M379.47 45.29h.01M376.98 62.19h.01M406.43 33.14h.01M403.61 32.06h.01M402.36 36.22h.01M401.01 41.4h.01M382.71 30.71h.01M376.66 47.56h.01M383.79 30.61h.01M384.19 67.52h.01M377.13 62.54h.01M377.66 65.61h.01M402.69 39.67h.01M401.11 40.94h.01M379.52 47.78h.01M376.32 48.77h.01M376.29 43.27h.01M403.05 31.57h.01M380.59 58.52h.01M384.89 25.53h.01M379 64.57h.01M406.51 36.03h.01M385.27 28.53h.01M377.71 38.16h.01M379.6 35.72h.01M403.3 36.14h.01M382.13 29.28h.01M386.93 24.49h.01M381.19 31.77h.01M381.57 36.62h.01M381.27 46.26h.01M376.16 59.46h.01M405.82 36.68h.01M403.87 44.17h.01M376.95 67.15h.01M394.31 24.25h.01M378.9 58.83h.01M407.32 35.17h.01M381.55 44.59h.01M377.85 64.82h.01M381.17 64.6h.01M380.24 56.69h.01M377.35 51.22h.01M394.59 25.88h.01M383.66 30.01h.01M398.26 28.2h.01M378.73 67.54h.01M397.44 24.91h.01M380.8 32.81h.01M400.57 35.85h.01M379.96 48.13h.01M383.76 31.2h.01M395.04 26.86h.01M389.72 23.32h.01M381.92 43.56h.01M380.78 35.76h.01M400.03 38.08h.01M377.94 39.21h.01M380.03 31.09h.01M379.64 36.02h.01M403.44 31.55h.01M379.92 45.64h.01M391.88 20.64h.01M384.32 46.23h.01M377.68 61.86h.01M401.97 30.52h.01M384.3 26.53h.01M404.45 28.02h.01M380.26 41.89h.01M395.66 28.86h.01M378.02 51.19h.01M379.2 55.74h.01M399.9 27.01h.01M376.7 52.66h.01M403.08 32.24h.01M383.84 30.04h.01M398.69 29.26h.01M385.2 28.07h.01M378.36 43.14h.01M379.35 31.94h.01M400.33 28.91h.01M401.58 41.62h.01M384.81 25.78h.01M392.28 24.56h.01M402.63 44.26h.01" stroke="#4a4a4a" stroke-width="0.6" stroke-linecap="round" fill="none"/>
<path d="M383.09 45.48h.01M398.05 25.19h.01M396.05 25.97h.01M382.76 32.86h.01M406.14 37.9h.01M403.04 50.31h.01M379 29.68h.01M390.24 21.62h.01M380.85 31.21h.01M406.07 38.3h.01M380.14 65.59h.01M377.67 30.37h.01M389.14 20h.01M377.27 36.1h.01M394.88 24.81h.01M391.37 25.27h.01M401.34 54.45h.01M397.67 34.74h.01M379.56 50.39h.01M377.46 36.73h.01M410.57 45.04h.01M403 41.35h.01M409.22 42.52h.01M383.68 54.96h.01M394.43 25h.01M382.79 44.9h.01M398.07 29.8h.01M378.85 61.57h.01M400.5 46.11h.01M401.45 46.13h.01M381.48 46.46h.01M396.76 26.94h.01M409.51 51.62h.01M378.02 50.56h.01M393.58 31.41h.01M380.27 56.75h.01M380.75 62.77h.01M408.66 49.03h.01M392.42 28.04h.01M386.99 25.92h.01M387.31 28.96h.01M405.87 49.67h.01M378.77 59h.01M405.7 55.4h.01M401.59 49.35h.01M378.28 40.28h.01M398.47 53.23h.01M384.36 26.69h.01M392.39 19.91h.01M405.38 53.88h.01M381.7 50.54h.01M388.06 26.09h.01M407.4 51.42h.01M378.28 27.71h.01M400.26 52.52h.01M380.61 38.49h.01M393.22 30.63h.01M390.57 24.41h.01M399.99 44.76h.01M384.24 30.85h.01M405.67 35.79h.01M381.02 66.83h.01M408.99 42.28h.01M382.04 29.87h.01M380.25 42.09h.01M401.21 31.41h.01M380.02 56.6h.01M387.72 24.88h.01M404.1 52.2h.01M396.57 30.13h.01M400.1 49.76h.01M377.81 58.16h.01M401.47 52.32h.01M387.41 24.69h.01M401.35 31.71h.01M400.3 33.83h.01M387.72 26.82h.01M380.17 43.99h.01M402.09 53.69h.01M377.82 30.29h.01M403.15 53.66h.01M379.41 65.34h.01M385.33 28.43h.01M397.1 31.97h.01M397.78 27.66h.01M400.99 50.08h.01M384.63 30.6h.01M398.55 21.5h.01M403.73 49.29h.01M402.79 50.95h.01M377.94 47.99h.01M408.45 45.49h.01M379.94 57.81h.01M404.66 30.95h.01M381.48 31.02h.01M400.13 45.56h.01M401.87 47.29h.01M377.45 65.44h.01M379.06 36.08h.01M402.76 53.14h.01M381.68 29.89h.01M398.33 53.8h.01M406.33 37.99h.01M403.75 28.47h.01M381.04 34h.01M398.53 29.49h.01M406.37 33.9h.01M400.61 37.75h.01M403.25 32.57h.01M380.47 35.57h.01M399.55 36.47h.01M381.8 29.74h.01M381.44 62.07h.01M402.72 55.4h.01M382.71 57.07h.01M403.51 30.54h.01M384.18 27.03h.01M398.97 19.88h.01M402.31 32.79h.01M382.55 22.34h.01M403.56 40.4h.01M400.57 54.61h.01M382.7 32.46h.01M379.75 31.96h.01M390.53 24.79h.01M405.62 34.19h.01M379.45 45.45h.01M382.85 30.14h.01M392.21 24.89h.01M380.08 38.89h.01M407.07 32.44h.01M400.13 41.53h.01M401.31 47.41h.01M394.21 30.76h.01M381.45 66.93h.01M391.82 23.98h.01M381.48 45.78h.01M386.07 44.4h.01M377.03 34.4h.01M400.13 26.8h.01M381.94 56.28h.01M376.83 63.21h.01M407.96 44.5h.01M387.56 28.15h.01M378.45 32.05h.01M406.35 52.67h.01M379.66 32.3h.01M385.06 29.07h.01M406.71 35.38h.01M403.05 25.44h.01M382.75 41.53h.01M383.2 34.4h.01M381.92 27.18h.01M405.11 42.2h.01M380.18 63.54h.01M399.01 34.71h.01M395.58 18.19h.01M383.01 36.46h.01M405.01 35.25h.01M400.17 37.59h.01M402.72 44.04h.01M402.14 38.94h.01M382.94 45.56h.01M403.56 39.03h.01M399.21 42.73h.01M400.07 48.09h.01M380.43 53.66h.01M378.59 52.47h.01M380.64 25.28h.01M378.06 63.23h.01M380.99 53.18h.01M386 39.67h.01M381.76 59.92h.01M378.41 54.31h.01M405.61 45.9h.01M379.9 34.55h.01M406.49 53.05h.01M381.03 58.96h.01M402.99 53.29h.01M408.95 46.48h.01M401.84 41.28h.01M389.75 17.84h.01M405.69 30.26h.01M400.77 28.75h.01M389.66 24.55h.01M376.15 29.07h.01M379.83 29.76h.01M403.76 45.8h.01M396.22 29.27h.01M396.5 25.36h.01M380.89 60.01h.01M376.87 40.54h.01M404.1 50.89h.01M396.47 34.7h.01M390.23 28.13h.01M400.39 23.75h.01M406.7 39.49h.01M388.4 34.89h.01M381.12 60.96h.01M380.11 57.63h.01M384.66 52.78h.01M401.86 22h.01M404.9 50.02h.01M379.89 35.32h.01M376.2 55.54h.01M404.89 31.21h.01M399.27 24.38h.01M389.85 25.59h.01M396.07 24.82h.01M407.34 44.58h.01M379.92 68.12h.01M383.47 29.25h.01M404.41 40.24h.01M377 39.39h.01M387.03 25.6h.01M391.38 22.98h.01M402.69 46.71h.01M401.03 55.1h.01M379.72 38.64h.01M403.16 35.71h.01M377.36 52.88h.01M408.61 54.82h.01M405.22 41.7h.01M378.56 39.78h.01M404.54 34.25h.01M405.34 32.29h.01M384.47 44.31h.01M396.6 52.1h.01M382.39 35.8h.01M398.77 38.41h.01M382.8 63.37h.01M388.85 21.45h.01M377.47 38.9h.01M393.33 26.41h.01M407.04 44.52h.01M403.37 54.3h.01M384.85 39.44h.01M401.91 24.71h.01M383.63 34.67h.01M405.72 44.67h.01M406.43 50.22h.01M377.63 67.09h.01M376.75 63.55h.01M382.34 45.46h.01M401.73 30.31h.01M381.17 30.03h.01M381.79 63.08h.01M390.33 21.83h.01M410.24 44.84h.01M388.66 22.91h.01M403.65 45.46h.01M395.34 18.83h.01M380.27 39.47h.01M379.88 37h.01M382.89 27.41h.01M399.52 30.61h.01M379.52 44.43h.01M380.9 61.99h.01M399.59 32.71h.01M403.25 33.39h.01M395.45 38.8h.01M388.97 25.17h.01M381.17 54.49h.01M377.14 42.76h.01M399.59 19.26h.01M377.65 43.34h.01M407.39 46.86h.01M380.25 36.81h.01M402.84 35.6h.01M377.49 27.82h.01M381.56 64.65h.01M406 43.21h.01M381.93 37h.01M405.75 25.43h.01M386.39 30.49h.01M399.6 47.71h.01M390.49 25.62h.01M400.02 40.4h.01M399.51 22.1h.01M401.18 35.64h.01M400.36 27.96h.01M387.65 28.75h.01M401.03 40.64h.01M380.54 33.27h.01M383.81 36.66h.01M378.58 66.55h.01M380.68 29.27h.01M379.03 64.11h.01M392.34 23.3h.01M385.82 59.84h.01M379.1 42.44h.01M401.43 33.29h.01M383.91 65.51h.01M383.71 31.85h.01M382.6 37.06h.01M408.11 40.89h.01M379.83 31.74h.01M388.47 25.2h.01M403.76 28.21h.01M380.43 58h.01M406.35 43.99h.01M403.38 27.88h.01M385.44 32.81h.01M380.96 56.85h.01M403.28 30.6h.01M389.71 22.24h.01M399.33 25.43h.01M402.34 28.86h.01M389.39 31.45h.01M405.2 50.65h.01M402.46 53.97h.01M379.54 33.47h.01M404.82 53.08h.01M400.92 32.61h.01M383.93 28.2h.01M382 53.97h.01M396.16 35.68h.01M379.46 44.93h.01M379.52 33.33h.01M407.34 46.28h.01M381.19 29.5h.01M405.5 45.07h.01M403.05 53.7h.01M395.28 27.94h.01M390.09 25.13h.01M381.85 55.11h.01M378.4 66.26h.01M378.95 62.45h.01M376.51 64.97h.01M381.19 32.77h.01M399.38 36.36h.01M386.83 25.5h.01M392.42 31.17h.01M390.93 25.19h.01M404.77 49.32h.01M376.93 65.15h.01M389.93 21.94h.01M379.12 61.37h.01M405.12 30.65h.01M382.27 55.13h.01M402.8 48.66h.01M383.31 34.86h.01M402.21 27.39h.01M402.55 49.1h.01M379.42 51.21h.01M404.96 31.38h.01M380.55 32.05h.01M379.11 66.39h.01M376.44 41.7h.01M381.16 31.5h.01M405.76 39.63h.01M398.35 26.08h.01M403.19 29.91h.01M404.96 36.14h.01M400.89 35.13h.01M402.3 28.61h.01M379.66 35.46h.01M382.51 54.36h.01M377.4 47.72h.01M403.09 48.41h.01M381.92 31.47h.01M406.24 48.7h.01M381.81 46.37h.01M389.99 24.05h.01M402.84 36.46h.01M381.36 56.84h.01M390.4 21.98h.01M404.66 30.08h.01M383.67 28.59h.01M394.42 26.05h.01M376.71 54.8h.01M397.27 22.72h.01M402.89 44.18h.01M400.85 40.52h.01M404.84 28.43h.01M386.02 23.22h.01M388.99 24.29h.01M379.34 66h.01M381.8 55.9h.01M378.19 48.43h.01M401.84 25.26h.01M377.74 32.1h.01M399.28 30.65h.01M380.58 41.82h.01M400.5 29.5h.01M390.09 26.23h.01M376.12 64.14h.01M380.17 29.78h.01M409.83 52.12h.01M405.31 52.45h.01M409.16 48.6h.01M397.64 35.81h.01M377.78 53.78h.01M380.7 68.25h.01M406.31 52.23h.01M381.01 35.29h.01M400.19 28.47h.01M376.82 50.89h.01M376.94 48.96h.01M390.35 24.77h.01M383.37 65.53h.01M404.02 41.21h.01M406.78 49.28h.01M403.27 36.9h.01M388.67 34.63h.01M379.53 33.53h.01M388.48 29.57h.01M408.01 51.33h.01M381.66 37.84h.01M383.47 34.69h.01M376.34 47.52h.01M376.84 41.87h.01M400.2 53.06h.01M405.86 39.09h.01M378.57 37.11h.01M377.56 64.61h.01M378.75 57.62h.01M401.7 37.26h.01M390.3 25.05h.01M377.8 65h.01M378.28 45.47h.01M401.76 26.25h.01M377.5 40.02h.01M396.09 25.24h.01M378.6 63.43h.01M384.73 63.11h.01M380.04 31.25h.01M398.64 29.69h.01M401.24 49.25h.01M397.29 29.88h.01M400.41 55.8h.01M405.15 53.28h.01M378.68 30.72h.01M383.14 45.68h.01M404.33 29.09h.01M383.71 64.27h.01M395.29 22.97h.01M384.18 21.85h.01M378.11 55.92h.01M377.92 32.51h.01M384.87 34.2h.01M378.03 65.88h.01M380.16 42.85h.01M392.15 23.65h.01M406.79 43.34h.01M392.54 23.84h.01M407.48 44.64h.01M386.54 26.92h.01M413.27 51.77h.01M398.19 28.44h.01M404.48 48.12h.01M400.22 33.87h.01M386.92 23.76h.01M400.38 25.37h.01M404.71 44.53h.01M386.09 27.82h.01M383.22 48.02h.01M403.25 32.46h.01M391.62 27.75h.01M405.93 35.36h.01M401.54 40.41h.01M403.32 50.62h.01M406.37 31.64h.01M376.44 38.17h.01" stroke="#777" stroke-width="0.6" stroke-linecap="round" fill="none"/>
<path d="M379.84 38.68h.01M378.21 67.68h.01M380.14 68.53h.01M376.84 41.6h.01M378.4 41.49h.01M377.26 45.03h.01M378.7 60.34h.01M379.89 34.4h.01M381.38 48.7h.01M377.4 51.7h.01M378.36 38.1h.01M381.49 46.21h.01M378.04 57.39h.01M381.68 56.85h.01M377.56 56.39h.01M380.77 55.81h.01M380.03 47.19h.01M378.89 35.15h.01M377.85 40.62h.01M379.01 66.98h.01M377.51 51.11h.01M380.86 44.21h.01M377.74 64.16h.01M379.59 57.29h.01M380.33 44.58h.01M379.36 45.41h.01M377.84 53.35h.01M379.7 39.23h.01M377.76 58.12h.01M379.27 58.67h.01M378.49 43.95h.01M380.25 58.03h.01M377.78 58.7h.01M381.52 49.2h.01M377.44 54.58h.01M379.14 57.68h.01M376.75 54.47h.01M380.43 59.02h.01M380.01 64.02h.01M377.67 64.27h.01M379.33 42.03h.01M378.52 54.73h.01M379.53 65.54h.01M379.31 46.88h.01M382.51 48.69h.01M377.68 61.3h.01M378.33 44.1h.01M377.29 63.91h.01M377.29 53.04h.01M378.27 50.09h.01M377.69 53.53h.01M379.97 62.58h.01M378.42 40.33h.01M376.62 52.1h.01M379.05 53.26h.01M376.76 45.56h.01M377.81 58.79h.01M378.34 58.23h.01M379.83 32.73h.01M378.62 64.68h.01M378.18 53.33h.01M378.8 39.75h.01M382.5 50.71h.01M380.02 47.55h.01M381.25 63.59h.01M380.9 61.59h.01M380.13 65.95h.01M379.65 53.42h.01M380.3 43.12h.01M379.24 45.01h.01M378.57 42.51h.01M377.65 53.95h.01M379.2 60.4h.01M378.85 58.4h.01M380.1 45.05h.01M376.29 45.21h.01M378.59 46.75h.01M382.55 45.25h.01M379.76 44.43h.01M380.11 39.46h.01M380.53 53.9h.01M378.36 40.13h.01M381.68 46.3h.01M381.31 28h.01M377.07 70.21h.01M381.86 52.28h.01M380.6 58.17h.01M378.42 53.4h.01M377.16 38.69h.01M379.2 59.4h.01M379.26 39.84h.01M380.36 52.99h.01M380.21 49.22h.01M378.57 62.62h.01M381.2 40.09h.01M377.22 61.79h.01M379.58 52.63h.01M377.43 62.22h.01M379.3 54.29h.01M379.62 46.89h.01M379.64 53.43h.01M380.15 55.91h.01M376.94 45.05h.01M378.57 63.73h.01M377.96 63.44h.01M380.73 60.86h.01M382.62 52.04h.01M379.51 64.3h.01M379.65 62.05h.01M378.79 66.25h.01M379.56 33.03h.01M380.74 50.22h.01M377.58 49.15h.01M378.55 63.57h.01M379.53 51.43h.01M378.98 43.17h.01M377.97 47.48h.01M378.64 40.51h.01M378.36 62.13h.01M379.73 52.13h.01M379.56 49.73h.01M377.1 60.93h.01M382.61 57.23h.01M380.1 76.66h.01M377.06 57.38h.01M378.45 49.38h.01M376.34 51.35h.01M379.64 36.21h.01M378.65 47.26h.01M377.39 58.44h.01M381.64 56.3h.01M380.65 59.72h.01M378.9 57.93h.01M381.13 47.92h.01M378.76 38.42h.01M380.44 55.78h.01M379.42 65.22h.01M376.16 65.87h.01M379.13 59.87h.01M381.22 44.07h.01M377.6 56.16h.01M378.91 46.36h.01M378.8 44.94h.01M379.22 48.32h.01M381.73 41.79h.01M379.93 52.9h.01M381.54 42.53h.01M378.25 69.35h.01M377.94 48.37h.01M378.37 42.43h.01M380.96 67.19h.01M378.76 44.68h.01M376.83 58.71h.01M378.15 57.58h.01M380.01 56.28h.01M379.21 51.94h.01M378.45 47.76h.01M379.23 57.2h.01M380.5 49.96h.01M380.96 42.88h.01M382.07 61.68h.01M378.35 79.42h.01M381.32 67.84h.01M377.08 51.03h.01M379.76 62.56h.01M379.12 39.28h.01M380.96 50.47h.01M379.71 48.97h.01M378.82 38.51h.01M380.07 45.92h.01M376.15 56.22h.01M378.94 61.63h.01M380.32 40.12h.01M378.72 52.12h.01M379.14 41.68h.01M379.12 61.85h.01M380.99 66.57h.01M380.22 27.15h.01M378.56 46.73h.01M380.46 52.06h.01M379.58 56.93h.01M378.65 65.72h.01M381.93 60.25h.01M378.11 54.62h.01M380.57 59.24h.01M377.9 61.57h.01M380.17 57.88h.01M378.33 51.86h.01M378.29 49.18h.01M378.55 48.95h.01M379.14 53.08h.01M378.02 50.81h.01M378.85 56.99h.01M379.71 48.57h.01M377.67 35.89h.01M376.99 56.14h.01M377.52 68.01h.01M378.75 48.3h.01M378.75 46.72h.01M377.99 52.76h.01M376.68 53.43h.01M378.85 43.18h.01M380.65 55.68h.01M380.74 45.51h.01M377.01 40.38h.01M376.48 33.41h.01M381.52 47.39h.01M379.31 46.82h.01M378.77 67.69h.01M376.21 42.36h.01M379.22 43.13h.01M380.11 64.89h.01M380.43 59.5h.01M378.74 62h.01M377.71 40.33h.01M378.58 49.62h.01M380.96 42.35h.01M380.84 44.41h.01M376.97 35.34h.01M378.94 37.81h.01M379.34 52.55h.01M378.36 33.04h.01M378.17 56.5h.01M376.14 58.91h.01M379.03 46.71h.01M379.33 58.51h.01M378.97 44.4h.01M380.26 45.37h.01M379.58 61.71h.01M381.1 67.83h.01M380.64 53.5h.01M378.68 53.93h.01M379.85 81.59h.01M380.06 43.91h.01M381.44 36.36h.01M380.61 39.44h.01M377.25 47.1h.01M378.54 38.74h.01M379.99 50.94h.01M381.16 42.01h.01M378.64 61.71h.01M379.15 71.37h.01M377.02 33.23h.01M378.27 66.04h.01M381.54 38.62h.01M378.02 33.87h.01M377.65 42.54h.01M379.69 63.3h.01M382.83 48.51h.01M380.31 54.22h.01M379.2 71.17h.01M380.13 67.5h.01M379.48 60.6h.01M379.82 51.11h.01M377.88 48.06h.01M379.02 48.28h.01M378.45 45.08h.01M380.38 49.63h.01M378.81 49.89h.01M381.11 46.74h.01M381.27 43.53h.01M381.45 58.1h.01M378.22 56.56h.01M380.83 42.63h.01M378.64 55.14h.01M378.67 49.18h.01M379.03 55.14h.01M380.25 66.65h.01M378.49 81.09h.01M378.48 69.62h.01M378.8 37.69h.01M378.31 48.64h.01M380.72 32.08h.01M377.99 50.75h.01M380.05 55.96h.01M380.38 50.47h.01M378.63 63.99h.01M381.76 55.81h.01M379.25 43.57h.01M382.37 56h.01M379.99 36.19h.01M379.97 76.08h.01M378.74 50.03h.01M381.46 50.2h.01M380.35 71.25h.01M377.13 43.85h.01M380.09 53.21h.01M379.07 50.39h.01M379.21 55.56h.01M378.24 49.29h.01M379.38 41.29h.01M379.71 30.34h.01M380.03 50.85h.01M377.13 65.38h.01M377.13 72.49h.01M377.84 64.03h.01M378.9 68.01h.01M378.65 62.24h.01M378.49 33.5h.01M379.63 56.75h.01M379.65 68.59h.01M377.83 37.89h.01M379.41 45.17h.01M378.84 52.02h.01M377.7 62.85h.01M378.81 69.76h.01M379.41 62.5h.01M378.54 45.52h.01M378.16 43.34h.01M379.72 53.42h.01M377.29 36.8h.01M377.64 33.97h.01M377.6 37.02h.01M380.13 40.56h.01M378.07 50.83h.01M379.06 56.22h.01M380.22 58.41h.01M378.46 64.41h.01M379.6 45.02h.01M381.39 40.33h.01M379.76 64.48h.01M379.19 55.46h.01M379.2 58.64h.01M379.36 52.11h.01M380.13 33.26h.01M379.41 49.05h.01M382.12 54.91h.01M377.96 58.52h.01M378.4 40.29h.01M378.56 57.01h.01M380.9 62.43h.01M379.37 50.44h.01M379.33 64.03h.01M378.81 63.53h.01M377.75 51.91h.01M380.24 59h.01M379.33 46.94h.01" stroke="#333" stroke-width="0.6" stroke-linecap="round" fill="none" opacity="1"/>
<path d="M384.49 19.01h.01M406.13 18.1h.01M399.6 19.96h.01M382.2 20.28h.01M381.71 19.07h.01M398.5 18.52h.01M395.8 21.14h.01M392.16 21.12h.01M403.33 19.53h.01M394.93 17.37h.01M385.63 19.76h.01M399.27 18.35h.01M379.7 22.3h.01M382.61 20.31h.01M396.35 17.66h.01M395.02 22.72h.01M389.61 21.81h.01M393.18 17.71h.01M386.6 18.5h.01M403.82 22.86h.01M387.71 19.01h.01M388.26 18.88h.01M408.37 21.64h.01M398.84 20.22h.01M380.71 22.29h.01M398.48 19.15h.01M392.03 21.28h.01M389.98 21.02h.01M403.42 19.21h.01M388.91 20.05h.01M397.74 19.02h.01M392.75 18.32h.01M391.37 21.35h.01" stroke="#999" stroke-width="0.6" stroke-linecap="round" fill="none" opacity="1"/>
<path d="M405.21 66.4h.01M403.01 61.8h.01M408.28 72.73h.01M404.48 67.12h.01M404.83 70.83h.01M408.91 71.96h.01M407.29 55.37h.01M406.1 56.13h.01M405.69 67.5h.01M411.7 62.29h.01M405.37 69.82h.01M400.95 85.68h.01M402.75 77.03h.01M411.36 76.57h.01M407.65 74.51h.01M406.84 76.53h.01M405.78 60.77h.01M409.31 64h.01M410.3 60.39h.01M408.93 59.3h.01M407.66 87.07h.01M404.34 57.1h.01M402.54 66h.01M413.54 64.01h.01M411.18 66.38h.01M405.85 85.82h.01M411.69 51.7h.01M404.68 71.67h.01M410.23 66.03h.01M409.08 72.78h.01M406.82 76.85h.01M405.12 74.7h.01M411.12 69.81h.01M406.83 67.85h.01M400.45 70.27h.01M403.17 50.15h.01M410.6 59.91h.01M409.22 68.42h.01M402.03 60.03h.01M407.09 72.17h.01M408.25 56.82h.01M406.21 68.94h.01M403.69 64.1h.01M406.15 49.19h.01M413.87 75.78h.01M406.43 76.41h.01M404.46 81.57h.01M406.74 69.25h.01M406.04 68.83h.01M409.13 68.29h.01M405.2 74.72h.01M409.9 68.02h.01M411.58 61.48h.01M412.34 66.6h.01M413.15 64.09h.01M407.15 69.88h.01M411.72 80.77h.01M406.46 61.56h.01M410.59 79h.01M410.39 65.1h.01M412.33 67.79h.01M408.58 73.51h.01M406.08 47.95h.01M408.75 74.35h.01M409.49 72.82h.01M408.56 77.25h.01M408.4 81.23h.01M408.18 75.07h.01M406.14 70.68h.01M409.45 69.24h.01M413.24 68.41h.01M411.81 71.13h.01M411.71 60.03h.01M406.77 76.56h.01M405.24 71.49h.01M409.93 69.74h.01M409.49 72.81h.01M407.21 71.66h.01M406.25 64.01h.01M402.63 67.09h.01M402.25 68.26h.01M408.72 58.37h.01M408.24 70.58h.01M406.82 59.93h.01M407.63 71.64h.01M411.14 85.17h.01M401.32 71.05h.01M409.48 62.36h.01M409.1 86.57h.01M408.39 80.11h.01M411.61 64.08h.01M400.17 78.3h.01M413.22 52.39h.01M407.33 61.82h.01M408.7 68.56h.01M411.88 62.77h.01M414.54 52.85h.01M407.67 73.59h.01M411.03 64.9h.01M401.52 69.89h.01M410.49 49.89h.01M406.35 72.98h.01M399.87 66.31h.01M402.62 56.09h.01M409.38 78.1h.01M411.95 62.18h.01M409.73 52.27h.01M402.99 72.85h.01M406.65 58.95h.01M401.67 65.93h.01M415.57 50.09h.01M404.46 78h.01M401.51 62.48h.01M408.24 78.08h.01M407.75 84.22h.01M407.9 67.01h.01M409.5 71.13h.01M402.92 59.57h.01M407.21 71.04h.01M403.85 61.64h.01M405.48 71.03h.01M406.54 73.37h.01M409.32 59.85h.01M407 56.94h.01M408.37 75.23h.01M404.65 52.25h.01M409.76 65.42h.01M407.91 72.11h.01" stroke="#999" stroke-width="0.6" stroke-linecap="round" fill="none" opacity="1"/>
<path d="M393.32 88.02h.01M386.02 81.2h.01M385.75 85.33h.01M386.42 86.86h.01M387.83 88.83h.01M384.47 85.99h.01M381.67 83.82h.01M386.68 87.67h.01M390.11 85.62h.01M377.21 81.47h.01M388.14 85.48h.01M405.43 86.81h.01M393.73 88.12h.01M382.17 83.31h.01M386.79 89.24h.01M398.67 84.72h.01M379.11 88.03h.01M399.59 83.6h.01M404.09 84.31h.01M396.58 85.55h.01M387.13 84.66h.01M396.09 87.35h.01M397.09 85.39h.01M405.05 85.58h.01M379.93 89.27h.01M391.18 86.13h.01M397.49 86.77h.01M390.98 90.35h.01M381.34 86.16h.01M388.51 86.58h.01M410.52 85.1h.01M397.95 87.37h.01M392.62 84.9h.01M395.6 86.6h.01M402.76 87.82h.01M383.74 79.61h.01M403.32 87.07h.01M391.52 84.67h.01M412.11 88.93h.01M390.86 85.19h.01M395.08 88.98h.01M394.59 88.07h.01M392.32 86.78h.01M378.8 86.27h.01M390.46 85.84h.01M387.87 86.67h.01M384.88 85.57h.01M382.1 83.36h.01M385.24 85.09h.01M380.49 80.65h.01M404.56 88.24h.01M386.64 87.23h.01M380.14 82.45h.01M392.97 87.26h.01M383.91 85.99h.01M399.39 86.37h.01M391.61 87.27h.01M378.7 86.53h.01M384.42 81.86h.01M397.93 85.59h.01M398.85 90.4h.01M399.6 89.09h.01M393.53 86.79h.01M396.18 87.44h.01M378.65 87.63h.01M398.82 85.11h.01M381.85 84.93h.01M384.77 87.16h.01M396.91 86.05h.01M387.27 82.12h.01M386.2 83.82h.01M385.06 86.76h.01M382.2 84.83h.01M379.77 85.44h.01M387.45 88.2h.01M395.75 84.85h.01M383.87 86.43h.01M394.66 85.65h.01M388.6 86.04h.01M380.31 86.6h.01M395.14 86.11h.01M379.8 86h.01M389.01 86.69h.01M386.26 87.82h.01M399.68 87.81h.01M392.08 88.66h.01M389.62 85.64h.01M377.19 86.04h.01M400.84 83.92h.01M396.95 83.24h.01M392.65 89.98h.01M390.38 83.46h.01M392.54 85.69h.01M397.09 84.87h.01M395.24 88.23h.01M392.44 86.06h.01M396.1 85.58h.01M385.91 86.49h.01M399.74 84.92h.01M394.4 84.62h.01M383.4 86.38h.01M378.07 84.16h.01M379.32 84.7h.01M395.39 86.16h.01M378.01 80.87h.01M393.89 84.65h.01M399.32 85.15h.01M378.28 84.63h.01M376.31 82.95h.01M396.31 84.86h.01M396.11 84.8h.01M387.87 84.82h.01M385.07 84.58h.01M403.3 85.89h.01M401.16 88.42h.01M389 85.67h.01M385.66 86.27h.01M394.13 86h.01M382.58 83.93h.01M404.83 89.64h.01M378.84 84.63h.01M389.56 87.27h.01M388.9 86.52h.01M393.18 88.46h.01M378.25 88.36h.01M393.85 87.16h.01M376.42 85.51h.01" stroke="#777" stroke-width="0.6" stroke-linecap="round" fill="none" opacity="1"/>
<path d="M409.66 58.76h.01M414.36 59.42h.01M404.52 67.2h.01M411.28 62.75h.01M410.9 40.47h.01M424 59h.01M414.74 43.76h.01M409.85 65.2h.01M413.17 73.84h.01M416.92 35.4h.01M403.28 65.83h.01M413.94 46.53h.01M409.49 42.49h.01M419.88 47.83h.01M404.07 62.37h.01M410.51 54.89h.01M409.03 49.53h.01M401.57 57.35h.01M407.52 44.87h.01M412.51 67.39h.01M400.2 48.23h.01M413.65 63.81h.01M406.4 54.39h.01M412.92 62.68h.01M407.83 47.55h.01M408.38 65.47h.01M416.34 44.08h.01M410.25 53.05h.01M406.44 48.55h.01M415.23 60.55h.01M407.53 41.32h.01M410.34 30.29h.01M412.47 51.71h.01M404.27 46.95h.01M407.62 46.46h.01M406.56 68.47h.01M406.11 60.37h.01M411.95 69.53h.01M410.63 50.14h.01M411.25 24.77h.01M422.9 47.26h.01M409.34 35h.01M410.23 71.73h.01M407.15 56.03h.01M416.06 62.8h.01" stroke="#bbb" stroke-width="0.6" stroke-linecap="round" fill="none" opacity="1"/>
<path d="M378.08 67.04h.01M379.86 80.33h.01M378.25 74.6h.01M382.81 68h.01M377.83 73.58h.01M377.21 84.19h.01M379.53 68.2h.01M376.31 71.49h.01M378.61 79.66h.01M377.54 75.49h.01M380.53 76.2h.01M380.57 73.7h.01M380.03 84.35h.01M378.25 75.14h.01M378.61 79.72h.01M376.31 77.3h.01M377.68 85.21h.01M378.27 72.81h.01M379.26 75.71h.01M379.05 78.43h.01M381.6 74.77h.01M382.63 61.7h.01M382.96 84h.01M382.39 78.21h.01M379.58 71.3h.01M381.89 70.48h.01M377.21 77.07h.01M379.47 79.01h.01M376.41 75.12h.01M380.03 83.82h.01M380.64 79.43h.01M378.39 74h.01M377.83 76.54h.01M380.12 74.21h.01M383.47 71.39h.01M380.75 75.93h.01M378.65 74.92h.01M382.33 75.39h.01M380.17 77.75h.01M380.6 80.42h.01M382.58 72.93h.01M377.16 86.7h.01M381.75 77.5h.01M378.33 78.52h.01M381.82 72.74h.01M382.14 76.77h.01M378.17 74.84h.01M376.99 78.41h.01M380.54 77.31h.01M379.38 79.42h.01M382.48 80.36h.01M382.4 76.73h.01M379.73 73.4h.01M380.26 72.24h.01M379.99 73.5h.01M378.18 83.99h.01M379.28 81.58h.01M378.43 66.52h.01M382.19 76.07h.01M377.54 82.45h.01M376.47 72.87h.01M381.47 73.15h.01M381.43 75.36h.01M378.5 77.48h.01M377.87 83.16h.01M381.36 77.47h.01M380.3 80.15h.01M382.65 68.12h.01M381.2 82.26h.01M378.27 77.17h.01M378.2 84.09h.01M376.45 80.52h.01M381.77 80.33h.01M377.91 74.49h.01M381.36 71.75h.01M377.05 82.48h.01M378.7 69.08h.01M377.27 73.44h.01M377.11 84.08h.01M376.76 79.16h.01M377.68 80.43h.01M380.08 85.17h.01M377.85 71.81h.01M381.09 77.38h.01M381.89 73.1h.01M377.83 72.43h.01M379.32 73.96h.01M380.92 72.4h.01M379.58 78.5h.01M377.7 74.59h.01M377.2 76.09h.01M377.96 80.22h.01M378.98 80.23h.01M382.55 75.56h.01M378.33 79.22h.01M383.57 75.07h.01M382.67 83.8h.01M376.81 79.35h.01M381.88 77.41h.01M379.32 89.35h.01M379.75 89.26h.01M377 86.41h.01M377.85 63.39h.01M377.15 74.42h.01M378.87 81.38h.01M380.48 80.05h.01M377.33 87.19h.01M381.6 77.31h.01M377.71 76.83h.01M378.48 73.17h.01M378.94 73.35h.01M380.38 73.41h.01M380.04 78.91h.01M379.33 80.06h.01M377.45 81.25h.01M379.02 74.65h.01M382.79 83.34h.01M378.37 80.29h.01M380.47 86.05h.01M381.2 76.15h.01M378.42 70.51h.01M379.55 82h.01" stroke="#555" stroke-width="0.6" stroke-linecap="round" fill="none" opacity="1"/>
<path d="M382.9 69L382.9 40.4C382.9 28.2,403.5 28.2,403.5 40.4L403.5 69Z" fill="#fff" stroke="#111" stroke-width="0.55"/>
<path d="M385.2 69L385.2 41.2C385.2 30,402.4 30,402.4 41.2L402.4 69Z" fill="#f4f4f4" stroke="#1a1a1a" stroke-width="0.45"/>
<path d="M387.6 69L387.6 41.6C387.6 31.4,401.6 31.4,401.6 41.6L401.6 69Z" fill="#e6e6e6" stroke="#1a1a1a" stroke-width="0.45"/>
<path d="M390.8 69L390.8 40.4C390.8 32.2,401.2 32.2,401.2 40.4L401.2 69Z" fill="#9c9c9c" stroke="#111" stroke-width="0.5"/>
<path d="M392.2 69L392.2 40.6C392.2 33.4,400.2 33.4,400.2 40.6L400.2 69Z" fill="#747474" stroke="#111" stroke-width="0.45"/>
<path d="M393.4 69L393.4 40.6C393.4 34.4,399.2 34.4,399.2 40.6L399.2 69Z" fill="#5c5c5c" stroke="#111" stroke-width="0.4"/>
<ellipse cx="395.6" cy="37.4" rx="1.5" ry="2.1" fill="#e0e0e0" stroke="#222" stroke-width="0.4"/>
<ellipse cx="394.6" cy="46.2" rx="1.5" ry="2.4" fill="#e0e0e0" stroke="#222" stroke-width="0.4"/>
<ellipse cx="394.4" cy="53.2" rx="1.4" ry="2.0" fill="#e0e0e0" stroke="#222" stroke-width="0.4"/>
<ellipse cx="395.2" cy="60" rx="1.2" ry="1.8" fill="#e0e0e0" stroke="#222" stroke-width="0.4"/>
<path d="M375.94 76.64 C375.94 69.44,387.52 65.6,395.9 65.6 C403.4 65.6,405.89 70.4,405.89 75.2 C405.89 80.96,400.9 84.8,393.4 84.8 C384.58 84.8,375.94 81.92,375.94 76.64Z" fill="#fff" stroke="#222" stroke-width="0.5" />
<path d="M377.09 76.55 C377.09 69.8,388.04 66.2,395.96 66.2 C403.05 66.2,405.42 70.7,405.42 75.2 C405.42 80.6,400.69 84.2,393.6 84.2 C385.26 84.2,377.09 81.5,377.09 76.55Z" fill="#0a0a0a" stroke="#222" stroke-width="0.5" />
<path d="M381.81 76.17 C381.81 71.3,390.16 68.7,396.2 68.7 C401.61 68.7,403.41 71.95,403.41 75.2 C403.41 79.1,399.81 81.7,394.4 81.7 C388.04 81.7,381.81 79.75,381.81 76.17Z" fill="#5a5a5a" stroke="#000" stroke-width="0.5" />
<path d="M384.69 75.98 C384.69 72.08,391.46 70,396.36 70 C400.75 70,402.21 72.6,402.21 75.2 C402.21 78.32,399.29 80.4,394.9 80.4 C389.74 80.4,384.69 78.84,384.69 75.98Z" fill="#6a6a6a" stroke="#111" stroke-width="0.5" />
<path d="M387.9 75.77 C387.9 72.92,392.94 71.4,396.59 71.4 C399.85 71.4,400.94 73.3,400.94 75.2 C400.94 77.48,398.76 79,395.5 79 C391.66 79,387.9 77.86,387.9 75.77Z" fill="#444" stroke="#111" stroke-width="0.5" />
<path d="M391.01 75.58 C391.01 73.7,394.32 72.7,396.71 72.7 C398.86 72.7,399.57 73.95,399.57 75.2 C399.57 76.7,398.14 77.7,396 77.7 C393.48 77.7,391.01 76.95,391.01 75.58Z" fill="#2a2a2a" stroke="#111" stroke-width="0.5" />
<ellipse cx="396.6" cy="75" rx="1.5" ry="1" fill="#e8e8e8"/>
</g>
<g clip-path="url(#c10)">
<path d="M56.37 141.65h.01M61.06 125.7h.01M48.92 148h.01M82.66 139.98h.01M50.18 117.59h.01M62.15 141.45h.01M76.52 134.59h.01M61.11 137.71h.01M56.7 128.17h.01M69.37 107.66h.01M58.87 140.17h.01M45.08 129.96h.01M73.66 137.52h.01M66.26 142.24h.01M61.88 137.31h.01M52.59 129.25h.01M76.52 114.79h.01M58.4 114.24h.01M55.11 121.26h.01M48.88 135.66h.01M51.41 139.74h.01M58.42 102.45h.01M58.8 137.55h.01M61.81 149.4h.01M61.35 107.69h.01M73.46 118.74h.01M59.09 136.82h.01M52 133.5h.01M73.37 108.21h.01M44.93 125.85h.01M58.42 114.02h.01M63.45 113.34h.01M65.09 131.3h.01M61.38 113.18h.01M57.96 139.04h.01M68.66 160.65h.01M65.89 131.19h.01M50.19 126.41h.01M57.67 138.5h.01M57.65 167.54h.01M71.86 100.86h.01M49.42 132.16h.01M68.79 137.97h.01M72.1 140.63h.01M83.02 143.62h.01M64.12 154.04h.01M55.94 124.4h.01M50.83 135.74h.01M63.91 145.58h.01M73.01 141.12h.01M71.06 128.62h.01M51.27 142.64h.01M69.1 151.34h.01M58.48 125.45h.01M56.69 137.33h.01M59.53 129.53h.01M62.26 128.01h.01M63.01 123.59h.01M46.04 127.72h.01M77.01 120.54h.01M68.22 151.45h.01M55.07 135.86h.01M73.84 134.82h.01M53.27 133.76h.01M62.56 126.22h.01M57.18 120.41h.01M65.15 135.01h.01M63.1 124.91h.01M64.43 127.85h.01M62.66 129.85h.01M54 116.39h.01M45.17 120.42h.01M58.13 115.36h.01M63.76 162.17h.01M71.15 115.38h.01M59.04 123.05h.01M66.87 111.18h.01M62.79 135.27h.01M65.08 138.28h.01M61.37 106.48h.01M57.07 118.47h.01M64.77 128.74h.01M61.36 148.02h.01M59.02 156.43h.01M67.53 110.67h.01M54.72 149.69h.01M55.49 149.37h.01M54.92 130.33h.01M69.26 109.31h.01M60.68 125.53h.01M61.52 156.82h.01M64.41 112.55h.01M68.66 125.54h.01M61.48 148.83h.01M57.2 145.93h.01M61.6 119.01h.01M57.2 112.43h.01M70.66 134.43h.01M68.72 115.94h.01M67.63 114.77h.01M62.53 131.86h.01M54.67 136.51h.01M60.31 119.49h.01M53.3 113.17h.01M72.35 134.23h.01M56.72 142.07h.01M52.24 115.2h.01M63.21 155.02h.01M62.7 134.3h.01M75.72 109.64h.01M87.56 116.08h.01M59.34 112.57h.01M49.05 128.57h.01M82.01 118.39h.01M54.44 135.95h.01M50.82 128.3h.01M67.38 100.41h.01M57.28 127.76h.01M55.39 130.31h.01M55.3 117.08h.01M71.38 161.06h.01M67.2 119.45h.01M72.8 139.27h.01M52.64 140.8h.01M54.79 140.33h.01M68.29 148.8h.01M50.51 130.17h.01M60.03 114.27h.01M63.74 142.08h.01M47.56 124h.01M50.05 113.52h.01M50.39 151.97h.01M54.02 126.28h.01M68.91 146.91h.01M72.66 101.84h.01M66.8 106.5h.01M54.29 125.97h.01M54.86 160.57h.01M58.49 149.08h.01M58.37 131.14h.01M64.6 138.45h.01M64.51 106.78h.01M64.57 136.66h.01M65.4 131.24h.01M63.69 113.04h.01M70.2 114.34h.01M72.62 146.75h.01M59.43 127.72h.01M67 127.57h.01M49.3 136.06h.01M49.01 125.36h.01M76.16 143.79h.01M55.95 131h.01M54.17 131.84h.01M46.95 141.94h.01M60.12 123.1h.01M54.46 170.33h.01M56.01 125.06h.01M54.76 124.8h.01M71.78 141.88h.01M63.77 137.34h.01M73.59 142.45h.01M61.95 136.07h.01M61.81 132.32h.01M65.12 132.7h.01M68.8 136.49h.01M57.43 140.81h.01M61.69 125.54h.01M56.62 125.83h.01M57.31 125.5h.01M58.98 148.34h.01M55.74 129.73h.01M53.32 112.15h.01M52.34 124.53h.01M61.38 127.09h.01M49.2 126.6h.01M73.62 119.15h.01M60.59 146.71h.01M52.75 123.68h.01M86.06 150.07h.01M55.26 134.33h.01M60.9 134.14h.01M64.19 127.63h.01M61.36 112.06h.01M57.09 153.92h.01M62.14 122.43h.01M61.25 147.3h.01M44.59 113.76h.01M54.04 125.6h.01M59.21 123.54h.01M60.97 133.29h.01M49.51 122.9h.01M48.85 136.2h.01M62.35 141.53h.01M52.12 124.24h.01M45.46 137.05h.01M69.7 138.48h.01M65.65 135.31h.01M63.34 145.68h.01M71.36 161.43h.01M57.61 144.14h.01M67.79 138.22h.01" stroke="#999" stroke-width="0.6" stroke-linecap="round" fill="none" opacity="1"/>
<path d="M92.41 120.35h.01M99.79 126.26h.01M84.13 126.72h.01M95.03 124.96h.01M94.11 148.76h.01M90.91 134.72h.01M95.35 160.36h.01M85.85 123.68h.01M84.59 126.35h.01M87.86 137.6h.01M69.31 162.67h.01M82.68 133.35h.01M72.4 109.4h.01M80.88 143.56h.01M97.63 111.9h.01M92 163.51h.01M87.46 154.25h.01M92.79 125.65h.01M98.92 130.54h.01M93.18 133.77h.01M88.05 142.37h.01M101.87 113.86h.01M79.98 141.58h.01M98.74 137.08h.01M88.31 148.17h.01M104.15 125.95h.01M75.66 135.63h.01M96.87 119.59h.01M100.12 154.56h.01M97.08 126.89h.01M78.39 150.16h.01M92.34 150.65h.01M100.05 155.5h.01M87.51 139.91h.01M94.06 151.59h.01M88.3 132.02h.01M81.23 155.9h.01M93.08 131.13h.01M78.56 132.06h.01M78.52 133.01h.01M85.08 147.92h.01M80.91 111.78h.01M84.56 118.65h.01M96.64 136.79h.01M74.97 126.4h.01M89.75 139.36h.01M73.46 137.99h.01M92.65 155.3h.01M99.84 138.07h.01M78.31 134.19h.01M95.83 125.71h.01M101.3 125.12h.01M79.88 152.84h.01M89.09 144.96h.01M87.26 140.45h.01M84.75 169.35h.01M95.88 138.04h.01M94.24 152.9h.01M85.26 142.71h.01M91.84 131.23h.01M83.05 136.88h.01M87.29 133.67h.01M72.55 141.16h.01M95.87 141.1h.01M105.38 153.34h.01M86.8 129.53h.01M94.49 134.2h.01M75.47 141.86h.01M87.33 136.5h.01M95.49 142.98h.01M108.16 128.53h.01M89.12 144.76h.01M86.04 132.03h.01M105.69 117.51h.01M93.12 112.84h.01M93.03 110.27h.01M79.52 157.56h.01M103.82 141.97h.01M65.61 155.66h.01M92.18 122.86h.01M86.81 119.54h.01M89.15 138.64h.01M91.09 152.19h.01M84.21 105.89h.01M79.51 120.53h.01M86.68 133.22h.01M89.61 161.11h.01M90.23 123.32h.01M87.25 126.42h.01M87.83 148.94h.01M79.84 150.85h.01M106.01 163.49h.01M104.57 141.36h.01M77.88 170.95h.01M89.53 143.55h.01M86.8 125.48h.01M95.54 118.42h.01M77.66 148.5h.01M86.64 127.03h.01M94.45 161.91h.01M87.45 137.9h.01M95.02 154.45h.01M99.27 150.45h.01M84.04 148.19h.01M90.06 113.82h.01M101.07 148.82h.01M102.28 138.99h.01M96.52 138.9h.01M91.46 154.01h.01M90.52 149.39h.01M89.68 158.86h.01M95.85 114.5h.01M104.88 146.75h.01M85.42 130.4h.01M107.82 141.37h.01M94.57 149.17h.01M84.64 166.92h.01M108.84 128.01h.01" stroke="#aaa" stroke-width="0.6" stroke-linecap="round" fill="none" opacity="1"/>
<path d="M93.04 147.03h.01M81.32 158.41h.01M84.42 161.84h.01M87.21 160.5h.01M82.92 160.04h.01M79.58 171.22h.01M84.49 166.34h.01M84.84 157h.01M82.57 149.33h.01M100.53 160.78h.01M85.04 154.89h.01M94.19 155.79h.01M80.35 154.37h.01M96.27 160.09h.01M82.84 153.69h.01M94.22 159.94h.01M81.38 164.01h.01M90.98 151.34h.01M93.15 165.32h.01M82.09 149.09h.01M92.71 155.71h.01M82.4 156.08h.01M81.87 163.61h.01M75.35 161.58h.01M93.21 165.08h.01M89.75 159.79h.01M82.48 157.21h.01M77.08 169.21h.01M83.1 151.25h.01M90.64 168.11h.01M86.24 155.89h.01M75.22 162.33h.01M82.12 153.58h.01M88.8 149.38h.01M89.87 141.76h.01M79.16 148.47h.01M82.12 163.34h.01M73.77 167.1h.01M78.68 154.79h.01M91.9 153.15h.01M95.54 156.65h.01M83.31 151.59h.01M93.13 157.58h.01M80.25 151.69h.01M79.07 157.37h.01M78.41 163.32h.01M83.79 153.89h.01M87.71 167.52h.01M67.69 160.4h.01M92.58 158.92h.01M90.57 147.76h.01M78.19 164.73h.01M83.36 158.42h.01M89.03 160.46h.01M87.63 154.71h.01M81.74 166.72h.01M80.23 148.43h.01M81.34 163.96h.01M98.18 159.01h.01M79.24 162.05h.01" stroke="#aaa" stroke-width="0.6" stroke-linecap="round" fill="none" opacity="1"/>
<path d="M54.4 116 C53.8 111.4,60 110.6,66 111.6 C74 112.6,82 109.6,90 110.2 C97.4 110.8,99.8 114,98.8 121 C97.8 130,96.4 138,93.4 142 C90 145.4,84 141.4,80 143.4 C76 146,70 147,66 146.8 L58.4 146.8 C56.4 140,59.4 134,57.4 128 C55.8 123,55 120,54.4 116Z" fill="#fff" stroke="#1a1a1a" stroke-width="0.5"/>
<path d="M59.6 133 C63.6 137,60.6 142,62.6 146.6 M69.6 134 C65.6 138,69.6 142,67.6 146.6 M72 133.6 C79 134,84 138,91 140 M71.6 138.4 C77.6 140.4,80 144,75.6 146.4 M57.6 131 C64 134.4,70 131,76 133 C82 135,88 135,95 133" stroke="#222" stroke-width="0.45" fill="none"/>
<path d="M72.8 136 C78 137,82 140.6,87 141.6 C83 143,80 142,77.4 143.6 C76.4 141,74.6 138.4,72.8 136Z" fill="#fff" stroke="#222" stroke-width="0.45"/>
<path d="M55.6 115.6 C55.6 112.2,61.6 112,65.6 112.6 C74.8 113.6,85 110.4,93 110.8 C98 111.2,98.6 116.6,98 122.4 C97.2 133.2,90 134.2,84 133.2 C76.8 132.2,63.6 134.8,58.6 133.2 C55.6 132.2,55.6 119.6,55.6 115.6Z" fill="#d8d8d8" stroke="#161616" stroke-width="0.45"/>
<path d="M56.65 116.35 C56.65 112.95,62.65 112.75,66.65 113.35 C74.92 114.35,84.2 111.15,92.2 111.55 C97.2 111.95,97.8 117.35,97.2 121.82 C96.4 131.3,89.2 132.3,83.2 131.3 C76.92 130.3,64.65 132.9,59.65 131.3 C56.65 130.3,56.65 120.35,56.65 116.35Z" fill="#bdbdbd" stroke="#161616" stroke-width="0.45"/>
<path d="M57.7 117.1 C57.7 113.7,63.7 113.5,67.7 114.1 C75.05 115.1,83.4 111.9,91.4 112.3 C96.4 112.7,97 118.1,96.4 121.25 C95.6 129.4,88.4 130.4,82.4 129.4 C77.05 128.4,65.7 131,60.7 129.4 C57.7 128.4,57.7 121.1,57.7 117.1Z" fill="#a6a6a6" stroke="#161616" stroke-width="0.45"/>
<path d="M58.75 117.85 C58.75 114.45,64.75 114.25,68.75 114.85 C75.17 115.85,82.6 112.65,90.6 113.05 C95.6 113.45,96.2 118.85,95.6 120.67 C94.8 127.5,87.6 128.5,81.6 127.5 C77.17 126.5,66.75 129.1,61.75 127.5 C58.75 126.5,58.75 121.85,58.75 117.85Z" fill="#909090" stroke="#161616" stroke-width="0.45"/>
<path d="M59.8 118.6 C59.8 115.2,65.8 115,69.8 115.6 C75.3 116.6,81.8 113.4,89.8 113.8 C94.8 114.2,95.4 119.6,94.8 120.1 C94 125.6,86.8 126.6,80.8 125.6 C77.3 124.6,67.8 127.2,62.8 125.6 C59.8 124.6,59.8 122.6,59.8 118.6Z" fill="#7c7c7c" stroke="#161616" stroke-width="0.45"/>
<path d="M60.85 119.35 C60.85 115.95,66.85 115.75,70.85 116.35 C75.42 117.35,81 114.15,89 114.55 C94 114.95,94.6 120.35,94 119.52 C93.2 123.7,86 124.7,80 123.7 C77.42 122.7,68.85 125.3,63.85 123.7 C60.85 122.7,60.85 123.35,60.85 119.35Z" fill="#6a6a6a" stroke="#161616" stroke-width="0.45"/>
<path d="M61.9 120.1 C61.9 116.7,67.9 116.5,71.9 117.1 C75.55 118.1,80.2 114.9,88.2 115.3 C93.2 115.7,93.8 121.1,93.2 118.95 C92.4 121.8,85.2 122.8,79.2 121.8 C77.55 120.8,69.9 123.4,64.9 121.8 C61.9 120.8,61.9 124.1,61.9 120.1Z" fill="#5a5a5a" stroke="#161616" stroke-width="0.45"/>
<path d="M62.95 120.85 C62.95 117.45,68.95 117.25,72.95 117.85 C75.68 118.85,79.4 115.65,87.4 116.05 C92.4 116.45,93 121.85,92.4 118.38 C91.6 119.9,84.4 120.9,78.4 119.9 C77.68 118.9,70.95 121.5,65.95 119.9 C62.95 118.9,62.95 124.85,62.95 120.85Z" fill="#4c4c4c" stroke="#161616" stroke-width="0.45"/>
<path d="M64 112.4 C72 113.6,80 110.6,90 111 C96 111.4,98.6 114,98 120" stroke="#0a0a0a" stroke-width="1.6" fill="none" filter="url(#b0)"/>
<ellipse cx="90.5" cy="115.6" rx="7.4" ry="4.2" fill="#0c0c0c" filter="url(#b1)"/>
<ellipse cx="93" cy="119" rx="4.6" ry="5" fill="#222" filter="url(#b1)"/>
<path d="M63.4 120 C66 117.6,70.6 118,73.6 119.6 C70.6 121.4,66 121.8,63.4 120Z" fill="#f2f2f2" stroke="#222" stroke-width="0.4"/>
<path d="M78.6 118.6 C82 116.4,88 116.6,90.6 118.6 C88 120.6,82 120.8,78.6 118.6Z" fill="#f2f2f2" stroke="#222" stroke-width="0.4"/>
<path d="M74.6 151.6 C80 150,86 152,92 151.4 C96 152,95.6 158,95 162 C94.6 166,90 165.6,86 164.6 C82 163.6,78 166,74.6 164Z" fill="#fff" stroke="#222" stroke-width="0.45"/>
<path d="M76 154 C82 153,86 156,91 154.6 C93 157,93 160,92 162.4 C88 163,84 161,80 162 C78 162.4,76 160,76 154Z" fill="#f4f4f4" stroke="#222" stroke-width="0.4"/>
<path d="M78 156 C82 155.6,85 157.6,89 157 C90 159,89.6 160.4,88 161 C85 160.4,82 159.6,79 160Z" fill="#e8e8e8" stroke="#333" stroke-width="0.4"/>
<ellipse cx="88.8" cy="158.8" rx="1.5" ry="1.7" fill="#fff" stroke="#333" stroke-width="0.4"/>
<path d="M61.4 146.8C69.75 146.8,75.8 151.84,75.8 158.8C75.8 165.76,69.75 170.8,61.4 170.8C53.05 170.8,47 165.76,47 158.8C47 151.84,53.05 146.8,61.4 146.8Z" fill="#eee" stroke="#1a1a1a" stroke-width="0.45"/>
<path d="M61.4 147.7C69.23 147.7,74.9 152.36,74.9 158.8C74.9 165.24,69.23 169.9,61.4 169.9C53.57 169.9,47.9 165.24,47.9 158.8C47.9 152.36,53.57 147.7,61.4 147.7Z" fill="#aaa" stroke="#1a1a1a" stroke-width="0.45"/>
<path d="M61.4 148.6C68.71 148.6,74 152.88,74 158.8C74 164.72,68.71 169,61.4 169C54.09 169,48.8 164.72,48.8 158.8C48.8 152.88,54.09 148.6,61.4 148.6Z" fill="#555" stroke="#1a1a1a" stroke-width="0.45"/>
<path d="M61.4 149.5C68.19 149.5,73.1 153.41,73.1 158.8C73.1 164.19,68.19 168.1,61.4 168.1C54.61 168.1,49.7 164.19,49.7 158.8C49.7 153.41,54.61 149.5,61.4 149.5Z" fill="#111" stroke="#1a1a1a" stroke-width="0.45"/>
<ellipse cx="61.6" cy="158.8" rx="11.6" ry="9.6" fill="#070707"/>
<ellipse cx="62" cy="159" rx="6.4" ry="4.8" fill="none" stroke="#555" stroke-width="0.8"/>
<ellipse cx="62.6" cy="159" rx="3.4" ry="2.2" fill="none" stroke="#444" stroke-width="0.6"/>
<ellipse cx="63.6" cy="159.2" rx="1.5" ry="0.8" fill="#ddd"/>
</g>
<g clip-path="url(#c11)">
<path d="M161.72 140.37h.01M164.27 135.89h.01M164.16 132.39h.01M147.46 126.32h.01M177 141.92h.01M169.53 132.14h.01M156.89 131.66h.01M154.33 139.38h.01M154.53 120.09h.01M139.28 144.24h.01M149.37 119.05h.01M162.96 146.76h.01M166.05 124.56h.01M164.87 119.42h.01M155.29 128.33h.01M158.41 136.15h.01M164.57 147.67h.01M168.02 125.08h.01M161.27 119.18h.01M151.11 124.47h.01M170.16 120.85h.01M140.01 117.48h.01M144.23 126.11h.01M154.75 115.89h.01M149.03 123.72h.01M162.9 134.4h.01M173.77 125.35h.01M165.68 128.81h.01M145.56 121.43h.01M183.88 126.37h.01M177.59 136.62h.01M177.75 126.07h.01M169.25 124.88h.01M145.44 115.88h.01M163.5 111.28h.01M162.66 118.98h.01M162.53 113.77h.01M168.3 125.65h.01M140.59 113.08h.01M159.16 111.03h.01M162.25 133.07h.01M150.78 142.54h.01M175.25 131.29h.01M163.74 132.94h.01M155.39 141.66h.01M152.22 101.89h.01M158.68 132.61h.01M168.03 116.55h.01M174.62 119.51h.01M165.78 135.61h.01M160.52 139.81h.01M152.72 149.33h.01M164.17 123.66h.01M188.73 127.96h.01M139.64 142.78h.01M176.43 122.03h.01M146.98 139.75h.01M159.15 118.04h.01M152.88 128.73h.01M169.88 144.29h.01M151.27 143.98h.01M140.93 135.44h.01M156.87 132.57h.01M153.42 120.64h.01M161.77 139.77h.01M132.77 128.56h.01M153.8 116.88h.01M142.87 133.41h.01M164.93 134.73h.01M135.41 112.19h.01M151.37 123.52h.01M178.96 124.02h.01M159.96 138.39h.01M177.88 131.9h.01M162.47 148.18h.01M153.82 109.35h.01M149.78 124.76h.01M173.71 131.32h.01M172.47 129.1h.01M158.99 122.02h.01M144.18 133.3h.01M162.7 133.99h.01M152.31 123.66h.01M162.89 134.35h.01M181.62 118.93h.01M169.98 137.24h.01M155.45 129.46h.01M157.86 143.95h.01M188.04 131.39h.01M155.54 137.92h.01M164.24 126.1h.01M167.25 137.1h.01M153.93 136.89h.01M132.5 114.63h.01M154.91 129.68h.01M141.6 143.41h.01M154.12 129.6h.01M158.02 135.89h.01M151.79 135.77h.01M148.88 112.59h.01M164.47 129.71h.01M168.73 107.81h.01M159.79 121.33h.01M156.33 123.93h.01M154.16 121.06h.01M170.35 110.1h.01M139.11 131.62h.01M181.86 120.07h.01M148.02 115.84h.01M146.67 141.06h.01M166.42 137.42h.01M162.54 130.46h.01M151.75 117.92h.01M165.72 153.88h.01M154.24 141.26h.01M150.35 128.43h.01M178.21 127.26h.01M165.88 122.17h.01M180.32 115.18h.01M165.01 125.53h.01M160.79 131.81h.01M173.76 137.16h.01M170.74 131.85h.01M146.12 142.03h.01M176.35 133.06h.01M167.72 125.6h.01M141.79 138.3h.01M150.08 148.01h.01M166.51 127.82h.01M151.37 129.15h.01M146.78 124.1h.01M177.05 124.93h.01M179.85 127.02h.01M163.34 118.37h.01M155 123.36h.01M142.37 148.24h.01M165.34 127.15h.01M145.78 128.37h.01M146.26 117.89h.01M156.3 150.59h.01M138.27 133.87h.01M142.07 126.61h.01M159.19 120.13h.01M179.11 133.63h.01M151.14 110.81h.01M160.49 121h.01M170.35 117.08h.01M172.37 123.21h.01M160.72 125.18h.01M165.71 140.04h.01M152.14 118.56h.01M180.49 138.02h.01M180.65 138.03h.01M160 145.11h.01M150.65 123.54h.01M153.78 135.2h.01M148.52 126.17h.01M148.6 125.57h.01M171.48 139.66h.01M155.86 154.73h.01M150.25 132.81h.01M152.86 104.8h.01M144.62 141.02h.01M139.15 158.71h.01M156.98 130.86h.01M173.01 128.33h.01M151.01 121.63h.01M147.45 133.8h.01M152.92 133.4h.01M140.91 123.5h.01M182.41 131.85h.01M157.19 140.47h.01M161.61 144.12h.01M144.85 136.08h.01M146.03 135.17h.01M187.03 144.08h.01M148.39 132.44h.01M163.72 120.46h.01M161.22 116.83h.01M169.66 137.62h.01M156.48 135.24h.01M186.16 126.35h.01M136.56 131.55h.01M153.08 119.82h.01M168.88 138.55h.01M165.31 145.19h.01M151 123.65h.01M155.86 128.64h.01M147.13 130.41h.01M170.67 121.37h.01M164.93 126.4h.01M156.49 129.25h.01M175.93 133.5h.01M166.33 129.6h.01M133.24 137.93h.01M158.1 129.03h.01M152.42 111.8h.01M175.73 147.31h.01M176.66 108.67h.01M164.74 115.62h.01M156.14 122.6h.01M151.05 119.92h.01M152.66 136.18h.01M177.11 137.78h.01M158.15 126.5h.01M155.42 127.81h.01M151.03 126.14h.01M168.2 125.65h.01M148.74 126.74h.01M159.28 127.19h.01M155.2 135.44h.01M157.73 117.4h.01M164.9 120.51h.01M167.3 136.62h.01M163.91 131.26h.01M142.48 125.94h.01M159.71 134.74h.01M145.09 126.39h.01M140.23 129.89h.01M159.17 129.31h.01M177.62 135.75h.01M155.97 121.93h.01M153.01 136.26h.01M168.95 122.72h.01M156.87 123.46h.01M166.28 130.02h.01M149.78 118.7h.01M173.49 113.28h.01M182.08 122.36h.01M168.26 133.92h.01M168.09 139.98h.01M152.72 127.84h.01M169.78 133.89h.01M149.33 120.07h.01M141.25 130.75h.01M151.96 111.66h.01M151.66 131.44h.01M160.37 125.69h.01M160.14 134.88h.01M144.12 119.44h.01M169.68 135.76h.01M141.7 120.41h.01M175.29 135.94h.01M156.5 138.76h.01M174.36 142.89h.01M141.81 114.4h.01M152.22 127.51h.01M154.05 130.59h.01M175.69 139.59h.01M169.91 128h.01M177.7 132.85h.01M161.09 127.83h.01M136.55 150.67h.01M157.94 137.48h.01M184.98 126.01h.01M144.49 138.74h.01M161.07 118.1h.01M169.61 128.15h.01M147.05 101.42h.01M146.48 132.06h.01M145.99 138.24h.01M184.25 131.39h.01M160.9 127.21h.01M168.41 128.37h.01M170.5 142.96h.01M168.32 117.92h.01M166.1 125.27h.01M161.93 138.21h.01M150.4 130.2h.01M175.6 119.27h.01M155.96 135.66h.01M155.48 138.79h.01M146.27 112.3h.01M162.69 126.6h.01M161.94 138.13h.01M170.67 124.39h.01M153.64 107.71h.01M146.68 130.61h.01M160.8 112.48h.01M167.53 127.61h.01M171.26 124.33h.01M169.67 116.44h.01M136.26 119.58h.01M166.52 132.33h.01M135.86 129.58h.01M166.16 145.61h.01M167.47 133.37h.01M139.48 131.94h.01M134.89 124.95h.01M153.83 117.87h.01M146.19 126.57h.01M165.11 121.28h.01M161.79 135.47h.01M157.94 148.03h.01M154.52 120.39h.01M135.69 139.24h.01M166.26 126.1h.01M161.9 126.68h.01M168.55 127.92h.01M160.91 127.22h.01M147.7 104.85h.01M164.67 115.03h.01M162.93 134.71h.01M180.56 120.26h.01M159.98 137.93h.01M150.27 121.9h.01M163.53 149.59h.01M171.01 138.02h.01M146.78 134.92h.01M171.74 114.85h.01M158.33 126.02h.01M165.86 109.87h.01M166.58 128.03h.01M155.04 105.97h.01M133.6 122.37h.01M165.93 132.47h.01M167.11 110.33h.01M160.61 142.07h.01M139.8 134.82h.01M149.56 133.75h.01M159.38 111.08h.01M145.73 141.29h.01M156.91 140.93h.01M162.2 137.33h.01M153.5 130.32h.01M153.78 137.48h.01" stroke="#aaa" stroke-width="0.6" stroke-linecap="round" fill="none" opacity="1"/>
<path d="M168.13 126.31h.01M183 113.11h.01M170.93 123.09h.01M184.41 126.55h.01M172.71 110.19h.01M177.93 116.68h.01M173.45 122.31h.01M162.34 126.06h.01M178.46 123.28h.01M176.24 122.04h.01M162.42 117.13h.01M177.76 118.14h.01M172.28 122.13h.01M172.71 121.48h.01M175.46 120.02h.01M164.47 118.49h.01M178.73 116.17h.01M175.36 121.75h.01M166 104.01h.01M171.98 115.61h.01M167.76 125.31h.01M166.79 121.99h.01M172.91 121.15h.01M185.88 108.84h.01M178.78 119.19h.01M170.17 116.23h.01M172.38 120.28h.01M165.76 129.3h.01M166.97 119.24h.01M163.33 120.87h.01M174.57 126.16h.01M178.88 117.18h.01M183.2 119.41h.01M182.83 129.72h.01M169.32 113.93h.01M175.85 128.15h.01M174.85 126.21h.01M176.21 125.04h.01M181.25 118.35h.01M162.31 119.34h.01M166.64 113.27h.01M170.94 124.05h.01M159.35 111.44h.01M177.61 114.99h.01M169.4 127.67h.01M179.85 122.03h.01M175.82 104.64h.01M175.94 122.17h.01M162.49 121.04h.01M175.25 119.36h.01M177.56 125h.01M172.45 118.6h.01M163.94 126.45h.01M168.14 121.81h.01M182.68 124.39h.01M163.32 119.52h.01M167.17 110.7h.01M166.56 123.31h.01M174.43 118.84h.01M173.3 113.42h.01" stroke="#aaa" stroke-width="0.6" stroke-linecap="round" fill="none" opacity="1"/>
<path d="M164.79 156.07h.01M175.58 155.2h.01M168.95 158.9h.01M180.23 149.88h.01M173.77 158.06h.01M169.6 158.4h.01M156.4 157.17h.01M168.45 150.03h.01M175.91 156.33h.01M167.72 161.29h.01M163.73 152.95h.01M175.78 161.93h.01M184.02 154.42h.01M160.06 148.62h.01M161.83 157.6h.01M168.44 153.2h.01M163.12 153.08h.01M167.56 163.72h.01M174.39 164.74h.01M175.73 161.3h.01M178.2 159.56h.01M180.7 163.4h.01M182.61 158.23h.01M164.74 171.21h.01M168.14 159.95h.01M167.47 153.08h.01M173.08 150.69h.01M168.98 164.98h.01M170.93 161.64h.01M174.49 159.18h.01M170.8 160.46h.01M163.39 160.3h.01M162.66 152.75h.01M166.02 149.46h.01M156.49 159.16h.01M173.54 160.73h.01M185.31 158h.01M175.22 152.8h.01M174.95 150.56h.01M183.67 151.57h.01M167.23 161.23h.01M154.89 164.58h.01M163.5 158.13h.01M176.82 157.88h.01M176.5 154.17h.01M174.15 144.72h.01M180.5 153.25h.01M164.09 157.1h.01M181.78 153.03h.01M169.9 154.97h.01M163.61 149.63h.01M174.12 161h.01M164.86 158.29h.01M173.14 159.15h.01M168.9 157.26h.01M171.95 150.99h.01M169.05 161.49h.01M166.17 164.42h.01M168.39 150.79h.01M168.01 149.36h.01M174.25 148.02h.01M170.15 155.68h.01M167.94 159.39h.01M172.02 153.85h.01M175.69 154.47h.01M176.23 164.58h.01M172.63 162.24h.01M160.8 160.19h.01M159.73 156.02h.01M174.84 141.86h.01" stroke="#aaa" stroke-width="0.6" stroke-linecap="round" fill="none" opacity="1"/>
<path d="M136.06 152.19h.01M133.99 158.17h.01M154.22 149.3h.01M138.07 144.03h.01M137.01 142.24h.01M157.28 151.88h.01M150.53 152.16h.01M159.73 171.17h.01M137.82 154.42h.01M166.07 169.84h.01M145.86 162.81h.01M142.37 156.88h.01M149.84 146.24h.01M132.66 174.12h.01M155.37 161.71h.01M146.75 145.86h.01M140.02 146.26h.01M171.19 160.71h.01M155.36 159.54h.01M141.03 166.9h.01M157.33 162.79h.01M153.5 163.57h.01M142.43 161.25h.01M147.06 156.12h.01M154.32 174.12h.01M140.45 167.05h.01M132.95 156.61h.01M159.16 157.47h.01M150.5 148.9h.01M131.32 170.56h.01M148.03 157.35h.01M128.29 150.2h.01M132.79 157.63h.01M144.54 153.41h.01M137.42 158.84h.01M161.02 147.43h.01M127.82 166.5h.01M127.72 154.92h.01M147.52 171.72h.01M144.98 166.09h.01M147.84 151.91h.01M148.45 142.5h.01M156.56 169.15h.01M143.39 164.18h.01M132.49 169.13h.01M137.73 151.99h.01M136.23 144.68h.01M154.63 173.1h.01M127.68 156.51h.01M151.77 153.74h.01M158.89 158.8h.01M132.29 155.74h.01" stroke="#999" stroke-width="0.6" stroke-linecap="round" fill="none" opacity="1"/>
<path d="M125.75 159.22 C125.75 151.12,138.84 146.8,147.62 146.8 C155.47 146.8,158.09 152.2,158.09 157.6 C158.09 164.08,152.85 168.4,145 168.4 C135.76 168.4,125.75 165.16,125.75 159.22Z" fill="#fff" stroke="#222" stroke-width="0.5" />
<path d="M129.25 159.07 C129.25 151.72,140.64 147.8,148.28 147.8 C155.11 147.8,157.39 152.7,157.39 157.6 C157.39 163.48,152.83 167.4,146 167.4 C137.96 167.4,129.25 164.46,129.25 159.07Z" fill="#eee" stroke="#222" stroke-width="0.5" />
<path d="M131.6 158.95 C131.6 152.2,141.8 148.6,148.64 148.6 C154.76 148.6,156.8 153.1,156.8 157.6 C156.8 163,152.72 166.6,146.6 166.6 C139.4 166.6,131.6 163.9,131.6 158.95Z" fill="#bbb" stroke="#222" stroke-width="0.5" />
<path d="M133.25 158.84 C133.25 152.62,142.6 149.3,148.87 149.3 C154.48 149.3,156.35 153.45,156.35 157.6 C156.35 162.58,152.61 165.9,147 165.9 C140.4 165.9,133.25 163.41,133.25 158.84Z" fill="#777" stroke="#222" stroke-width="0.5" />
<path d="M134.32 158.77 C134.32 152.92,143.08 149.8,148.95 149.8 C154.2 149.8,155.95 153.7,155.95 157.6 C155.95 162.28,152.45 165.4,147.2 165.4 C141.02 165.4,134.32 163.06,134.32 158.77Z" fill="#333" stroke="#222" stroke-width="0.5" />
<path d="M135.18 158.59 C135.18 153.12,143.42 150.2,148.95 150.2 C153.9 150.2,155.55 153.85,155.55 157.5 C155.55 161.88,152.25 164.8,147.3 164.8 C141.48 164.8,135.18 162.61,135.18 158.59Z" fill="#090909" stroke="#222" stroke-width="0.5" />
<ellipse cx="148.6" cy="157.4" rx="1.5" ry="0.6" fill="#ddd"/>
</g>
<g clip-path="url(#c12)">
<path d="M228.02 152.81h.01M221.58 141.96h.01M219.45 137.11h.01M219.06 137.64h.01M219.45 138.15h.01M225.43 134.72h.01M215.62 143.02h.01M220.79 127.05h.01M224.78 121.61h.01M226.6 143.96h.01M218.6 123.82h.01M221.41 120.46h.01M222.73 129.43h.01M216.6 145.12h.01M219.62 142.32h.01M219.86 130.49h.01M224.58 150.36h.01M226.92 134.67h.01M229.3 129.57h.01M215.3 105.04h.01M214.89 121.14h.01M213.23 140.27h.01M222.17 134.44h.01M223.17 133.25h.01M220.76 129.91h.01M222.21 116.91h.01M228.29 159.74h.01M222.17 171.55h.01M217.23 149.49h.01M214.03 144.71h.01M218.34 151.16h.01M222.57 150.3h.01M224.99 143.46h.01M220.66 160.6h.01M223.77 142.78h.01M229.06 130.88h.01M230.59 152.46h.01M222.4 111.72h.01M228 130.02h.01M222.49 136.99h.01M226.71 145.2h.01M213.05 124.46h.01M223.73 137.8h.01M225.92 144.13h.01M230.01 123.41h.01M228.44 141.17h.01M223.5 146.01h.01M220.36 146.52h.01M220.99 146.61h.01M218.28 153.89h.01M214.54 124.49h.01M221.78 138.92h.01M218.1 128.57h.01M223.28 151.89h.01M228.38 127.39h.01M221.69 130.01h.01M214.53 127.85h.01M227.58 113.4h.01M236.07 150.75h.01M230.53 137.99h.01M210.71 142.09h.01M229.84 125.79h.01M228.26 147.22h.01M225.88 147.06h.01M224.9 145.48h.01M227.89 141.85h.01M225.13 141.94h.01M222.71 121.05h.01M213.21 118.74h.01M215.94 111.27h.01M225.42 129.74h.01M225.83 127.59h.01M223.9 131.76h.01M223.43 168.58h.01M229.89 155.6h.01M223.44 163.73h.01M226.11 149.38h.01M216.3 125.19h.01M222.87 131.55h.01M219.48 102.86h.01M218.37 133.3h.01M223.55 117.77h.01M221.39 164.21h.01M222.82 103.42h.01M221.13 135.11h.01M228.27 138.19h.01M228.79 140.4h.01M227.79 156.84h.01M229.59 138.25h.01M216.05 138.27h.01M224.38 123.73h.01M226.11 132.47h.01M225.94 138.17h.01M217.47 151.98h.01M231.91 149.97h.01M223.43 107.29h.01M223.64 134.59h.01M218.16 104.18h.01M224.24 150.77h.01M225.54 171.85h.01M212.74 140.76h.01M221.91 158.07h.01M221.89 119.45h.01M221.76 142.11h.01M218.44 122.39h.01M223.36 149.21h.01M220.91 142.96h.01M219.58 129.56h.01M223 150.73h.01M229.84 133.07h.01M224.25 166.89h.01M226.15 129.28h.01M224.06 112.09h.01M211.78 122.75h.01M218.55 113.42h.01M227.09 127.76h.01M222.49 136.27h.01M221.06 116.12h.01M231.54 103.06h.01M221.9 146.33h.01M221.07 133.43h.01M223.58 138.95h.01M220.42 152.54h.01M224.54 159.45h.01M222.52 102.91h.01M213.98 126.81h.01M224.3 108.69h.01M219.31 155.28h.01M223.71 123.6h.01M221.53 136.95h.01M220.02 130.02h.01M218.97 138.69h.01M229.81 158.65h.01M215.99 172.63h.01M221.5 112.44h.01M214.8 137.43h.01M223.21 124.75h.01M218.16 131.61h.01M223.35 146.01h.01M219.18 139.33h.01M223.9 148.04h.01M214.82 160.47h.01M216.26 131.84h.01M219.81 127.43h.01M218.3 148.3h.01M225.92 140.81h.01M215.88 124.93h.01M221.8 141.56h.01M219.38 130.75h.01M234.86 136.1h.01M218.42 161.5h.01M226.2 115.82h.01M225.91 137.87h.01M218.22 147.96h.01M219.12 130.21h.01M222.19 138.54h.01M219.96 139.91h.01M222.1 138.28h.01M223.98 124.8h.01M215.44 133.92h.01M228.08 140.46h.01M223.18 123.11h.01M216.54 114.99h.01M217.63 129.06h.01M214.6 133.16h.01M214.46 145.66h.01M221.96 106.63h.01M219.43 138.86h.01M223.93 147.65h.01M220.38 132.74h.01M220.95 143.92h.01M218.73 132.49h.01M222.8 129.49h.01M216.84 157.07h.01M224.51 120.35h.01M231.61 122.73h.01M217.86 129.17h.01M224.69 159.32h.01M228.73 144.05h.01M222.42 145.85h.01M218.28 123.75h.01M224.66 138.36h.01M223.23 118.66h.01M223.29 111.83h.01M226.58 135.3h.01M218.97 127.53h.01M218.7 157.26h.01M222.18 139.25h.01M217.46 113.91h.01M223.24 127.93h.01M224.53 152.25h.01M221.53 143.8h.01M222.94 138.92h.01M219.58 138.99h.01M224.2 136.36h.01M219.9 111.56h.01M216.93 160.44h.01M227 139.91h.01M223.51 132.7h.01M225.39 150.66h.01M220.89 140.14h.01M226.71 109.55h.01M217.56 125.88h.01M216.48 128.03h.01M218.01 128.72h.01M224.41 116.11h.01M222.57 157.46h.01M223.02 115.33h.01M219.18 154.02h.01M220.83 124.97h.01M225.88 123.56h.01M216.72 145.06h.01M222.19 124.61h.01M224.34 152.99h.01M227.31 136.8h.01M224.31 143.16h.01M214.94 162.06h.01M218.91 126.09h.01M218.13 119.53h.01M227.38 135.23h.01M219.32 105.54h.01M222.9 134.33h.01M217.13 133.55h.01M213.29 145.63h.01M216.23 143.21h.01M222.57 100.78h.01M216.71 124.55h.01M225.91 144.81h.01M225.14 162.24h.01M220.72 126.91h.01M213.06 118.46h.01M224.81 121.53h.01M217.89 150.56h.01" stroke="#999" stroke-width="0.6" stroke-linecap="round" fill="none" opacity="1"/>
<path d="M214.87 172.67h.01M236.58 148.41h.01M231.83 162h.01M234.36 159.49h.01M228.42 172.82h.01M225.69 165.26h.01M232.77 161.2h.01M234.18 166.03h.01M233.91 149.1h.01M223.15 164.32h.01M235.86 172.99h.01M229.2 156.4h.01M222.81 147.25h.01M226.24 166.49h.01M228.71 150.83h.01M228.56 162.46h.01M224.81 173.17h.01M231.65 170.46h.01M229.7 154.66h.01M235.36 170.5h.01M225.75 151.94h.01M233.83 157.76h.01M222.43 161.44h.01M232.31 156.36h.01M229.33 169.65h.01M233.43 150.21h.01M234.42 161.42h.01M231.25 150.08h.01M225.75 158.12h.01M241.08 162.09h.01M236.21 149.5h.01M227.97 149.2h.01M235.1 144.73h.01M239.81 154.03h.01M232.21 164.78h.01M234.06 154.53h.01M234.16 159.95h.01M232.13 163.84h.01M237.1 152.26h.01M221.13 167.07h.01M242.73 166.24h.01M228.17 167.22h.01M222.18 162.77h.01M219.47 162.98h.01M226.24 169.19h.01M236.85 154.09h.01M227.55 147.92h.01M224.1 165.43h.01M217.47 159.81h.01M233.28 173.05h.01M214.76 165.03h.01M225.59 144.5h.01M223.29 166.61h.01M229.01 167.46h.01M227.4 167.12h.01M223.53 154.62h.01M228.19 148.71h.01M236.22 160.18h.01M223.5 155.47h.01M223.58 163.03h.01M227.02 168.69h.01M222.5 161.53h.01M220.47 158.53h.01M236.91 161.16h.01M234.23 161.61h.01M222.85 155.34h.01M222.66 164.7h.01M238.69 168.58h.01M223.51 162.96h.01M224.97 171.04h.01M221.37 167.94h.01M222.09 158.51h.01M230.09 163.14h.01M228.77 161.58h.01" stroke="#999" stroke-width="0.6" stroke-linecap="round" fill="none" opacity="1"/>
<path d="M244.39 133.86h.01M245.9 124.38h.01M247.12 137.13h.01M244.59 150.09h.01M244.94 113.23h.01M248.45 130.78h.01M248.84 140.1h.01M244.33 147.98h.01M246.92 145.75h.01M246.11 153.06h.01M247.81 131.26h.01M243.16 134.6h.01M246.17 123.74h.01M245.67 152.38h.01M245.13 148.07h.01M244.25 123.9h.01M247.83 133.13h.01M246.45 146.95h.01M249.15 120.84h.01M247.15 137.72h.01M246.31 155.79h.01M245.57 128.26h.01M247 111.74h.01M246.74 124.82h.01M246.65 126.54h.01M247 132.25h.01M244.66 141.34h.01M247.46 116.58h.01M243.57 132.06h.01M245.3 150.4h.01" stroke="#aaa" stroke-width="0.6" stroke-linecap="round" fill="none" opacity="1"/>
<path d="M228.1 114C225.1 117,224.2 122,224.6 126C226.1 134,229.2 145,230.4 153L241.6 153C242.6 145,243.2 134,243.2 126L243.2 116Z" fill="#e6e6e6" stroke="#1a1a1a" stroke-width="0.45"/>
<path d="M229.35 114C226.35 117,225.45 122,225.85 126C227.35 134,230.1 142.4,231.3 150.4L240.7 150.4C241.7 142.4,242.3 134,242.3 126L242.3 116Z" fill="#dcdcdc" stroke="#1a1a1a" stroke-width="0.45"/>
<path d="M230.6 114C227.6 117,226.7 122,227.1 126C228.6 134,231 139.8,232.2 147.8L239.8 147.8C240.8 139.8,241.4 134,241.4 126L241.4 116Z" fill="#e8e8e8" stroke="#1a1a1a" stroke-width="0.45"/>
<path d="M231.85 114C228.85 117,227.95 122,228.35 126C229.85 134,231.9 137.2,233.1 145.2L238.9 145.2C239.9 137.2,240.5 134,240.5 126L240.5 116Z" fill="#f4f4f4" stroke="#1a1a1a" stroke-width="0.45"/>
<path d="M233.1 114C230.1 117,229.2 122,229.6 126C231.1 134,232.8 134.6,234 142.6L238 142.6C239 134.6,239.6 134,239.6 126L239.6 116Z" fill="#fff" stroke="#1a1a1a" stroke-width="0.45"/>
<path d="M234.35 114C231.35 117,230.45 122,230.85 126C232.35 134,233.7 132,234.9 140L237.1 140C238.1 132,238.7 134,238.7 126L238.7 116Z" fill="#fff" stroke="#1a1a1a" stroke-width="0.45"/>
<path d="M233.8 111.4C239.32 111.4,243 115.56,243 121.8C243 128.04,239.32 132.2,233.8 132.2C228.28 132.2,224.6 128.04,224.6 121.8C224.6 115.56,228.28 111.4,233.8 111.4Z" fill="#b0b0b0" stroke="#1a1a1a" stroke-width="0.45"/>
<path d="M233.9 112.35C238.91 112.35,242.25 116.17,242.25 121.9C242.25 127.63,238.91 131.45,233.9 131.45C228.89 131.45,225.55 127.63,225.55 121.9C225.55 116.17,228.89 112.35,233.9 112.35Z" fill="#8c8c8c" stroke="#1a1a1a" stroke-width="0.45"/>
<path d="M234 113.3C238.5 113.3,241.5 116.78,241.5 122C241.5 127.22,238.5 130.7,234 130.7C229.5 130.7,226.5 127.22,226.5 122C226.5 116.78,229.5 113.3,234 113.3Z" fill="#6e6e6e" stroke="#1a1a1a" stroke-width="0.45"/>
<path d="M234.1 114.25C238.09 114.25,240.75 117.39,240.75 122.1C240.75 126.81,238.09 129.95,234.1 129.95C230.11 129.95,227.45 126.81,227.45 122.1C227.45 117.39,230.11 114.25,234.1 114.25Z" fill="#555" stroke="#1a1a1a" stroke-width="0.45"/>
<path d="M234.2 115.2C237.68 115.2,240 118,240 122.2C240 126.4,237.68 129.2,234.2 129.2C230.72 129.2,228.4 126.4,228.4 122.2C228.4 118,230.72 115.2,234.2 115.2Z" fill="#444" stroke="#1a1a1a" stroke-width="0.45"/>
<path d="M234.3 116.15C237.27 116.15,239.25 118.61,239.25 122.3C239.25 125.99,237.27 128.45,234.3 128.45C231.33 128.45,229.35 125.99,229.35 122.3C229.35 118.61,231.33 116.15,234.3 116.15Z" fill="#3a3a3a" stroke="#1a1a1a" stroke-width="0.45"/>
<path d="M234.4 117.1C236.86 117.1,238.5 119.22,238.5 122.4C238.5 125.58,236.86 127.7,234.4 127.7C231.94 127.7,230.3 125.58,230.3 122.4C230.3 119.22,231.94 117.1,234.4 117.1Z" fill="#555" stroke="#1a1a1a" stroke-width="0.45"/>
<ellipse cx="234.6" cy="122.8" rx="1.7" ry="4.2" fill="#999" filter="url(#b1)"/>
<path d="M227 116 C229 111.6,239 111.6,241 116" stroke="#111" stroke-width="1.2" fill="none" filter="url(#b0)"/>
<path d="M236.2 150.4C242.02 150.4,245.9 154.88,245.9 161.6C245.9 168.32,242.02 172.8,236.2 172.8C230.38 172.8,226.5 168.32,226.5 161.6C226.5 154.88,230.38 150.4,236.2 150.4Z" fill="#eee" stroke="#1a1a1a" stroke-width="0.45"/>
<path d="M236.3 151.25C241.61 151.25,245.15 155.39,245.15 161.6C245.15 167.81,241.61 171.95,236.3 171.95C230.99 171.95,227.45 167.81,227.45 161.6C227.45 155.39,230.99 151.25,236.3 151.25Z" fill="#aaa" stroke="#1a1a1a" stroke-width="0.45"/>
<path d="M236.4 152.1C241.2 152.1,244.4 155.9,244.4 161.6C244.4 167.3,241.2 171.1,236.4 171.1C231.6 171.1,228.4 167.3,228.4 161.6C228.4 155.9,231.6 152.1,236.4 152.1Z" fill="#555" stroke="#1a1a1a" stroke-width="0.45"/>
<path d="M236.5 152.95C240.79 152.95,243.65 156.41,243.65 161.6C243.65 166.79,240.79 170.25,236.5 170.25C232.21 170.25,229.35 166.79,229.35 161.6C229.35 156.41,232.21 152.95,236.5 152.95Z" fill="#111" stroke="#1a1a1a" stroke-width="0.45"/>
<ellipse cx="236.6" cy="161.8" rx="6.9" ry="8.5" fill="#070707"/>
<ellipse cx="236.9" cy="162.4" rx="0.7" ry="1.4" fill="#ddd"/>
</g>
<g clip-path="url(#c13)">
<path d="M320.19 138.61h.01M317.37 129.34h.01M303.25 136.59h.01M301 151.93h.01M312.55 146.52h.01M307.41 114.46h.01M309.93 138.74h.01M309.85 127.22h.01M311.53 130.89h.01M319.07 117.98h.01M298.4 132h.01M312.63 115.37h.01M310.85 138.19h.01M313.01 136.6h.01M306.76 116.38h.01M316.55 129.04h.01M303.21 151.03h.01M315.32 100.64h.01M325.9 134.78h.01M301.83 144.14h.01M312.96 147.47h.01M311.14 113.85h.01M310.12 128.13h.01M312.73 130.95h.01M314.29 118.98h.01M307.93 127.11h.01M313.45 113.33h.01M311.07 160.66h.01M300.73 145.03h.01M311.64 144.54h.01M311.37 136.08h.01M313.17 138.39h.01M304.15 131.54h.01M321.54 149.49h.01M306.21 122.13h.01M310.07 145.34h.01M316.33 126.28h.01M297.43 132.52h.01M301.53 146.92h.01M319.57 140.82h.01M314.47 139.61h.01M321.64 145.66h.01M319.35 119.77h.01M308.08 133.04h.01M298.26 129.75h.01M310.94 132.3h.01M325.57 130.71h.01M309.92 131.66h.01M309.09 116.64h.01M317.5 133.33h.01M313.13 133.47h.01M306.58 114.58h.01M309.41 139.23h.01M310.35 141.54h.01M306.51 129.66h.01M311.9 131.89h.01M312.05 149.66h.01M308.64 134.61h.01M307.31 139.35h.01M312.33 124.53h.01M305.25 119.17h.01M309.42 134.82h.01M308.2 131.75h.01M311.82 160.25h.01M317.82 159.92h.01M311.82 135.56h.01M322.25 137.46h.01M314.8 127.2h.01M307.91 142.06h.01M307.59 125.4h.01M302.45 136.46h.01M310.49 139.37h.01M306.04 118.68h.01M317.39 133.31h.01M315.58 119.75h.01M303.57 103.74h.01M312.75 144.51h.01M318.67 153.56h.01M300.54 120.4h.01M307.99 123.87h.01M309.82 123.76h.01M302.58 132.55h.01M311.74 124.12h.01M311.21 117.98h.01M309.13 129.14h.01M308.39 132.14h.01M303.72 117.48h.01M306.24 141.54h.01M305.54 122.2h.01M322.44 130.05h.01" stroke="#aaa" stroke-width="0.6" stroke-linecap="round" fill="none" opacity="1"/>
<path d="M309.35 154.18h.01M327.15 165.08h.01M315.55 173.32h.01M301.58 148.02h.01M323.68 164.36h.01M308.09 167.17h.01M300.85 163.79h.01M322.42 167.87h.01M309.55 157.94h.01M308.84 166.35h.01M309.15 159.94h.01M322.87 160.15h.01M315.36 160.05h.01M313.1 143.85h.01M303.99 163.86h.01M306.86 156.25h.01M305.71 153.63h.01M295.75 164.57h.01M312.47 154.51h.01M309.07 168.59h.01M322.8 163.85h.01M324.11 168.84h.01M308.59 167.17h.01M314.51 166.95h.01M300.93 163.81h.01M308.03 158.16h.01M312.8 160.67h.01M329.42 160.6h.01M315.4 169.25h.01M327.52 153.57h.01M315.93 150.73h.01M317.74 171.98h.01M307.96 158.84h.01M324.45 164.41h.01M320.74 157.46h.01M309.96 158.14h.01M328.08 149.42h.01M308.02 173.1h.01M312.32 152.52h.01M315.26 159.31h.01M311.82 164.88h.01M320.59 149.39h.01M314.92 172.64h.01M300.08 160.26h.01M301.81 166.18h.01M304.85 158.41h.01M309 164.54h.01M300.39 150.13h.01M314.8 171.57h.01M308.13 164.22h.01M315.54 161.84h.01M312.79 156.71h.01M310.63 170.37h.01M317.27 170.98h.01M305.99 161.92h.01M306.8 150.7h.01" stroke="#999" stroke-width="0.6" stroke-linecap="round" fill="none" opacity="1"/>
<path d="M313.6 116 C316 114.6,319.6 115.6,320.6 119 C321.6 124,320.6 129,319 133 C318 136,316.4 136.6,315.4 134 C314 130,312.2 126,312 121.6 C311.9 119,312.4 117,313.6 116Z" fill="#fff" stroke="#111" stroke-width="0.75"/>
<path d="M300.67 162.33 C300.67 153.18,310.44 148.3,317.51 148.3 C323.83 148.3,325.94 154.4,325.94 160.5 C325.94 167.82,321.72 172.7,315.4 172.7 C307.96 172.7,300.67 169.04,300.67 162.33Z" fill="#fff" stroke="#222" stroke-width="0.5" />
<path d="M302.2 162.13 C302.2 153.72,311.19 149.23,317.69 149.23 C323.51 149.23,325.45 154.84,325.45 160.45 C325.45 167.18,321.57 171.67,315.75 171.67 C308.91 171.67,302.2 168.31,302.2 162.13Z" fill="#fff" stroke="#222" stroke-width="0.5" />
<path d="M303.58 161.96 C303.58 154.18,311.88 150.03,317.89 150.03 C323.27 150.03,325.06 155.22,325.06 160.4 C325.06 166.62,321.48 170.77,316.1 170.77 C309.78 170.77,303.58 167.66,303.58 161.96Z" fill="#f4f4f4" stroke="#222" stroke-width="0.5" />
<path d="M304.82 161.8 C304.82 154.57,312.53 150.71,318.12 150.71 C323.11 150.71,324.78 155.53,324.78 160.35 C324.78 166.13,321.45 169.99,316.45 169.99 C310.57 169.99,304.82 167.1,304.82 161.8Z" fill="#ddd" stroke="#222" stroke-width="0.5" />
<path d="M305.9 161.65 C305.9 154.88,313.13 151.27,318.36 151.27 C323.04 151.27,324.6 155.79,324.6 160.3 C324.6 165.72,321.48 169.33,316.8 169.33 C311.29 169.33,305.9 166.62,305.9 161.65Z" fill="#aaa" stroke="#222" stroke-width="0.5" />
<path d="M306.84 161.53 C306.84 155.13,313.68 151.71,318.63 151.71 C323.05 151.71,324.53 155.98,324.53 160.25 C324.53 165.37,321.58 168.79,317.15 168.79 C311.94 168.79,306.84 166.23,306.84 161.53Z" fill="#555" stroke="#222" stroke-width="0.5" />
<ellipse cx="317.1" cy="160.2" rx="8" ry="9" fill="#080808"/>
<ellipse cx="317.6" cy="159.8" rx="0.7" ry="0.9" fill="#ccc"/>
</g>
<g clip-path="url(#c14)">
<path d="M402.76 123.65h.01M380.82 148.46h.01M376.65 147.73h.01M377.34 132.42h.01M380.74 130.64h.01M379.91 140.96h.01M398.23 108.66h.01M401.11 112.04h.01M403.64 119.14h.01M406.18 122.56h.01M400.63 112.65h.01M394.56 106.46h.01M378.57 139.8h.01M376.98 146.88h.01M401.45 117.3h.01M403.33 115.66h.01M384.34 109.21h.01M403.45 119.71h.01M401.11 126.55h.01M376.28 142.69h.01M395.36 109.93h.01M376.85 128.62h.01M380.67 119.22h.01M403.55 115.39h.01M399.35 110.59h.01M400.84 109.8h.01M377.36 133.86h.01M403.54 126.46h.01M404.25 126.62h.01M379.17 123.96h.01M380.16 139.57h.01M404.01 122.06h.01M381.59 136.52h.01M382.48 141.6h.01M377.16 127.16h.01M377.33 118.94h.01M404.66 126.66h.01M403.45 115.82h.01M382.65 131.81h.01M380.44 120.49h.01M379.52 142.4h.01M378.5 128.1h.01M378.43 144.24h.01M404.85 122.14h.01M382.46 140.87h.01M376.73 122.51h.01M377.95 137.18h.01M405.11 120.45h.01M378.83 111.72h.01M376.5 150.35h.01M393.47 110.45h.01M384.36 142.29h.01M403.09 121.89h.01M379.57 144.58h.01M404.65 115.57h.01M377.32 115.54h.01M382.1 117.48h.01M378.73 125.04h.01M389.6 110.72h.01M377.56 126.1h.01M403.52 114.22h.01M376.5 127.07h.01M382.72 121.97h.01M396.27 109.37h.01M380.4 117.96h.01M402.45 116.17h.01M396.66 107.66h.01M378.1 146.93h.01M380.94 112.9h.01M377.78 123.36h.01M403.26 111.61h.01M394.38 108.03h.01M402.24 123.35h.01M383.09 122.83h.01M383.13 139.6h.01M405.1 122.03h.01M376.16 142.82h.01M379.12 117.03h.01M401.67 118.77h.01M380.58 125.36h.01M392.3 110.24h.01M379.01 129.59h.01M379.3 134.16h.01M376.96 139.14h.01M377.26 132.68h.01M405.73 113.53h.01M401.26 117.8h.01M405.17 123.24h.01M382.21 108.29h.01M381.61 134.84h.01M382.26 143.35h.01M400.37 111.5h.01M405.11 116.23h.01M383.22 108.04h.01M379.11 122.05h.01M401.35 121.51h.01M405.55 113.64h.01M402.65 127.16h.01M396.2 110.54h.01M390.01 105.82h.01M380.69 115.81h.01M393.04 107.71h.01M377.84 118.23h.01M383.16 133.85h.01M393.6 102.55h.01M399.63 109.06h.01M380.45 138.43h.01M376.63 140.66h.01M380.01 135.49h.01M405.76 126.07h.01M386.6 107.29h.01M404.06 126.57h.01M400.08 111.61h.01M390.31 107.93h.01M379.04 117.56h.01M378.14 122.49h.01M381.78 123.16h.01M378.41 118.96h.01M397.05 106.6h.01M404.43 115.17h.01M378.68 116.37h.01M380.8 119.2h.01M402.26 110.56h.01M378.96 132.51h.01M397.81 105.3h.01M381.17 112.35h.01M379.42 119.01h.01M384.78 111.1h.01M391.59 109.5h.01M380.65 130.2h.01M379.09 126.12h.01M399.38 114.19h.01M392.98 106.84h.01M380.9 118.96h.01M402.93 125.49h.01M387.64 113.81h.01M396.83 107.65h.01M396.48 107.15h.01M405.09 126.91h.01M390.94 110.24h.01M399.32 124.09h.01M377.4 132.08h.01M405.21 125.85h.01M381.87 109.65h.01M380.15 138.96h.01M379.63 124.87h.01M388.8 110.2h.01M398.99 112.64h.01M380.8 118.73h.01M378.74 110.84h.01M379.95 134.25h.01M380.46 119.45h.01M378.88 145.87h.01M378.9 131.69h.01M394.87 111.01h.01M399.46 110.55h.01M394.36 107.43h.01M377.65 139.13h.01M377.96 126.77h.01M406.15 126.59h.01M378.69 150.52h.01M380.57 130.48h.01M391.36 108.82h.01M383.97 110.64h.01M405.32 124.07h.01M398.9 112.7h.01M378.44 122.49h.01M380.72 137.24h.01M378.78 146.32h.01M401.13 110.57h.01M382.54 114.37h.01M404.18 124.91h.01M389.87 110.22h.01M399.13 113.62h.01M379.27 115.51h.01M404.26 119.92h.01M382.18 128.77h.01M378.87 115.93h.01M379.1 127.49h.01M387.87 111.09h.01M398.77 110.43h.01M403.36 124.91h.01M379.25 127.63h.01M381.65 114.34h.01M403.2 117.82h.01M383.67 132.94h.01M404.46 116.02h.01M403.75 126.29h.01M394.7 105.04h.01M380.49 113.54h.01M405.48 124.68h.01M380.3 149.63h.01M395.06 107.39h.01M396.34 109.96h.01M400.79 112h.01M392.74 104.45h.01M404.14 122.04h.01M404.54 122.27h.01M387.65 106.8h.01M380.09 149.12h.01M380.24 130.17h.01M379.69 112.86h.01M384.65 132.55h.01M403.79 117.57h.01M404.9 117.3h.01M382.03 130.66h.01M383 123.64h.01M401.52 112.59h.01M387.87 111.09h.01M379.02 145.65h.01M381.58 123.5h.01M379.78 140.71h.01M380.2 108.28h.01M380.12 129.24h.01M409.19 122.49h.01M396.39 105.61h.01M392.52 106.82h.01M401.46 126.18h.01M403.78 116.29h.01M402.16 118.12h.01M403.32 113.87h.01M381.26 114.51h.01M400.88 115.34h.01M403.91 116.48h.01M384.31 111.45h.01M378.63 111.18h.01M400.41 113.7h.01M401.88 113.16h.01M404.89 113.84h.01M381.12 116.34h.01M382.4 106.99h.01M380.29 124.55h.01M378.6 121h.01M403.39 119.17h.01M379.51 123.26h.01M383.59 111.04h.01M391.55 106h.01M403.46 115.49h.01M385.89 107.76h.01M399.65 114.17h.01M378.35 139.32h.01M400.59 111.08h.01M377.9 129.19h.01M389.76 108.77h.01M381.78 122.8h.01M378.97 138.68h.01M380.38 134.16h.01M401.47 111.82h.01M399.71 111.51h.01M390.4 111.07h.01M403.39 126.01h.01M380.25 114.81h.01M382.08 145.4h.01M403.73 127.59h.01M380.83 117.01h.01M402.53 125.22h.01M381.94 110.22h.01M382.63 146.42h.01M379.51 119.14h.01M379.16 129.38h.01M391.32 109.16h.01M401.74 115.7h.01M385.72 114.04h.01M379.06 133.49h.01M396.37 111.51h.01M391.9 105.91h.01M390.54 107.31h.01M385.48 111.68h.01M405.68 124.62h.01M389.38 107.69h.01M378.3 145.81h.01M380.72 111.08h.01M377.22 122.92h.01M379.12 135.49h.01M388.69 107.12h.01M380.63 124.95h.01M378.82 120.97h.01M405.21 118h.01M397.04 110.96h.01M379.55 138.17h.01M377.13 143.52h.01M391.17 109.85h.01M397.96 114.7h.01M377.83 150.62h.01M399.05 112.34h.01M383.07 111.52h.01M381.82 144.72h.01M406.21 122.67h.01M380.05 137.99h.01M386.02 111.14h.01M404.46 126.48h.01M379.23 133.2h.01M393.42 109.33h.01M397.69 109.63h.01M402.85 125.7h.01M379.82 115.66h.01M380.82 124.14h.01M380.64 132.1h.01M381.43 114.86h.01M381.34 148.87h.01M400.86 116.98h.01M399.87 115.24h.01M378.97 131.27h.01M387.22 111.22h.01M376.43 141.29h.01M380.43 115.85h.01M378.72 144.73h.01M376.96 125.14h.01M383.75 115.2h.01M386.42 106.71h.01M378.76 127.66h.01M379.87 136.95h.01M402.04 119.08h.01M382.73 114.02h.01M386.33 109.29h.01M378.9 133.79h.01M377.62 120.4h.01M401.92 121.82h.01M393.85 104.15h.01M379.79 144.19h.01M378.46 145.26h.01M377.17 126.12h.01M379.07 135.74h.01M403.61 122.33h.01M380.12 115.38h.01M399.31 108.17h.01M404.72 119.8h.01M379.03 145.32h.01M381.67 114.09h.01M384.72 111.94h.01M403.94 113.23h.01M378.03 134.83h.01M379.84 132.91h.01M383.83 112.97h.01M403.22 120.25h.01M405.12 124.99h.01M403.2 120.55h.01M382.23 133.11h.01M380.92 129.91h.01M378.15 140.76h.01M392.35 106.85h.01M379.15 134.82h.01M379.77 120.22h.01M397.91 107.67h.01M378.8 128.32h.01M380.75 142.25h.01M381.15 140.95h.01M382.58 114.24h.01M384.54 112.58h.01M381.05 147.76h.01M380.23 124.42h.01M403.16 111.78h.01M398.38 113.41h.01M378.82 116.09h.01M389.46 111.73h.01M378.21 122.12h.01M382.6 110.08h.01M377.45 132.56h.01M396.55 112.15h.01M378.68 149.57h.01M393.48 109.38h.01M380.08 126.59h.01M387.31 109.55h.01M404.05 113.41h.01M378.72 128.86h.01M380.76 134.44h.01M403.67 120.66h.01M401.76 114.87h.01M380.94 117.56h.01M380.53 132.1h.01M398.63 114.81h.01M378.39 116.37h.01M379.33 134.95h.01M379.89 130.05h.01M379.9 133.92h.01M379.71 127.45h.01M400.64 125.58h.01M405.09 123.29h.01M385.45 109.81h.01M382.53 120.31h.01M403.51 125.59h.01M377.04 123.45h.01M377.17 132.91h.01M386.38 106.1h.01M402.89 113h.01M377.27 117.13h.01M381.78 150.46h.01M405.85 120.87h.01M377.71 115.56h.01M383.03 108.96h.01M377.62 123.54h.01M395.11 107.64h.01M397.53 108.13h.01M379.32 129.18h.01M383 139.03h.01M384.03 107.63h.01M380.14 128.81h.01M383.03 111.16h.01M380.17 133.37h.01M380.34 138.41h.01M378.97 125.45h.01M378.56 122.88h.01M402.02 122.79h.01M380.27 120.63h.01M378.53 115.87h.01M402.72 126.7h.01M378.77 136.9h.01M391.14 106.9h.01M382.24 146.69h.01M403.67 117.74h.01M389.09 106.91h.01M402.97 115.06h.01M401.58 112.96h.01M388.92 111.81h.01M407.33 124.38h.01M378.57 116.38h.01M406.04 121.3h.01M401.51 109.94h.01M379.55 150h.01M392.7 107.64h.01M378.64 148.43h.01M379.46 121.47h.01M379.99 135.42h.01M404.06 124.78h.01M382.91 124.45h.01M385.71 111.32h.01M385.02 110h.01M379.06 112.82h.01M402.03 122.59h.01M377.37 131.55h.01M377.94 130.86h.01M380.03 115.67h.01M403.84 125.5h.01M379.62 143.58h.01M391.66 107.99h.01M381.44 107.56h.01M385.89 109.62h.01M404.98 115.35h.01M402.5 114.92h.01M377.09 134.01h.01M395.18 106.63h.01M402.94 122.38h.01M381.56 142.05h.01M379.33 147.45h.01M397.28 112.29h.01M382.29 128.99h.01M386.24 111.96h.01M389.37 108.78h.01M377.63 135.21h.01M403.09 113.1h.01M384.52 112.29h.01M403.89 123.01h.01M389.82 106.68h.01M378.34 142.53h.01M382.01 139.33h.01M381.33 134.63h.01M382.01 110.37h.01M395.3 107.59h.01M377.48 136.31h.01M377.99 131.27h.01M399.78 111.6h.01M395.61 108.73h.01M400 113.3h.01M395.27 107.51h.01M404.43 116.31h.01M380.85 116.66h.01M392.23 104.65h.01M400.29 112.9h.01M403.18 124.19h.01M405.34 118.27h.01M403.71 120.26h.01M387.35 107.09h.01M380.66 118.54h.01M406.7 121.31h.01M381.22 126.55h.01M376.88 137.58h.01M379.08 120.03h.01M380.37 139.99h.01M397.73 105.27h.01M376.55 145.57h.01M384.07 140.38h.01M378.31 123.97h.01M387.53 111.57h.01M379.4 114.09h.01M401.14 108.59h.01M399.77 122.32h.01M376.33 120.79h.01M376.57 142.63h.01M379.35 122.86h.01M382.88 110.43h.01M380.26 143.24h.01M381.46 115.55h.01M378.63 122.05h.01M392.2 106.62h.01M383.21 114.78h.01M401.98 123.85h.01M381.61 113.27h.01M388.1 111.63h.01M384.13 109.59h.01M389.44 109.64h.01M383.07 111.81h.01M403.28 127.91h.01M403.59 112.91h.01M396.81 105.07h.01M378.79 127.8h.01M381.08 139.22h.01M404.51 123.93h.01M381.46 120.82h.01M383.53 110.87h.01M405.28 114.25h.01M383.98 137.51h.01M380.37 142.4h.01M384 110.69h.01M405.45 125.01h.01M404.4 126.08h.01M392.76 105.61h.01M378.58 149.45h.01M380.78 141.38h.01M380.9 119.25h.01M395.84 107.51h.01M381.63 114.04h.01M392.04 108.2h.01M383.13 110.73h.01M377.88 119.64h.01M402.35 115.19h.01M378.87 140.2h.01M380.7 137.26h.01M404.03 119.03h.01M398.44 113.12h.01M387.1 108.57h.01M376.8 143.75h.01M394.27 108.09h.01M381.48 145.69h.01M381.47 111.91h.01M379.58 147.32h.01M386.33 108.59h.01M381.64 112.54h.01M382.79 110.6h.01M387.74 109.68h.01M380.32 122.35h.01M405.34 115.55h.01M398.46 111.81h.01M384.54 132.29h.01M395.97 110.49h.01M406.19 115.5h.01M398.55 108.27h.01M382.54 109.12h.01M378.63 111.38h.01M393.54 108.87h.01M378.16 150.82h.01M400.85 116.41h.01M402.03 110.21h.01M379.56 120.83h.01M386.42 107.83h.01M393.96 111.09h.01M387.87 108.01h.01M402.05 112.07h.01M379.6 127.45h.01M406.54 118.95h.01M397.47 105.86h.01M381.18 142.08h.01M380.62 111.37h.01M404.04 126.1h.01M401.53 113.58h.01M383.95 107.25h.01M394.76 105.43h.01M397.85 109.61h.01M402.19 114.14h.01M382.17 143.12h.01M379.22 115.38h.01M386.74 111.5h.01M401.68 111.43h.01M395.52 104.68h.01M379.64 119.08h.01M381.97 112.84h.01M403.69 123.24h.01M378.2 117.18h.01M389.1 108.29h.01M381.31 112.34h.01M402.67 117.36h.01M378.3 119.87h.01M388.54 106.7h.01M378.58 149.69h.01M406.37 112.07h.01M378.99 127.63h.01M379.98 119.19h.01M379.29 140.23h.01M392.66 108.05h.01M408.51 119.24h.01M392.04 107.22h.01M379.75 147.1h.01M383.28 111.65h.01M378.92 123.48h.01M389.32 108.11h.01M390.56 105.77h.01M396.39 110.99h.01M376.63 122.77h.01M405.54 124.24h.01M402.64 115.21h.01M382.06 132.29h.01M396.39 111.36h.01M382.77 120.46h.01M395.86 108.24h.01M378.01 123.66h.01M382.44 125.46h.01M400.11 123.87h.01M382.01 135.17h.01M388.41 106.35h.01M380.11 137.56h.01M378.09 118.07h.01M381.19 113.54h.01M378.71 129.6h.01M377.1 120.27h.01M383.4 111.34h.01M380.89 109.95h.01M402.65 111.87h.01M378.17 126.81h.01M379.03 140.5h.01M378.11 138.87h.01M377.78 131.22h.01M402.79 111.93h.01M380.49 129.09h.01M387.89 108.75h.01M383.97 137.01h.01M388.96 109.19h.01M376.65 144.97h.01M378.39 117.66h.01M378.86 141.81h.01M377.65 118.71h.01M382.62 136.95h.01M377.19 120.13h.01M404.72 115.46h.01M386.4 108.23h.01M403.64 127.26h.01M381.8 111.47h.01M377.41 119.27h.01M387.92 107.54h.01M382.85 111.44h.01M402.55 119.7h.01M405.6 126.4h.01M380.63 131.77h.01M380.36 139.14h.01M393.21 106.75h.01M393.2 109.63h.01M404.26 123.43h.01M404.07 119.07h.01M379.86 140.66h.01M380.15 142.59h.01M406.12 117.19h.01M381.17 135.32h.01M380.06 144.35h.01M380.67 112.23h.01M376.96 119.55h.01M380.78 137.59h.01M381.03 115.77h.01M385.04 108.58h.01M390.6 106.22h.01M377.46 140.17h.01M380.55 120.73h.01M386.23 113.38h.01M402.74 121.34h.01M400.65 112.23h.01M379.24 115.86h.01M379.56 140.53h.01M388.45 106.04h.01M379.01 113.68h.01M377.63 142.16h.01M399.03 109.61h.01M379.04 136.63h.01M379.04 120.76h.01M379.58 124.91h.01M382.06 125.04h.01M392.52 106.57h.01M380.24 147.37h.01M378.56 128.57h.01M396.15 110.88h.01M397.18 111.2h.01M405.39 119.69h.01M402.01 110.54h.01M382.99 114.74h.01M380.78 122.27h.01M379.53 137.55h.01M382.61 114.51h.01M383.16 111.22h.01M379.77 127.12h.01M388.67 106.05h.01M379.43 126.53h.01M396.41 110.95h.01M389.11 105.83h.01M376.5 132.95h.01M400.64 118.74h.01M381.37 109.69h.01M378.42 149.23h.01M395.7 110.77h.01M404.91 121.83h.01M403.35 117.69h.01M385.12 118.03h.01M400.57 109.45h.01M404.36 112.32h.01M394.53 107.67h.01M391.35 107.1h.01M398.99 111.63h.01M391.78 110.63h.01M400.27 111.34h.01M403.44 127.38h.01M391.82 107.51h.01M377.6 138.55h.01M406.07 127.47h.01M381.45 142.84h.01M379.97 141.9h.01M380.79 146.84h.01M381.52 134.45h.01M401.7 113.64h.01M389.07 107.37h.01M382.98 123.8h.01M402.21 115.36h.01M379.68 144.75h.01M390.32 103.57h.01M377.2 141.99h.01M403.06 119.26h.01M379.8 142.96h.01M379.27 148.32h.01M379.75 145.31h.01M405.51 125.53h.01M376.83 134.47h.01M377.09 139.68h.01M384.11 109.27h.01M399.73 109.51h.01M388.76 107.93h.01M382.28 109.36h.01M406.41 121.35h.01M402.26 114.91h.01M387.44 108.68h.01M380.98 150.18h.01M404.37 116.88h.01M393.58 111.07h.01M379.9 151.2h.01M377.57 116.6h.01M390.4 109.63h.01M377.24 144.99h.01M379.7 148.71h.01M381.35 131.16h.01M403.58 117.95h.01M396.02 107.86h.01M401.08 111.97h.01M398.26 107.8h.01M391.35 106.51h.01M404.06 123.21h.01M389.59 111.09h.01M388.46 106.9h.01M401.65 113.81h.01M380.49 143.87h.01M380.52 110.5h.01M377.6 111.61h.01M388.21 109.13h.01M401.49 121.68h.01M378.74 126.81h.01M404.95 118.09h.01M400.15 118.12h.01M391.98 105.02h.01M382.48 130.61h.01M404.37 126.69h.01M377.56 126.36h.01M379.53 139.47h.01M380.88 112.14h.01M378.73 143.54h.01M400.85 116.08h.01M403.16 125.91h.01M382.04 133.02h.01M381.09 136.46h.01M377.18 148.94h.01M384.13 130.39h.01M378.58 140.56h.01M398.57 113.98h.01M383.99 111.1h.01M400.37 110.84h.01M401.47 116.09h.01M380.83 128.7h.01M380.04 128.15h.01M384.13 104.94h.01M381.52 146.74h.01M380.24 112.1h.01M380.8 113.52h.01M381.18 122.87h.01M381.76 120.78h.01M404.67 126.96h.01M382.69 147.47h.01M395.63 111.55h.01M381.08 121.85h.01M403.12 113.36h.01M396.26 105.71h.01M379.37 116.41h.01M392 106.47h.01M402.04 112.52h.01M380.69 115.25h.01M391.24 108.03h.01M378.37 124.45h.01M379.83 124.66h.01M393.21 106.46h.01M402.79 108.84h.01M377.82 119.89h.01M396.22 107.97h.01M379.42 115.05h.01M379.72 125.43h.01M385.65 110.03h.01M379.94 128.62h.01M384.4 107.37h.01M379.34 135.72h.01M379.46 106.49h.01M394.25 107.72h.01M378.04 138.57h.01M404.35 124.59h.01M390.55 111.1h.01M399.74 104.8h.01M391.85 103.45h.01M379.01 122.6h.01M384.06 134.46h.01M404.67 123.79h.01M377.3 115.18h.01M404.92 125.46h.01M394.48 109.84h.01M394.42 109.97h.01M404.75 115.94h.01M378.64 139.58h.01M381.69 134.24h.01M402.93 124.68h.01M376.86 127.95h.01M393.47 108.18h.01M383.15 140.59h.01M400.49 115.63h.01M377.87 128.64h.01M378.56 130.33h.01M380.31 137.31h.01M402.44 118.85h.01M384.7 109.5h.01M380.26 130.3h.01M378.37 145.25h.01M380.87 110.38h.01M381.46 122.1h.01M376.33 142.61h.01M376.32 119.25h.01M380.08 127.83h.01M380.21 141.18h.01M376.83 122.99h.01M402.89 114.68h.01M380.89 135.26h.01M379.79 148.29h.01M378.21 124.73h.01M406.35 126.51h.01M396.54 104.85h.01M406.14 121.14h.01M380.19 146.54h.01M379.89 124.87h.01M379.27 142.65h.01M380.83 126.54h.01M376.24 140.17h.01M404.87 116.18h.01M379.85 124.09h.01M380.63 142.28h.01M392.59 103.66h.01M377.74 137.07h.01M377.75 129.18h.01M396.81 109.19h.01M382.58 128.12h.01M385.25 110.79h.01M384.11 110.41h.01M404.32 125.64h.01M379.69 142.28h.01M393.72 109.47h.01M400.23 112.74h.01M380.1 133.71h.01M380.7 130.63h.01M401.67 122.05h.01M378.7 121.87h.01M382.26 114.95h.01M405.69 123.17h.01M400.19 125.94h.01M378.55 137.3h.01M393.77 110.09h.01M403.84 111.9h.01M380.38 119.43h.01M384.17 109.27h.01M404.95 127.82h.01M377.21 129.3h.01M391.31 110.02h.01M406.6 120.82h.01M386.27 109.15h.01M378.14 128.22h.01M379.9 123.63h.01M391.25 105.49h.01M402.77 119.37h.01M380.56 149.94h.01M402.14 114.12h.01M378.51 110.71h.01M403.07 124.81h.01M378.67 141.67h.01M397.92 108.49h.01M376.78 121.07h.01M402.52 124.44h.01M384.98 107.28h.01M404.41 119.71h.01M403.35 126.34h.01M378.97 119.56h.01M398.04 107.1h.01M405.07 118.59h.01M380.1 145.33h.01M383.87 112.12h.01M402.83 121.39h.01M403.7 121.79h.01M379.94 139.85h.01M378.49 147.87h.01M379.35 145.52h.01M386.12 113.03h.01M386.1 107.93h.01M401.11 111.7h.01M402.03 112.26h.01M404.22 118.18h.01M399.87 109.89h.01M384.06 131.89h.01M376.41 138.11h.01M381.05 140.47h.01M389.55 106.71h.01M404.68 121.35h.01M379.48 140.28h.01M379.71 143h.01M376.43 125.62h.01M380.01 143.65h.01M381.48 149.87h.01M379.63 116.14h.01M379.28 119.33h.01M380.99 133.19h.01M403.64 114.69h.01M376.66 148.06h.01M402.42 111.53h.01M378.01 118.38h.01M379.56 125.21h.01M378.85 127.27h.01M402.85 109.12h.01M396.61 108.13h.01M378.11 117.39h.01M378.31 136.3h.01M399.37 116.19h.01M380.17 121.87h.01M401.86 114.43h.01M381.06 147.84h.01M382.02 112.34h.01M399.1 110.85h.01M396.67 105.97h.01M378.02 121.01h.01M378.12 120.58h.01M403.57 118.36h.01M380.85 147.69h.01M380.25 128.53h.01M379.72 115.44h.01M379.48 148.73h.01M381.95 144.24h.01M383.39 110.71h.01M390.26 108.41h.01M378.94 140.52h.01M380.77 114.72h.01M385.66 110.88h.01M379.53 121.35h.01M379.43 142.72h.01M402.86 125.47h.01M380.53 115.62h.01M401.47 112.46h.01M399.89 110.83h.01M378.63 147.8h.01M405.18 120.27h.01M408.8 120.3h.01M381.17 142.63h.01M379.01 122.93h.01M378.11 124.56h.01M378.32 118.9h.01M380.26 114.91h.01M406.2 120.05h.01M402.21 117.47h.01M381.48 131.98h.01M387.35 109.13h.01M382.33 139.81h.01M379.11 128.94h.01M402.54 125.6h.01M380.53 148.61h.01M383.17 143.62h.01M377.33 140.35h.01M405.4 126.17h.01M404.37 120.84h.01M379.91 137.39h.01M379.1 121.45h.01M381.17 111.94h.01M385.14 107.33h.01M385.69 110.94h.01M379.95 126.83h.01M402.17 119.52h.01M384.08 109.97h.01M405.39 119.5h.01M386.38 109.39h.01M379.63 126.18h.01M405.03 124.8h.01M404.52 127.98h.01M382.48 126.17h.01M379.94 124.62h.01M379.44 135.4h.01M404.06 110.45h.01M381.11 142.45h.01M386.77 109.11h.01M388.6 109.24h.01M404.83 123.84h.01M383.62 114.37h.01M380.03 134.89h.01M404.71 120.5h.01M379.93 141.62h.01M380.44 114.25h.01M406.27 124.71h.01M381.97 140.25h.01M398.52 107.46h.01M385.77 108.54h.01M395 108.2h.01M377.48 133.63h.01M383.13 139.67h.01M378.38 143.25h.01M399.25 110.54h.01M380.29 144.71h.01M399.42 108.13h.01M376.14 137.12h.01M383.87 114.39h.01M403.24 118.66h.01M378.68 145.22h.01M380.7 144.86h.01M388.48 107.87h.01M379.98 137.41h.01M397.54 109.3h.01M404.39 124.73h.01M376.19 120.81h.01M405.79 119.27h.01M401.07 127.54h.01M387.08 104.32h.01M381.98 124.7h.01M403.89 124.74h.01M403.97 118.68h.01M379.4 109.91h.01M409.86 114.51h.01M379.14 116.55h.01M405.54 117.9h.01M385.96 105.52h.01M379.11 128.4h.01M376.74 122.09h.01M386.33 108.56h.01M404.74 118.37h.01M401.88 118.34h.01M394.24 108.54h.01M381.75 127.99h.01M380.27 115.96h.01M379.79 137.53h.01M403.51 123.72h.01M403.11 124.25h.01M380.14 111.99h.01M377.76 143.69h.01M381.31 129.35h.01M376.94 117.42h.01M380.96 136.13h.01M379.3 150.24h.01M380.13 142.61h.01M405.34 117.47h.01M379.63 126.47h.01M401.43 117.18h.01M379.82 128.43h.01M379.58 133.24h.01M380.74 123.29h.01M380.95 126.19h.01M379.07 113.82h.01M399.34 118.78h.01M394 106.5h.01M379.64 125.24h.01M381.17 124.02h.01M405.6 120.76h.01M378.94 125.29h.01M399.82 114.82h.01M379.48 136.73h.01M405.83 127.86h.01M383.52 131.18h.01M402.89 124.44h.01M382.31 110.36h.01M377.55 138.69h.01M377.34 148.51h.01M379.6 143.22h.01M378.51 140.17h.01M397.25 106.22h.01M376.58 121.38h.01M384.76 108.4h.01M379.84 133.95h.01M398.96 120.99h.01M379.66 134.75h.01M401.2 114.99h.01M395.74 106.95h.01M399.43 113.17h.01M380.86 111.65h.01M397.73 111.43h.01M380.81 109.63h.01M379.68 126.21h.01M396.1 105.02h.01M380.48 144.99h.01M380.09 114.99h.01M378.96 148.63h.01M379.96 130.35h.01M377.66 137.37h.01M404.37 116.55h.01M403.44 119.37h.01M378.49 123.2h.01M380.65 119.96h.01M381.21 125.21h.01M381.18 147.35h.01M403.54 121.91h.01M403.47 115.63h.01M381.63 128.83h.01M406.12 126.23h.01M380.46 116.64h.01M388.93 106.72h.01M403.56 123.84h.01M404.47 117.68h.01M382.9 147.57h.01M388.91 106.4h.01M376.91 133.55h.01M379.23 141.07h.01M377.16 147.06h.01M380.8 121.53h.01M397.81 109.92h.01M404.75 119.42h.01M397.67 109.67h.01M377.43 131.27h.01M403.24 123.57h.01M378.14 138.29h.01M393.3 111.55h.01M384.86 109.17h.01M378.59 126.61h.01M377.27 138.44h.01M380.62 121.26h.01M379.8 123.59h.01M404.11 124.51h.01M393.36 110.5h.01M384.29 115.37h.01M379.31 128.26h.01M400.44 112.14h.01M403.4 116.64h.01M402.41 127.27h.01M382.85 115.35h.01M389.36 106.36h.01M391.63 108.06h.01M377.37 118.81h.01M382.35 146.63h.01M378.99 123.9h.01M382.43 112.02h.01M390.51 110.44h.01M405.27 127.97h.01M399.31 110.48h.01M393.9 109.04h.01M384.05 113.15h.01M387.77 106.07h.01M399.13 111.55h.01M402.64 122.12h.01M389.95 109.12h.01M400.09 111.86h.01M381.48 114.83h.01M406.05 122.24h.01M397.14 108.86h.01M383.83 109.01h.01M398.35 110.16h.01M405.86 124h.01M399.45 108.06h.01M395.92 107.94h.01M380.36 111.67h.01M405.27 121.22h.01M390.23 105.54h.01M380.32 113.29h.01M399.2 110.65h.01M405.7 125.02h.01M377.58 128.33h.01M383.98 114.71h.01M378.38 149.79h.01M379.14 119.26h.01M378.97 150.55h.01M378.45 125.98h.01M378.42 134.81h.01M402.93 126.34h.01M399.55 111.71h.01M386.57 109.01h.01M402.05 118.49h.01M389.16 108.36h.01M377.14 128.36h.01M408.38 119.27h.01M394.63 105.93h.01M401.04 116.75h.01M379.3 146.19h.01M390.8 104.39h.01M378.39 127.36h.01M379.44 128.48h.01M404.96 124.88h.01M391.53 104.9h.01M382.65 143.39h.01M403.88 124.49h.01M379.6 135.56h.01M379.89 123.92h.01M377.59 144.73h.01M380.72 149.71h.01M381.35 114.03h.01M381.82 140.45h.01M379.04 134.05h.01M382.56 134.97h.01M380.45 143.71h.01M381.65 110.73h.01M380.38 117.12h.01M402.36 124.58h.01M388.79 110.25h.01M399.52 110.57h.01M397.17 107.67h.01M386.28 105.9h.01M377.93 128.27h.01M385.94 105.38h.01M399.03 110.27h.01M404.67 117.74h.01M376.48 117.69h.01M399.94 111.59h.01M402.18 113.72h.01M398.41 109.92h.01M404.4 112.42h.01M379.73 143.53h.01M403.52 113.47h.01M376.61 127.06h.01M379.55 138.98h.01M382.49 110.51h.01M403.12 120.64h.01M398.93 114.79h.01M379.81 141.84h.01M380.3 116.36h.01M382.3 126.81h.01M381.45 147.97h.01M380.02 149.55h.01M378.91 114.78h.01M393.18 104.88h.01M377.4 129.28h.01M399.66 109.2h.01M398.47 108.96h.01M390.45 108.62h.01M377.61 132.03h.01M377.99 149.48h.01M404.39 118.25h.01M384.6 112.68h.01M377.08 118.51h.01M381.18 125.12h.01M393.33 105.81h.01M402.18 125.33h.01M378.06 136.36h.01M377.05 136.44h.01M378.81 120.3h.01M403.4 111.92h.01M379.51 142.39h.01M403.18 115.78h.01M402.21 126.21h.01M383.92 109.99h.01M378.85 129.23h.01M378.52 149.32h.01M397.82 106.25h.01M380.88 142.97h.01M380.38 141.5h.01M394.42 108.88h.01M379.63 119.63h.01M400.77 110.52h.01M404.81 118.08h.01M388.03 105.24h.01M399.99 111.42h.01M397.34 110.12h.01M382.79 114.54h.01M381.38 146.96h.01M403.77 126.66h.01M378.67 123.8h.01M398.1 107.38h.01M382.07 133.19h.01M381.13 149.2h.01M380.56 143.57h.01M379.55 118.03h.01M396.22 105.48h.01M380.39 138.05h.01M404.42 126.59h.01M407.54 116.32h.01M383.12 141.47h.01M387.71 110.74h.01M378.72 113.27h.01M392.57 106.64h.01M379.34 118.57h.01M378.75 121.71h.01M396.91 111.58h.01M382.98 140.54h.01M386.02 107.57h.01M380.22 120.25h.01M385.06 114.44h.01M404.43 119.14h.01M401.12 113.62h.01M376.15 140.07h.01M403.91 122.3h.01M390.71 106.07h.01M381.04 139.91h.01M378.9 123.91h.01M404.13 119.47h.01M381.75 148.1h.01M378.39 136.74h.01M382.28 112.06h.01M402.22 119.24h.01M383.08 141.03h.01M406.1 120.96h.01M377.78 128.37h.01M380.39 139.72h.01M392.39 110.47h.01M389.1 108.86h.01M380.22 119.93h.01M380.48 136.17h.01M395.34 109.7h.01M385.39 106.47h.01M377.15 139.33h.01M379.46 145.68h.01M379.99 138.94h.01M385.46 114.08h.01M387.83 110.28h.01M386.52 110.31h.01M378.15 131.34h.01M376.93 134.62h.01M377.04 143.69h.01M379.14 150.98h.01M401.88 114.95h.01M380.84 120.23h.01M401.58 119.29h.01M383.03 139.52h.01M378.5 150.76h.01M387.27 112.89h.01M380.77 133.18h.01M379.38 150.58h.01M401.3 117.02h.01M402.11 126.63h.01M379.33 117.79h.01M395.93 107.76h.01M405.98 121.3h.01M399.74 115.1h.01M401.11 116.82h.01M380.56 146.33h.01M379.3 128.76h.01M384.93 112.62h.01M379.63 117.33h.01M400.14 111.93h.01M396.3 111.23h.01M404.32 127.46h.01M377.46 125.58h.01M383.91 131.92h.01M381.58 135.11h.01M402.94 123.92h.01M399.48 107.87h.01M381.15 138.64h.01M378.45 117.84h.01M396.81 110.19h.01M388.55 110.3h.01M383.75 112.97h.01M380.63 127.58h.01M379.49 124.63h.01M404.34 127.49h.01M396.71 112.38h.01M378.39 122.56h.01M402.89 120.18h.01M379.17 127.85h.01M377.28 114.18h.01M382.75 126.84h.01M389.38 107.85h.01M382.4 129.35h.01M385.55 107.12h.01M379.7 125.55h.01M401.92 118.51h.01M404.1 115.51h.01M381.27 135.02h.01M376.26 115.89h.01M393.17 109.08h.01M380.67 138.96h.01M399.27 110.69h.01M406.42 120.6h.01M401.74 114.99h.01M399.1 113.46h.01M387.09 107.94h.01M381.03 113.78h.01M380.64 124.09h.01M403.01 110.82h.01M388.95 106.65h.01M378.41 114.74h.01M382.84 141.81h.01M382.8 111.94h.01M385.46 108.67h.01M378.65 115.42h.01M402.74 121.31h.01M378.74 147.27h.01M379.23 148.28h.01M400.01 109.95h.01M401.45 109.07h.01M388.73 103.21h.01M376.37 127.06h.01M379.86 140.8h.01M406.01 115.22h.01M383.84 111.17h.01M402.92 121.7h.01M381.76 115.36h.01M381.92 112.99h.01M379.9 128.06h.01M396.89 108.12h.01M376.1 146.01h.01M402.98 119.15h.01M382.31 149.06h.01M381.51 119.73h.01M384.24 110.45h.01M402.11 121.75h.01M378.1 135.64h.01M382.96 143.4h.01M400.21 115.89h.01M377.18 145.85h.01M398.6 109.25h.01M380.23 145.27h.01M380.19 121.94h.01M406.2 126.47h.01M396.99 110.94h.01M403.49 127.42h.01M383.16 111.58h.01M394.95 108.64h.01M380.92 119.94h.01M379.03 149.91h.01M399.15 107.33h.01M376.25 118.95h.01M378.25 145.93h.01M379.7 119.13h.01M405.27 113.67h.01M380.09 149.45h.01M377.82 141.39h.01M378.86 142.96h.01M385 113.62h.01M391.93 110.97h.01M377.47 133.33h.01M396.16 110.69h.01M380.78 128.76h.01M376.17 141.22h.01M377.64 142.77h.01M382.54 112.28h.01M381.78 119.36h.01M395.77 108.48h.01M404.76 127.87h.01M376.88 124.31h.01M380.26 130.65h.01M399.43 116.39h.01M379.91 124.06h.01M403.58 116.99h.01M379.31 135.47h.01M385.07 106.78h.01M384.34 110.61h.01M380.48 132.77h.01M380.29 137.79h.01M381.51 128.68h.01M377.35 139.43h.01M403.81 123.2h.01M384.1 107.2h.01M395.99 107.3h.01M403.36 127.13h.01" stroke="#4a4a4a" stroke-width="0.6" stroke-linecap="round" fill="none"/>
<path d="M394.32 104.75h.01M400.85 117.52h.01M403.48 130.87h.01M380.44 123.23h.01M376.64 127.44h.01M385.77 110.16h.01M384.89 109.07h.01M400.2 135.72h.01M383.15 148.95h.01M387.06 108.27h.01M405.26 137.55h.01M411.42 116.16h.01M414.11 138.12h.01M401.99 111.95h.01M378.87 143.1h.01M387.64 102.14h.01M404.02 114.22h.01M397.57 107h.01M388.83 115.26h.01M381.06 145.48h.01M406.15 138.66h.01M389.87 107.61h.01M400.37 133.16h.01M402.73 113.73h.01M383.08 111.84h.01M388.16 107.81h.01M403.26 127.7h.01M399.85 110.01h.01M379.12 132.03h.01M397.26 107.99h.01M402.08 134.72h.01M400.2 133.09h.01M397.21 137.98h.01M402.08 110.79h.01M410.81 117.6h.01M386.06 112.18h.01M382.94 119.83h.01M377.65 119.96h.01M392.46 103.89h.01M397.44 132.93h.01M381.83 131.01h.01M397.48 108.97h.01M382.21 149.56h.01M402.06 123.24h.01M397.64 122.14h.01M382.39 113.43h.01M383.49 110.32h.01M391.25 110.94h.01M383.05 118.42h.01M403.9 137.79h.01M385.32 102.82h.01M403.51 127.99h.01M408.28 133.17h.01M378.5 146.97h.01M400.18 127.61h.01M382.36 108.54h.01M404.61 135.01h.01M408.81 129.3h.01M383.9 129.4h.01M402.24 125.03h.01M402.77 125.92h.01M402.66 121.84h.01M398.81 118.44h.01M405.84 117.3h.01M381.14 137.06h.01M377.83 129.72h.01M395.37 106.93h.01M401.36 130.17h.01M379.6 123.97h.01M376.72 115.51h.01M382.25 128.36h.01M403.32 135.98h.01M387.27 106.08h.01M379.7 117.31h.01M381.65 106.49h.01M397.11 108.08h.01M389.97 107.12h.01M399.44 104.18h.01M391.93 109.95h.01M403.75 134.3h.01M405.51 126.25h.01M389.76 112.18h.01M395.03 114.64h.01M396.86 114.6h.01M376.19 114.4h.01M409.32 116.61h.01M378.26 135.92h.01M380.97 139.15h.01M376.86 133.17h.01M392.21 110.29h.01M396.15 110.74h.01M402.25 121.22h.01M379.37 140.76h.01M401.95 115.26h.01M402.21 122.71h.01M385.06 114.92h.01M376.82 138.52h.01M382 144.22h.01M377.37 125h.01M400.33 127.37h.01M381 131.72h.01M402.21 130.68h.01M403.42 132.3h.01M399.47 114.47h.01M402.52 129.69h.01M403.99 133.76h.01M405.02 138.13h.01M402.59 125.33h.01M395.6 106.41h.01M377.53 117.65h.01M399.59 121.91h.01M407.93 136.47h.01M394.21 102.77h.01M401.8 137.35h.01M385.11 108.17h.01M385.2 123.07h.01M377.9 122.58h.01M403.88 104.02h.01M401.7 123.81h.01M408.22 137.32h.01M383.98 123.06h.01M405.71 131.62h.01M382.4 112.78h.01M381.33 149.87h.01M383.5 114.06h.01M405.48 131.62h.01M408.46 128.7h.01M396.71 116.36h.01M385.13 115.13h.01M382.43 133.96h.01M383.45 125.95h.01M405.28 112.5h.01M397.45 113.94h.01M400.62 111.91h.01M400.25 138.5h.01M404.01 136.2h.01M401.86 118.3h.01M397.19 107.41h.01M376.66 134.51h.01M389.25 107.27h.01M376.18 137h.01M390.68 110.14h.01M398.12 109.25h.01M394.24 109.94h.01M386.84 104.71h.01M381 149.9h.01M401.45 127.46h.01M407.77 123.05h.01M401.59 138.3h.01M389.03 108.98h.01M380.05 147.92h.01M398.62 116.78h.01M402.77 129.39h.01M381.37 125.2h.01M382.69 109.4h.01M378.87 137.65h.01M378.86 125.09h.01M378.72 149.96h.01M402.8 115.77h.01M387.53 108.81h.01M379.98 143.04h.01M383.8 116.52h.01M379.71 111.23h.01M376.55 122.85h.01M400.99 116.84h.01M404.01 130.5h.01M405.86 117.26h.01M400.12 113.86h.01M400.67 134.2h.01M399.35 105.38h.01M407.24 129.47h.01M381.45 124.48h.01M381.58 140.99h.01M402.65 134.38h.01M381.09 130.98h.01M404.35 130.46h.01M380.72 114.91h.01M383.48 138.65h.01M388.62 104.63h.01M387.79 110.65h.01M399.43 111.69h.01M381.36 124.48h.01M379.97 134.41h.01M379.87 137.04h.01M384.41 136.21h.01M385.06 140.44h.01M380.7 115.02h.01M406.42 111.1h.01M382.55 119.36h.01M400.82 109h.01M382.28 131.74h.01M399.99 108.37h.01M406.52 130.72h.01M386.13 104.61h.01M390.99 111.27h.01M387.56 103.83h.01M382.04 110.48h.01M403.11 119.94h.01M401.84 122.97h.01M406.26 117.2h.01M379.31 141.36h.01M384.91 104.08h.01M402.37 108.75h.01M405.58 118.57h.01M379.9 109.94h.01M401.52 136.43h.01M378.14 148.87h.01M393.41 110.67h.01M380.22 133.89h.01M377.64 135.64h.01M376.39 129.63h.01M395.95 110.4h.01M381.14 111.82h.01M399.72 108.75h.01M401.81 113.27h.01M387.35 111.94h.01M380.03 132.74h.01M406.56 136.35h.01M399.71 120.74h.01M408.58 119.06h.01M399.37 111.66h.01M389.88 109.56h.01M401.66 111.12h.01M394.66 104.88h.01M399.73 112.54h.01M383.81 120.83h.01M407.76 131.34h.01M397.48 108.28h.01M403.93 122.7h.01M389.85 108.67h.01M376.29 128.24h.01M379.03 119.26h.01M376.6 150.93h.01M384.61 121.34h.01M396.07 110.56h.01M380.73 137.24h.01M402.12 137.89h.01M394.61 105.74h.01M409.32 123.72h.01M389.67 104.64h.01M377.15 130.88h.01M402.26 120.03h.01M378.57 144.82h.01M376.42 144.11h.01M377.62 131.67h.01M376.39 126.78h.01M397.51 110.96h.01M390.37 107.29h.01M378.17 131.74h.01M401.46 125.79h.01M398.53 117.25h.01M382.71 122.31h.01M389.19 106.05h.01M391.38 111.85h.01M379.53 122.7h.01M403.42 110.02h.01M401.7 138.13h.01M384.72 134.49h.01M397.05 119.66h.01M402.61 114.64h.01M383.16 116.14h.01M378.36 120.19h.01M401.49 136.42h.01M398.59 109.86h.01M378.71 145.39h.01M382.78 146.35h.01M398.68 120.79h.01M376.61 145.67h.01M407.21 128.98h.01M398.67 113.1h.01M380.36 136.08h.01M380.46 137.08h.01M397.94 122.12h.01M380.57 119.57h.01M382.27 133.64h.01M382.42 102.94h.01M403.87 121.28h.01M398.06 114h.01M385.91 104.47h.01M380.97 126.3h.01M399.63 136h.01M399.32 117.91h.01M405.53 130.52h.01M379.46 123.63h.01M394.84 106.71h.01M405.36 124.12h.01M403.8 138.33h.01M378.77 141.38h.01M404.15 116.61h.01M382.76 124.64h.01M407.35 122.78h.01M385.77 108.69h.01M379.62 142.95h.01M376.63 121.22h.01M406.09 129.5h.01M376.98 131.97h.01M401.39 118.96h.01M380.46 127.66h.01M383.49 144.63h.01M387.39 116.3h.01M381.25 112.44h.01M404.17 131.96h.01M376.64 117.44h.01M405.21 121.92h.01M397.86 110.97h.01M381.36 139.32h.01M398.37 111.23h.01M405.07 125.44h.01M387.64 106.1h.01M398.68 113.77h.01M403 120.77h.01M388.11 121.06h.01M391.09 106.95h.01M379.34 126.77h.01M377.67 141.39h.01M380.63 133.39h.01M384.2 134.86h.01M406.07 131.18h.01M406.2 116.78h.01M401.68 124.35h.01M377.14 131.66h.01M382.51 150.12h.01M401.97 129.07h.01M377 115.78h.01M394.62 112.86h.01M380.1 115.07h.01M381.65 107.29h.01M385.66 104.48h.01M381.66 130.27h.01M402.02 137.93h.01M380.03 140.73h.01M399.89 131.78h.01M397.8 108.65h.01M405.9 136.67h.01M378.26 113.96h.01M410.57 132.52h.01M411.43 125.13h.01M382.43 124.28h.01M403.87 123.29h.01M402.88 125.69h.01M391.07 110.53h.01M383.43 110.02h.01M392.57 109.66h.01M377.33 148.7h.01M399.76 112.04h.01M398.94 134.32h.01M399.3 104.66h.01M394.67 112.63h.01M379.17 121.72h.01M377.81 136.07h.01M376.71 136.37h.01M381.15 113.33h.01M378.62 147.59h.01M378.28 134.2h.01M391.69 105.78h.01M404.09 128.63h.01M394.72 107.51h.01M406.86 131.59h.01M380.3 131.29h.01M391.37 109.02h.01M384.2 107.69h.01M393.63 107.87h.01M402.24 123.93h.01M395.93 103.9h.01M383.69 121.97h.01M380.54 130.52h.01M401.96 128.08h.01M406.35 113.08h.01M382.79 109.02h.01M397.45 125.9h.01M389.45 110.99h.01M382.46 137.92h.01M400.01 131.39h.01M383.75 138.01h.01M393.3 107.69h.01M379.13 135.53h.01M395.17 105.47h.01M385.81 113.36h.01M389.51 104.84h.01M399.69 119.4h.01M399.72 112.91h.01M380.22 131.52h.01M380.43 148.14h.01M407.48 127.68h.01M397.05 119.06h.01M377.36 144.02h.01M384.62 114.25h.01M384.11 112h.01M395.76 108.21h.01M392.74 108.91h.01M406.32 109.02h.01M381.32 136.39h.01M388.76 110.63h.01M377.21 132.72h.01M396.27 136.15h.01M387.73 108h.01M380.29 113.86h.01M394.46 105.65h.01M376.75 148.79h.01M383.63 113.27h.01M395.3 109.66h.01M383.04 105.73h.01M400.59 117.87h.01M402.3 133.96h.01M379.11 129.15h.01M380.78 126.48h.01M400.79 120.56h.01M380.99 130.18h.01M396.23 108.74h.01M384.1 118.62h.01M381.9 138.26h.01M405.94 118.79h.01M402.88 111.08h.01M382.61 121.17h.01M376.97 142.43h.01M397.49 114.52h.01M390.55 109.8h.01M387.37 109.74h.01M379.94 120.37h.01M403.41 118.64h.01M407.35 122.3h.01M406.87 113.95h.01M378.31 136.93h.01M405 125.93h.01M408.43 114.32h.01M393.07 109.44h.01M380.68 143.02h.01M382.09 136.55h.01M403.74 114.3h.01M400.82 135.93h.01M396.39 112.78h.01M404.87 131.38h.01M377.65 143.04h.01M383.36 141.79h.01M389.18 108.82h.01M406.39 131.7h.01M380.92 141.01h.01M403.44 129.3h.01M399.32 113.64h.01M381.4 126.31h.01M377.98 127.13h.01M378.45 130.49h.01M402.74 118.98h.01M383.27 114.78h.01M405.71 121.3h.01M385.77 108.37h.01M388.5 110.64h.01M401.45 107.04h.01M405.1 124.66h.01M384.74 111.72h.01M376.28 136.27h.01M391.24 105.15h.01M383.01 110.42h.01M399.26 113.81h.01M382.89 132.62h.01M382.36 142.54h.01M381.99 122.99h.01M379.03 148.49h.01M379.93 120.61h.01M381.59 138.99h.01M377.56 104.41h.01M384.51 116.62h.01M400.61 131.02h.01M391.02 108.54h.01M395.48 112.37h.01M379.7 114.97h.01M395.25 115.9h.01" stroke="#777" stroke-width="0.6" stroke-linecap="round" fill="none"/>
<path d="M378.52 115.01h.01M378.51 127.32h.01M380.42 130.72h.01M377.67 130.26h.01M376.21 122.86h.01M379.38 131.88h.01M382.15 121.29h.01M379.51 152.66h.01M377.98 122.15h.01M380.57 153.39h.01M377.78 143.27h.01M380.03 136.19h.01M380.27 132.36h.01M379.99 132.49h.01M378.73 124.32h.01M378.91 134.01h.01M377.57 127.83h.01M378.38 148.87h.01M379.72 141.62h.01M381.03 141.92h.01M381.59 148.97h.01M380.12 134.06h.01M379.2 134.22h.01M377.84 119.86h.01M379.64 121.77h.01M380.08 152.24h.01M379.15 125.83h.01M377.99 140.99h.01M378.85 130.76h.01M379.4 123.6h.01M377.4 138.89h.01M377.87 141.16h.01M378.24 135.77h.01M378.75 147.53h.01M378.56 135.86h.01M377.24 136.45h.01M378.74 138.01h.01M379.11 138.06h.01M379.61 145.02h.01M377.48 129.88h.01M379.37 120.42h.01M382.43 115.33h.01M379.83 130.27h.01M379.99 149.79h.01M381.92 128.09h.01M379.1 127.56h.01M376.87 136.25h.01M378.03 122.88h.01M378.48 129.09h.01M377.23 136.96h.01M379.83 138.7h.01M377.93 126.2h.01M380.52 126.49h.01M376.87 123.29h.01M381.17 133.1h.01M378.32 135.71h.01M379.01 131.92h.01M378.73 141.33h.01M380.46 124.26h.01M378.79 134.32h.01M379.27 158.31h.01M380.05 142.28h.01M378.83 140.4h.01M380.87 146.93h.01M377.72 136.75h.01M379.54 124.56h.01M378.46 130.53h.01M380.37 135.47h.01M382.09 140.3h.01M378.33 137.66h.01M379.15 127.29h.01M379.57 121.57h.01M379.3 130.47h.01M379.15 128.29h.01M381.68 128.62h.01M380.23 135.7h.01M380.8 128.44h.01M377.03 141.78h.01M380.62 141.42h.01M381.26 135.37h.01M377.61 140.03h.01M376.34 132.02h.01M379.95 148.42h.01M378.38 132.99h.01M376.88 133.77h.01M377.92 135.19h.01M377.83 139.41h.01M378.84 128.47h.01M379.89 140.16h.01M378.6 133.28h.01M380.26 139.92h.01M378.75 153.99h.01M378.24 122.58h.01M378 137.11h.01M376.29 153.33h.01M380.41 125.82h.01M379.58 122.81h.01M378.95 132.81h.01M381.39 117.18h.01M378.22 116.87h.01M378.24 131.99h.01M378.99 145.06h.01M377.58 129.76h.01M381.26 135.43h.01M377.5 135.26h.01M377.29 126.62h.01M378.16 120.49h.01M381.77 131.23h.01M379.34 132.62h.01M378.83 127.23h.01M379.64 130.83h.01M377.68 143.87h.01M381.33 139.3h.01M379.79 131.92h.01M379.18 141.93h.01M379.04 147.8h.01M381.2 137.33h.01M379.34 127.01h.01M378.31 128.76h.01M378.46 126.44h.01M379.58 138.16h.01M378.75 150.66h.01M379.38 134.47h.01M379.29 129.32h.01M380.16 126.33h.01M378.93 154.07h.01M379.43 124.89h.01M377.26 146.01h.01M381.04 130.61h.01M379.4 130.5h.01M377.54 139.19h.01M377.94 140.82h.01M379.5 129.11h.01M379.11 135.47h.01M378.74 132.89h.01M380.88 128.05h.01M379.22 144.89h.01M379.6 131.11h.01M377.23 132.46h.01M378.96 147.62h.01M379.97 144.95h.01M379.7 137.32h.01M376.53 129.57h.01M378.63 134.21h.01M377.07 120.44h.01M379.27 132.44h.01M379 132.89h.01M378.62 124.09h.01M380.33 138.81h.01M378.95 151.4h.01M377.88 142.88h.01M378.9 135.24h.01M380.33 135.02h.01M378.96 123.65h.01M379.43 138.82h.01M378.33 123.9h.01M380.49 136.38h.01M380.78 134.41h.01M382.95 123.55h.01M380.1 136.35h.01M379.37 133.05h.01M379.85 143.09h.01M379.14 125.34h.01M380.49 144.41h.01M377.19 137.33h.01M381.34 140.88h.01M378.22 137.71h.01M379.53 124.77h.01M378.57 132.01h.01M378.48 147.56h.01M376.25 125.46h.01M377.89 146.9h.01M378.86 132.64h.01M378.65 149.79h.01M381.98 137.29h.01M377.5 132.47h.01M376.3 143.81h.01M378.68 145.5h.01M378.09 128.05h.01M380.62 114.81h.01M377.35 134.25h.01M380.6 152.74h.01M381.53 137.66h.01M376.77 127.26h.01M379.78 135.19h.01M377.76 134.25h.01M379.22 156.19h.01M378.5 140.46h.01M379.45 142.18h.01M377.93 149.02h.01M381.07 139.86h.01M377.32 124.95h.01M378.68 133.93h.01M377.64 133.91h.01M376.59 133.33h.01M376.92 137.68h.01M378.32 121.4h.01M378.3 133.12h.01M380.99 141.45h.01M378.35 142.66h.01M378.89 142.59h.01M378.32 137.64h.01M378.48 143.94h.01M381.68 150.1h.01M381.15 133.61h.01M381.44 132.33h.01M378.95 126.71h.01M380.43 119.85h.01M378.85 141.52h.01M377.25 139.55h.01M377.32 131.97h.01M379.51 148.18h.01M382.19 125.73h.01M376.41 128.12h.01M379.32 133.99h.01M376.97 126.84h.01M379.31 135.42h.01M382.1 124.04h.01M378.1 167.55h.01M377.08 145.26h.01M378.18 136.13h.01M380.86 129.74h.01M378.58 135.26h.01M379.03 151h.01M381.19 128.94h.01M380.94 120.82h.01M377.92 128.28h.01M378.01 136.49h.01M379.39 126.55h.01M379.57 128.82h.01M379.79 137.65h.01M377.24 126.41h.01M380.47 134.21h.01M379.42 131.78h.01M381.37 139.17h.01M377.89 136.93h.01M377.29 131.09h.01M378.42 125.3h.01M377.64 144.86h.01M377.6 132.79h.01M377.08 146.57h.01M377.51 141.88h.01M379.95 139.93h.01M378.21 114.4h.01M377.59 132.71h.01M376.74 124.05h.01M379.47 134.85h.01M380.57 139.09h.01M380.95 137.49h.01M378.75 136.64h.01M380.32 143.84h.01M379.98 130.47h.01M377.37 144.26h.01M380.59 125.49h.01M379.03 125.77h.01M379.11 154.76h.01M378.44 130.99h.01M378.89 130.68h.01M379.58 120.19h.01M380.13 127.8h.01M379.03 158.16h.01M380.87 136.73h.01M378.76 139.52h.01M380.41 166.29h.01M382.03 148.67h.01M377.74 148.62h.01M378.73 136.6h.01M378.44 131.65h.01M379.87 136.79h.01M380.13 130.17h.01M377.64 131.09h.01M378.58 138.42h.01M381.82 136.26h.01M378.6 158.47h.01M381.8 143.48h.01M380.52 118.36h.01M378.44 134.75h.01M379.01 116.74h.01M379.43 151.98h.01M381.13 137.6h.01M379.81 135.02h.01M380.46 121.49h.01M382.59 142.27h.01M379.79 148.55h.01M377.51 134.14h.01M376.7 143.99h.01M379.74 156.48h.01M380.17 131.12h.01M378.47 134.49h.01M378.2 131.9h.01M379.21 129.37h.01M377.72 132.83h.01M376.65 113.51h.01M378.91 125.65h.01M376.69 133.6h.01M379.02 146.84h.01M378.11 134.75h.01M378.68 129.07h.01M376.92 116.65h.01M376.13 124.66h.01M377.57 129.99h.01M379.53 123.21h.01M377.85 130.67h.01M379.92 145.99h.01M379.89 141.42h.01M380.93 141.28h.01M379.3 140h.01M380.48 136.46h.01M380.55 129.78h.01M377.26 134.56h.01M379.83 154.17h.01M378.69 125.21h.01M376.21 126.33h.01M378.44 130.97h.01M379.49 135.17h.01M378.04 158.4h.01M378.09 132.34h.01M377.03 128.85h.01M379.39 118.62h.01M378.47 127.66h.01M379.08 140.49h.01M378.81 143.77h.01M378.14 138.09h.01M377.51 119.44h.01M377.36 132.09h.01M379.74 152.17h.01M379.61 140.76h.01M377.64 150.8h.01M377.97 133.66h.01M381.95 143.55h.01M382.35 129.25h.01M379.59 123.32h.01M379.55 128.86h.01M381.02 139.89h.01M376.32 131.34h.01M377.76 135.71h.01M380.57 123.53h.01M378.61 141.19h.01M377.56 130.87h.01" stroke="#333" stroke-width="0.6" stroke-linecap="round" fill="none" opacity="1"/>
<path d="M385.98 105.42h.01M398.43 100.29h.01M401.19 106.8h.01M389 103.75h.01M397 104.63h.01M411.03 103.23h.01M389.22 103.5h.01M399.42 103.67h.01M384.56 100.92h.01M378.15 103.36h.01M394.41 103.34h.01M400.28 102.37h.01M381.83 103.12h.01M405.5 106.2h.01M391.87 107.44h.01M383.73 101.64h.01M388.57 107.81h.01M392.44 100.84h.01M393.92 100.66h.01M385.51 103.62h.01M390.93 101.74h.01M392.04 101.25h.01M403.25 103.78h.01M394.56 106.28h.01M393.11 100.1h.01M397.5 101.6h.01M385.93 102.33h.01M401.96 100.68h.01M395.1 102.32h.01M389.04 103.27h.01M407.35 101.95h.01M393.74 103.88h.01M378.56 102.32h.01M396.67 103.83h.01M392.76 100.62h.01M388.76 104.33h.01" stroke="#999" stroke-width="0.6" stroke-linecap="round" fill="none" opacity="1"/>
<path d="M405.51 158.85h.01M409.34 164.54h.01M402.57 150.68h.01M402.63 141.33h.01M414.63 157.07h.01M409.2 141.88h.01M408.07 154.98h.01M412.47 133.73h.01M407.67 140.92h.01M415.37 164.44h.01M408.11 148.2h.01M412.92 164.96h.01M406.57 158.93h.01M409.03 152.86h.01M403.04 168.66h.01M407.65 141.8h.01M403.4 163.83h.01M408.93 159h.01M408.39 139.09h.01M407.3 144.13h.01M404.28 152.2h.01M405.51 153.65h.01M408.46 146.57h.01M404.95 148.69h.01M411.51 160.02h.01M412.06 143.62h.01M404.97 152.84h.01M407.87 156.47h.01M409.41 138.67h.01M408.76 163.76h.01M407.61 150.38h.01M408.17 137.48h.01M410.36 154.48h.01M410.85 146.23h.01M405.55 141.85h.01M407.48 150.61h.01M409.92 142.7h.01M405.44 140.95h.01M406.26 158.19h.01M410.97 151.11h.01M411.76 154.6h.01M406.45 156.49h.01M403.69 144.72h.01M408.67 151.01h.01M405.74 148.09h.01M404.33 144.16h.01M417.19 156h.01M411.23 161.19h.01M402.74 157.26h.01M405.47 138.73h.01M406.1 151.82h.01M411.61 160.21h.01M408.48 161.46h.01M401.15 149.84h.01M410.05 171.91h.01M402.56 129.42h.01M407.26 148.57h.01M409.74 148.99h.01M404.78 146.99h.01M408.91 172.12h.01M398.21 140.56h.01M407.26 146.77h.01M402.81 146.66h.01M405.99 151.91h.01M409.85 147.31h.01M410 144.26h.01M406.01 153.58h.01M406.57 156.83h.01M410.74 145.53h.01M415.18 156.73h.01M405.89 140.64h.01M407.42 151.1h.01M410.14 153.59h.01M410.11 138.02h.01M405.97 150.16h.01M410.59 149.68h.01M408.78 142.2h.01M411.87 151.4h.01M403.46 148.36h.01M407.11 152.08h.01M414.57 140.53h.01M412.46 140.18h.01M407.62 141.05h.01M407.74 160.19h.01M413.8 158.48h.01M407.5 157.89h.01M402.84 149.44h.01M405.52 132.6h.01M406.93 139.68h.01M411.97 142.94h.01M411.98 148.7h.01M411.55 156.16h.01M412.59 142.97h.01M403.55 152.27h.01M416.02 161.28h.01M408.22 160.06h.01M407.91 152.5h.01M412.17 153.55h.01M407.57 151.73h.01M411.98 161.91h.01M413.19 154.87h.01M404.64 158.28h.01M406.97 143.88h.01M407.63 144.58h.01M403.67 151.52h.01M404.85 158.38h.01M409.1 140.02h.01M409.49 154.24h.01M404.02 157.67h.01M406.64 148.3h.01M410.42 132.19h.01M406.17 156.8h.01M409.29 163.13h.01M409.93 151.41h.01M411.94 149.51h.01M410.68 128.59h.01M403.05 160.04h.01M411.68 155.29h.01M411.5 135.89h.01M409.53 139.3h.01M406.19 143.9h.01M411.66 143.84h.01M411.28 157.31h.01M409.19 154.32h.01M412.12 152.79h.01M410.48 155.19h.01M402.36 167.25h.01M409.83 150.16h.01M410.17 142.75h.01M407.46 140.69h.01" stroke="#999" stroke-width="0.6" stroke-linecap="round" fill="none" opacity="1"/>
<path d="M388.9 171.24h.01M378.63 166.8h.01M394.68 167.58h.01M412.89 167.09h.01M400.1 169.03h.01M394.11 171.18h.01M407.23 171.83h.01M396.08 168.72h.01M397.11 170.78h.01M389.63 167.13h.01M382.05 165.94h.01M393.27 171.28h.01M394.96 168.5h.01M380.46 169.93h.01M414.71 172.29h.01M389.51 171.99h.01M390.24 168.97h.01M391.1 166.15h.01M404.19 168.02h.01M391.25 169.5h.01M395.4 167.31h.01M384.13 168.39h.01M381.84 167.18h.01M396.7 168.34h.01M395.66 168.38h.01M393.37 167.59h.01M403.59 167.71h.01M394.38 172.79h.01M403.69 167.54h.01M384.24 169.52h.01M392.63 171.67h.01M386.37 170.21h.01M388.7 167.73h.01M403.01 172.1h.01M395.67 169.67h.01M387.03 172.81h.01M382.29 171.44h.01M384.77 170.33h.01M391.59 168.23h.01M388.49 169.49h.01M386.43 167.51h.01M402.37 167.35h.01M391.21 166.59h.01M379.4 167.92h.01M409.38 169.37h.01M396.79 170.78h.01M381.33 167h.01M389.51 171.13h.01M391.69 166.46h.01M389.49 165.57h.01M392.77 166.13h.01M382.13 165.05h.01M383.2 167.68h.01M397.58 168.06h.01M388 167.85h.01M390.88 168.13h.01M379.61 168.42h.01M395.34 165.48h.01M388.82 167.15h.01M376.69 168.36h.01M399.47 167.63h.01M391.66 173.78h.01M396.2 168.68h.01M379.93 171.56h.01M398.87 168.26h.01M397.16 170.18h.01M404.5 170.91h.01M391.2 170.6h.01M388.36 166.75h.01M387.27 168.03h.01M400.75 169.16h.01M394.94 167.28h.01M396.8 167.77h.01M376.88 170.3h.01M392.24 171.98h.01M405.07 168.95h.01M378.43 164.36h.01M390.5 166.11h.01M401.97 170.06h.01M379.77 164.85h.01M403.4 171.3h.01M399.22 172.22h.01M394.81 167.44h.01M392.09 169.05h.01M384.8 168.71h.01M388.05 164.11h.01M391.84 167.57h.01M411.9 172.01h.01M398.31 168.53h.01M386.89 171.04h.01M400.93 170.2h.01M381.15 168.62h.01M393.55 171.23h.01M386.06 168.41h.01M388.58 166.5h.01M384.73 170.48h.01M386.19 167.8h.01M383.49 167.19h.01M396.5 169.59h.01M393.81 169.34h.01M390.6 170.35h.01M383.71 168.2h.01M379.96 171.62h.01M396.73 169.13h.01M393.9 170.44h.01M396.52 170.26h.01M390.16 168.74h.01M398.95 170.5h.01M393.56 171.39h.01M383.32 169.03h.01M380.31 171.35h.01M396.17 169.05h.01M386.24 168.68h.01M395.79 170.15h.01M383.02 168.14h.01M385.76 168.8h.01M384.18 167.05h.01M406.48 167.55h.01M392.09 169.84h.01M401.49 171.65h.01M387.11 170.32h.01M397.95 169.74h.01M383.51 172.66h.01M398.99 168.65h.01M391.03 169.51h.01M390.09 170.54h.01M383.2 167.97h.01M388.09 166.19h.01M379 167.17h.01M378.98 170.75h.01M399.1 169.97h.01M380.46 169.65h.01M390.98 165.97h.01M400.01 169.89h.01" stroke="#777" stroke-width="0.6" stroke-linecap="round" fill="none" opacity="1"/>
<path d="M414.38 103.66h.01M406.33 161.32h.01M406.5 155.44h.01M413.18 124.75h.01M407.12 120.45h.01M408.69 100.47h.01M417.95 167.37h.01M411.96 133.41h.01M407.97 130.48h.01M408.31 147.93h.01M407.1 130.65h.01M418.26 152.24h.01M407.66 108.23h.01M420.08 121.02h.01M409.28 133.05h.01M414.82 125.91h.01M409.17 126.75h.01M405.23 146.33h.01M408.68 134.96h.01M407.45 144.26h.01M420.53 123.47h.01M411.23 132.09h.01M418.28 125.34h.01M416.6 136.66h.01M415.44 125.71h.01M407.16 128.49h.01M415.4 130.98h.01M414.87 154.12h.01M403.24 117.94h.01M407.98 123.39h.01M413.6 117.25h.01M406.61 130.8h.01M410.7 133.96h.01M410.79 110.81h.01M408.25 139.07h.01M412.43 138.22h.01M405.4 123.21h.01M402.15 128.82h.01M406.09 141.46h.01M409.34 148.34h.01M421.48 136.39h.01M413 115.76h.01M407.54 164.56h.01M414.04 150.35h.01" stroke="#bbb" stroke-width="0.6" stroke-linecap="round" fill="none" opacity="1"/>
<path d="M378.46 158.13h.01M379.28 157.15h.01M380.03 163.62h.01M378.44 158.59h.01M381.9 162.97h.01M376.85 165.63h.01M379.66 161.9h.01M380.83 163.44h.01M384.58 151.63h.01M379.25 164.81h.01M380.63 144.17h.01M381.29 156.99h.01M376.71 170.11h.01M378.59 164.34h.01M380.21 163.36h.01M381.28 161.85h.01M381.74 159.89h.01M376.99 168.31h.01M379.09 164.35h.01M379.23 161.41h.01M382.27 152.36h.01M377.08 161.38h.01M381.58 161.5h.01M380.09 164.76h.01M383.64 168.52h.01M378.35 150.42h.01M376.95 160.51h.01M378.59 146.22h.01M381.08 163.54h.01M377.08 152.07h.01M382.1 161.35h.01M378.4 154.04h.01M377.45 169.08h.01M377.35 159.73h.01M378.07 158.84h.01M376.27 167.24h.01M379.14 164.54h.01M376.78 158.73h.01M383.3 159.55h.01M377.99 151.52h.01M377.5 163.08h.01M377.94 155.99h.01M381.37 169.42h.01M378.11 157.42h.01M377.3 174.23h.01M376.46 159.38h.01M379.27 162.66h.01M376.31 159.1h.01M378.31 152.9h.01M379.24 162.07h.01M380.68 152.78h.01M379.04 156.26h.01M381.3 154.24h.01M380.1 152.34h.01M380.39 151.62h.01M381.19 159.34h.01M381.35 157.28h.01M376.71 161.31h.01M377.49 163.09h.01M378.63 156.89h.01M377.75 158.13h.01M379.97 167.57h.01M377.84 160.04h.01M381.16 168.03h.01M376.98 152.68h.01M377.65 167.14h.01M377.93 165.45h.01M378.56 163.34h.01M379.87 159.12h.01M377.5 160.23h.01M384.12 153.88h.01M380.63 158.39h.01M380.84 152.45h.01M376.47 164.26h.01M381.39 155.8h.01M379.28 166.79h.01M380.92 147.89h.01M381.4 169.16h.01M379.78 159.18h.01M377.03 164.1h.01M378.98 171.55h.01M383.16 164.63h.01M377.18 159.44h.01M381.35 161.58h.01M380.13 156.42h.01M382.99 157.5h.01M379.44 149.02h.01M382.14 174.24h.01M382.02 153.85h.01M379.25 160.89h.01M379.75 156.48h.01M380 160.95h.01M376.41 154.04h.01M382.64 161.48h.01M379.97 172.17h.01M377.55 167.3h.01M381.49 155.71h.01M378.61 161.98h.01M377.63 167.78h.01M378.44 169.39h.01M379.74 166.68h.01M380.68 166.38h.01M380.53 161.01h.01M382.42 164.88h.01M377.57 165.24h.01M380.35 161.19h.01M380.3 158.46h.01M378.13 150.53h.01M378.08 168.34h.01M380.34 163.88h.01M379.52 166.42h.01M379.19 156.17h.01M380.24 160.74h.01M376.53 160.17h.01M379.6 159.58h.01M378.01 159.87h.01M379.17 164.25h.01M376.55 157.08h.01M380.35 157.45h.01M376.96 152.53h.01" stroke="#555" stroke-width="0.6" stroke-linecap="round" fill="none" opacity="1"/>
<path d="M382.9 152L382.9 123.4C382.9 111.2,403.5 111.2,403.5 123.4L403.5 152Z" fill="#fff" stroke="#111" stroke-width="0.55"/>
<path d="M385.2 152L385.2 124.2C385.2 113,402.4 113,402.4 124.2L402.4 152Z" fill="#f4f4f4" stroke="#1a1a1a" stroke-width="0.45"/>
<path d="M387.6 152L387.6 124.6C387.6 114.4,401.6 114.4,401.6 124.6L401.6 152Z" fill="#e6e6e6" stroke="#1a1a1a" stroke-width="0.45"/>
<path d="M390.8 152L390.8 123.4C390.8 115.2,401.2 115.2,401.2 123.4L401.2 152Z" fill="#9c9c9c" stroke="#111" stroke-width="0.5"/>
<path d="M392.2 152L392.2 123.6C392.2 116.4,400.2 116.4,400.2 123.6L400.2 152Z" fill="#747474" stroke="#111" stroke-width="0.45"/>
<path d="M393.4 152L393.4 123.6C393.4 117.4,399.2 117.4,399.2 123.6L399.2 152Z" fill="#5c5c5c" stroke="#111" stroke-width="0.4"/>
<ellipse cx="395.6" cy="120.4" rx="1.5" ry="2.1" fill="#e0e0e0" stroke="#222" stroke-width="0.4"/>
<ellipse cx="394.6" cy="129.2" rx="1.5" ry="2.4" fill="#e0e0e0" stroke="#222" stroke-width="0.4"/>
<ellipse cx="394.4" cy="136.2" rx="1.4" ry="2.0" fill="#e0e0e0" stroke="#222" stroke-width="0.4"/>
<ellipse cx="395.2" cy="143" rx="1.2" ry="1.8" fill="#e0e0e0" stroke="#222" stroke-width="0.4"/>
<path d="M375.94 159.64 C375.94 152.44,387.52 148.6,395.9 148.6 C403.4 148.6,405.89 153.4,405.89 158.2 C405.89 163.96,400.9 167.8,393.4 167.8 C384.58 167.8,375.94 164.92,375.94 159.64Z" fill="#fff" stroke="#222" stroke-width="0.5" />
<path d="M377.09 159.55 C377.09 152.8,388.04 149.2,395.96 149.2 C403.05 149.2,405.42 153.7,405.42 158.2 C405.42 163.6,400.69 167.2,393.6 167.2 C385.26 167.2,377.09 164.5,377.09 159.55Z" fill="#0a0a0a" stroke="#222" stroke-width="0.5" />
<path d="M381.81 159.17 C381.81 154.3,390.16 151.7,396.2 151.7 C401.61 151.7,403.41 154.95,403.41 158.2 C403.41 162.1,399.81 164.7,394.4 164.7 C388.04 164.7,381.81 162.75,381.81 159.17Z" fill="#5a5a5a" stroke="#000" stroke-width="0.5" />
<path d="M384.69 158.98 C384.69 155.08,391.46 153,396.36 153 C400.75 153,402.21 155.6,402.21 158.2 C402.21 161.32,399.29 163.4,394.9 163.4 C389.74 163.4,384.69 161.84,384.69 158.98Z" fill="#6a6a6a" stroke="#111" stroke-width="0.5" />
<path d="M387.9 158.77 C387.9 155.92,392.94 154.4,396.59 154.4 C399.85 154.4,400.94 156.3,400.94 158.2 C400.94 160.48,398.76 162,395.5 162 C391.66 162,387.9 160.86,387.9 158.77Z" fill="#444" stroke="#111" stroke-width="0.5" />
<path d="M391.01 158.57 C391.01 156.7,394.32 155.7,396.71 155.7 C398.86 155.7,399.57 156.95,399.57 158.2 C399.57 159.7,398.14 160.7,396 160.7 C393.48 160.7,391.01 159.95,391.01 158.57Z" fill="#2a2a2a" stroke="#111" stroke-width="0.5" />
<ellipse cx="396.6" cy="158" rx="1.5" ry="1" fill="#e8e8e8"/>
</g>
<rect x="43.6" y="16.5" width="76.6" height="74.7" fill="none" stroke="#404040" stroke-width="1.05"/>
<path d="M74.4 16.5V91.2M43.6 64.6H120.2" stroke="#484848" stroke-width="0.9" fill="none"/>
<path d="M42 22.85h1.6M42 39.66h1.6M42 56.84h1.6M42 74.39h1.6M42 83.36h1.6M51.87 91.2v1.5M60.61 91.2v1.5M78.22 91.2v1.5M96.3 91.2v1.5M113.23 91.2v1.5" stroke="#333" stroke-width="0.7" fill="none"/>
<path d="M46.6 91.2v1M48 91.2v1M49.4 91.2v1M50.8 91.2v1M52.2 91.2v1M53.6 91.2v1M55 91.2v1M56.4 91.2v1" stroke="#555" stroke-width="0.5" fill="none"/>
<text x="118.2" y="22.3" font-size="5.2" text-anchor="end" fill="#444" stroke="#444" stroke-width="0.15" >2.1</text>
<text x="118.2" y="90.3" font-size="5.2" text-anchor="end" fill="#444" stroke="#444" stroke-width="0.15" >0.2</text>
<rect x="126.4" y="16.5" width="76.6" height="74.7" fill="none" stroke="#404040" stroke-width="1.05"/>
<path d="M157.7 16.5V91.2M126.4 64.9H203" stroke="#484848" stroke-width="0.9" fill="none"/>
<path d="M124.8 22.85h1.6M124.8 39.66h1.6M124.8 56.84h1.6M124.8 74.39h1.6M124.8 83.36h1.6M134.67 91.2v1.5M143.41 91.2v1.5M161.02 91.2v1.5M179.1 91.2v1.5M196.03 91.2v1.5" stroke="#333" stroke-width="0.7" fill="none"/>
<path d="M129.4 91.2v1M130.8 91.2v1M132.2 91.2v1M133.6 91.2v1M135 91.2v1M136.4 91.2v1M137.8 91.2v1M139.2 91.2v1" stroke="#555" stroke-width="0.5" fill="none"/>
<text x="201" y="22.3" font-size="5.2" text-anchor="end" fill="#444" stroke="#444" stroke-width="0.15" >0.0</text>
<text x="201" y="90.3" font-size="5.2" text-anchor="end" fill="#444" stroke="#444" stroke-width="0.15" >0.3</text>
<rect x="209.4" y="16.5" width="76.6" height="74.7" fill="none" stroke="#404040" stroke-width="1.05"/>
<path d="M243.2 16.5V91.2M209.4 65.2H286" stroke="#484848" stroke-width="0.9" fill="none"/>
<path d="M207.8 22.85h1.6M207.8 39.66h1.6M207.8 56.84h1.6M207.8 74.39h1.6M207.8 83.36h1.6M217.67 91.2v1.5M226.41 91.2v1.5M244.02 91.2v1.5M262.1 91.2v1.5M279.03 91.2v1.5" stroke="#333" stroke-width="0.7" fill="none"/>
<path d="M212.4 91.2v1M213.8 91.2v1M215.2 91.2v1M216.6 91.2v1M218 91.2v1M219.4 91.2v1M220.8 91.2v1M222.2 91.2v1" stroke="#555" stroke-width="0.5" fill="none"/>
<text x="284" y="22.3" font-size="5.2" text-anchor="end" fill="#444" stroke="#444" stroke-width="0.15" >0.6</text>
<text x="284" y="90.3" font-size="5.2" text-anchor="end" fill="#444" stroke="#444" stroke-width="0.15" >0.2</text>
<rect x="292.4" y="16.5" width="76.6" height="74.7" fill="none" stroke="#404040" stroke-width="1.05"/>
<path d="M324.2 16.5V91.2M292.4 65.2H369" stroke="#484848" stroke-width="0.9" fill="none"/>
<path d="M290.8 22.85h1.6M290.8 39.66h1.6M290.8 56.84h1.6M290.8 74.39h1.6M290.8 83.36h1.6M300.67 91.2v1.5M309.41 91.2v1.5M327.02 91.2v1.5M345.1 91.2v1.5M362.03 91.2v1.5" stroke="#333" stroke-width="0.7" fill="none"/>
<path d="M295.4 91.2v1M296.8 91.2v1M298.2 91.2v1M299.6 91.2v1M301 91.2v1M302.4 91.2v1M303.8 91.2v1M305.2 91.2v1" stroke="#555" stroke-width="0.5" fill="none"/>
<text x="367" y="22.3" font-size="5.2" text-anchor="end" fill="#444" stroke="#444" stroke-width="0.15" >1.2</text>
<text x="367" y="90.3" font-size="5.2" text-anchor="end" fill="#444" stroke="#444" stroke-width="0.15" >0.4</text>
<rect x="375.5" y="16.5" width="76.6" height="74.7" fill="none" stroke="#404040" stroke-width="1.05"/>
<path d="M404.2 16.5V91.2M375.5 65.7H452.1" stroke="#484848" stroke-width="0.9" fill="none"/>
<path d="M373.9 22.85h1.6M373.9 39.66h1.6M373.9 56.84h1.6M373.9 74.39h1.6M373.9 83.36h1.6M383.77 91.2v1.5M392.51 91.2v1.5M410.12 91.2v1.5M428.2 91.2v1.5M445.13 91.2v1.5" stroke="#333" stroke-width="0.7" fill="none"/>
<path d="M378.5 91.2v1M379.9 91.2v1M381.3 91.2v1M382.7 91.2v1M384.1 91.2v1M385.5 91.2v1M386.9 91.2v1M388.3 91.2v1" stroke="#555" stroke-width="0.5" fill="none"/>
<text x="450.1" y="22.3" font-size="5.2" text-anchor="end" fill="#444" stroke="#444" stroke-width="0.15" >0.7</text>
<text x="450.1" y="90.3" font-size="5.2" text-anchor="end" fill="#444" stroke="#444" stroke-width="0.15" >0.6</text>
<rect x="43.6" y="99.2" width="76.6" height="75.8" fill="none" stroke="#404040" stroke-width="1.05"/>
<path d="M74.4 99.2V175M43.6 147.1H120.2" stroke="#484848" stroke-width="0.9" fill="none"/>
<path d="M42 105.64h1.6M42 122.7h1.6M42 140.13h1.6M42 157.94h1.6M42 167.04h1.6M51.87 175v1.5M60.61 175v1.5M78.22 175v1.5M96.3 175v1.5M113.23 175v1.5" stroke="#333" stroke-width="0.7" fill="none"/>
<path d="M46.6 175v1M48 175v1M49.4 175v1M50.8 175v1M52.2 175v1M53.6 175v1M55 175v1M56.4 175v1" stroke="#555" stroke-width="0.5" fill="none"/>
<text x="118.2" y="105" font-size="5.2" text-anchor="end" fill="#444" stroke="#444" stroke-width="0.15" >62.7</text>
<text x="118.2" y="174.1" font-size="5.2" text-anchor="end" fill="#444" stroke="#444" stroke-width="0.15" >10.0</text>
<rect x="126.4" y="99.2" width="76.6" height="75.8" fill="none" stroke="#404040" stroke-width="1.05"/>
<path d="M157.7 99.2V175M126.4 147.9H203" stroke="#484848" stroke-width="0.9" fill="none"/>
<path d="M124.8 105.64h1.6M124.8 122.7h1.6M124.8 140.13h1.6M124.8 157.94h1.6M124.8 167.04h1.6M134.67 175v1.5M143.41 175v1.5M161.02 175v1.5M179.1 175v1.5M196.03 175v1.5" stroke="#333" stroke-width="0.7" fill="none"/>
<path d="M129.4 175v1M130.8 175v1M132.2 175v1M133.6 175v1M135 175v1M136.4 175v1M137.8 175v1M139.2 175v1" stroke="#555" stroke-width="0.5" fill="none"/>
<text x="201" y="105" font-size="5.2" text-anchor="end" fill="#444" stroke="#444" stroke-width="0.15" >39.1</text>
<text x="201" y="174.1" font-size="5.2" text-anchor="end" fill="#444" stroke="#444" stroke-width="0.15" >0.6</text>
<rect x="209.4" y="99.2" width="76.6" height="75.8" fill="none" stroke="#404040" stroke-width="1.05"/>
<path d="M243.2 99.2V175M209.4 147.9H286" stroke="#484848" stroke-width="0.9" fill="none"/>
<path d="M207.8 105.64h1.6M207.8 122.7h1.6M207.8 140.13h1.6M207.8 157.94h1.6M207.8 167.04h1.6M217.67 175v1.5M226.41 175v1.5M244.02 175v1.5M262.1 175v1.5M279.03 175v1.5" stroke="#333" stroke-width="0.7" fill="none"/>
<path d="M212.4 175v1M213.8 175v1M215.2 175v1M216.6 175v1M218 175v1M219.4 175v1M220.8 175v1M222.2 175v1" stroke="#555" stroke-width="0.5" fill="none"/>
<text x="284" y="105" font-size="5.2" text-anchor="end" fill="#444" stroke="#444" stroke-width="0.15" >0.3</text>
<text x="284" y="174.1" font-size="5.2" text-anchor="end" fill="#444" stroke="#444" stroke-width="0.15" >0.6</text>
<rect x="292.4" y="99.2" width="76.6" height="75.8" fill="none" stroke="#404040" stroke-width="1.05"/>
<path d="M324.2 99.2V175M292.4 147.9H369" stroke="#484848" stroke-width="0.9" fill="none"/>
<path d="M290.8 105.64h1.6M290.8 122.7h1.6M290.8 140.13h1.6M290.8 157.94h1.6M290.8 167.04h1.6M300.67 175v1.5M309.41 175v1.5M327.02 175v1.5M345.1 175v1.5M362.03 175v1.5" stroke="#333" stroke-width="0.7" fill="none"/>
<path d="M295.4 175v1M296.8 175v1M298.2 175v1M299.6 175v1M301 175v1M302.4 175v1M303.8 175v1M305.2 175v1" stroke="#555" stroke-width="0.5" fill="none"/>
<text x="367" y="105" font-size="5.2" text-anchor="end" fill="#444" stroke="#444" stroke-width="0.15" >0.0</text>
<text x="367" y="174.1" font-size="5.2" text-anchor="end" fill="#444" stroke="#444" stroke-width="0.15" >0.5</text>
<rect x="375.5" y="99.2" width="76.6" height="75.8" fill="none" stroke="#404040" stroke-width="1.05"/>
<path d="M403.4 99.2V175M375.5 148.7H452.1" stroke="#484848" stroke-width="0.9" fill="none"/>
<path d="M373.9 105.64h1.6M373.9 122.7h1.6M373.9 140.13h1.6M373.9 157.94h1.6M373.9 167.04h1.6M383.77 175v1.5M392.51 175v1.5M410.12 175v1.5M428.2 175v1.5M445.13 175v1.5" stroke="#333" stroke-width="0.7" fill="none"/>
<path d="M378.5 175v1M379.9 175v1M381.3 175v1M382.7 175v1M384.1 175v1M385.5 175v1M386.9 175v1M388.3 175v1" stroke="#555" stroke-width="0.5" fill="none"/>
<text x="450.1" y="105" font-size="5.2" text-anchor="end" fill="#444" stroke="#444" stroke-width="0.15" >0.3</text>
<text x="450.1" y="174.1" font-size="5.2" text-anchor="end" fill="#444" stroke="#444" stroke-width="0.15" >0.4</text>
<text x="80.4" y="214.8" font-size="9.3" text-anchor="middle" fill="#111" stroke="#111" stroke-width="0.26" >Healthy individuals</text>
<text x="164.6" y="214.8" font-size="9.3" text-anchor="middle" fill="#111" stroke="#111" stroke-width="0.26" >FHL2</text>
<text x="250.2" y="214.8" font-size="9.3" text-anchor="middle" fill="#111" stroke="#111" stroke-width="0.26" >FHL3</text>
<text x="331.7" y="214.8" font-size="9.3" text-anchor="middle" fill="#111" stroke="#111" stroke-width="0.26" >FHL4</text>
<text x="411.8" y="214.8" font-size="9.3" text-anchor="middle" fill="#111" stroke="#111" stroke-width="0.26" >FHL5</text>
<text x="80.6" y="466.2" font-size="9.3" text-anchor="middle" fill="#111" stroke="#111" stroke-width="0.26" >Healthy individuals + IL-2</text>
<text x="165.8" y="466.2" font-size="9.3" text-anchor="middle" fill="#111" stroke="#111" stroke-width="0.26" >FHL2 + IL-2</text>
<text x="250.5" y="466.2" font-size="9.3" text-anchor="middle" fill="#111" stroke="#111" stroke-width="0.26" >FHL3 + IL-2</text>
<text x="331.3" y="466.2" font-size="9.3" text-anchor="middle" fill="#111" stroke="#111" stroke-width="0.26" >FHL4 + IL-2</text>
<text x="411.3" y="466.2" font-size="9.3" text-anchor="middle" fill="#111" stroke="#111" stroke-width="0.26" >FHL5 + IL-2</text>
<path d="M43.75 224.8V316.1H119.65M39.95 316.1h3.8M39.95 297.92h3.8M39.95 279.74h3.8M39.95 261.56h3.8M39.95 243.38h3.8M39.95 225.2h3.8M52.75 316.1v3.5M71.75 316.1v3.5M90.55 316.1v3.5M109.5 316.1v3.5" stroke="#404040" stroke-width="1.0" fill="none"/>
<text x="39.05" y="318.9" font-size="8.7" text-anchor="end" fill="#111" stroke="#111" stroke-width="0.24" >0</text>
<text x="39.05" y="300.72" font-size="8.7" text-anchor="end" fill="#111" stroke="#111" stroke-width="0.24" >20</text>
<text x="39.05" y="282.54" font-size="8.7" text-anchor="end" fill="#111" stroke="#111" stroke-width="0.24" >40</text>
<text x="39.05" y="264.36" font-size="8.7" text-anchor="end" fill="#111" stroke="#111" stroke-width="0.24" >60</text>
<text x="39.05" y="246.18" font-size="8.7" text-anchor="end" fill="#111" stroke="#111" stroke-width="0.24" >80</text>
<text x="39.05" y="228" font-size="8.7" text-anchor="end" fill="#111" stroke="#111" stroke-width="0.24" >100</text>
<text transform="translate(25.0 269.75) rotate(-90)" font-size="9.0" text-anchor="middle" fill="#111" stroke="#111" stroke-width="0.26">ΔCD107a<tspan font-size="5.6" dy="-3.2">+</tspan><tspan dy="3.2"> (%)</tspan></text>
<path d="M126.7 224.8V316.1H201.7M122.9 316.1h3.8M122.9 297.92h3.8M122.9 279.74h3.8M122.9 261.56h3.8M122.9 243.38h3.8M122.9 225.2h3.8M136.2 316.1v3.5M155.3 316.1v3.5M174.3 316.1v3.5M193.7 316.1v3.5" stroke="#404040" stroke-width="1.0" fill="none"/>
<path d="M209.5 224.8V316.1H284.7M205.7 316.1h3.8M205.7 297.92h3.8M205.7 279.74h3.8M205.7 261.56h3.8M205.7 243.38h3.8M205.7 225.2h3.8M219.1 316.1v3.5M238.2 316.1v3.5M257.4 316.1v3.5M276.5 316.1v3.5" stroke="#404040" stroke-width="1.0" fill="none"/>
<path d="M292.6 224.8V316.1H368M288.8 316.1h3.8M288.8 297.92h3.8M288.8 279.74h3.8M288.8 261.56h3.8M288.8 243.38h3.8M288.8 225.2h3.8M302.2 316.1v3.5M321.5 316.1v3.5M340.5 316.1v3.5M359.9 316.1v3.5" stroke="#404040" stroke-width="1.0" fill="none"/>
<path d="M375.6 224.8V316.1H451.5M371.8 316.1h3.8M371.8 297.92h3.8M371.8 279.74h3.8M371.8 261.56h3.8M371.8 243.38h3.8M371.8 225.2h3.8M385.5 316.1v3.5M404.6 316.1v3.5M423.9 316.1v3.5M443.1 316.1v3.5" stroke="#404040" stroke-width="1.0" fill="none"/>
<path d="M43.75 329.6V420.8H119.65M39.95 420.8h3.8M39.95 402.64h3.8M39.95 384.48h3.8M39.95 366.32h3.8M39.95 348.16h3.8M39.95 330h3.8M52.75 420.8v3.5M71.75 420.8v3.5M90.55 420.8v3.5M109.5 420.8v3.5" stroke="#404040" stroke-width="1.0" fill="none"/>
<text x="39.05" y="423.6" font-size="8.7" text-anchor="end" fill="#111" stroke="#111" stroke-width="0.24" >0</text>
<text x="39.05" y="405.44" font-size="8.7" text-anchor="end" fill="#111" stroke="#111" stroke-width="0.24" >20</text>
<text x="39.05" y="387.28" font-size="8.7" text-anchor="end" fill="#111" stroke="#111" stroke-width="0.24" >40</text>
<text x="39.05" y="369.12" font-size="8.7" text-anchor="end" fill="#111" stroke="#111" stroke-width="0.24" >60</text>
<text x="39.05" y="350.96" font-size="8.7" text-anchor="end" fill="#111" stroke="#111" stroke-width="0.24" >80</text>
<text x="39.05" y="332.8" font-size="8.7" text-anchor="end" fill="#111" stroke="#111" stroke-width="0.24" >100</text>
<text transform="translate(25.0 374.5) rotate(-90)" font-size="9.0" text-anchor="middle" fill="#111" stroke="#111" stroke-width="0.26">ΔCD107a<tspan font-size="5.6" dy="-3.2">+</tspan><tspan dy="3.2"> (%)</tspan></text>
<text x="53.45" y="431.2" font-size="5.9" text-anchor="middle" fill="#333" stroke="#333" stroke-width="0.17" >P815</text>
<text x="72.45" y="431.2" font-size="5.9" text-anchor="middle" fill="#333" stroke="#333" stroke-width="0.17" >P815</text>
<text x="72.45" y="437.4" font-size="4.6" text-anchor="middle" fill="#333" stroke="#333" stroke-width="0.13" >+</text>
<text x="72.45" y="444.6" font-size="5.9" text-anchor="middle" fill="#333" stroke="#333" stroke-width="0.17" >CD3</text>
<text x="91.25" y="431.2" font-size="5.9" text-anchor="middle" fill="#333" stroke="#333" stroke-width="0.17" >P815</text>
<text x="91.25" y="437.4" font-size="4.6" text-anchor="middle" fill="#333" stroke="#333" stroke-width="0.13" >+</text>
<text x="91.25" y="444.6" font-size="5.9" text-anchor="middle" fill="#333" stroke="#333" stroke-width="0.17" >CD16</text>
<text x="110.2" y="431.2" font-size="5.9" text-anchor="middle" fill="#333" stroke="#333" stroke-width="0.17" >K562</text>
<path d="M126.7 329.2V420.4H201.7M122.9 420.4h3.8M122.9 402.24h3.8M122.9 384.08h3.8M122.9 365.92h3.8M122.9 347.76h3.8M122.9 329.6h3.8M136.2 420.4v3.5M155.3 420.4v3.5M174.3 420.4v3.5M193.7 420.4v3.5" stroke="#404040" stroke-width="1.0" fill="none"/>
<text x="136.9" y="430.8" font-size="5.9" text-anchor="middle" fill="#333" stroke="#333" stroke-width="0.17" >P815</text>
<text x="156" y="430.8" font-size="5.9" text-anchor="middle" fill="#333" stroke="#333" stroke-width="0.17" >P815</text>
<text x="156" y="437" font-size="4.6" text-anchor="middle" fill="#333" stroke="#333" stroke-width="0.13" >+</text>
<text x="156" y="444.2" font-size="5.9" text-anchor="middle" fill="#333" stroke="#333" stroke-width="0.17" >CD3</text>
<text x="175" y="430.8" font-size="5.9" text-anchor="middle" fill="#333" stroke="#333" stroke-width="0.17" >P815</text>
<text x="175" y="437" font-size="4.6" text-anchor="middle" fill="#333" stroke="#333" stroke-width="0.13" >+</text>
<text x="175" y="444.2" font-size="5.9" text-anchor="middle" fill="#333" stroke="#333" stroke-width="0.17" >CD16</text>
<text x="194.4" y="430.8" font-size="5.9" text-anchor="middle" fill="#333" stroke="#333" stroke-width="0.17" >K562</text>
<path d="M209.5 329.2V420.4H284.7M205.7 420.4h3.8M205.7 402.24h3.8M205.7 384.08h3.8M205.7 365.92h3.8M205.7 347.76h3.8M205.7 329.6h3.8M219.1 420.4v3.5M238.2 420.4v3.5M257.4 420.4v3.5M276.5 420.4v3.5" stroke="#404040" stroke-width="1.0" fill="none"/>
<text x="219.8" y="430.8" font-size="5.9" text-anchor="middle" fill="#333" stroke="#333" stroke-width="0.17" >P815</text>
<text x="238.9" y="430.8" font-size="5.9" text-anchor="middle" fill="#333" stroke="#333" stroke-width="0.17" >P815</text>
<text x="238.9" y="437" font-size="4.6" text-anchor="middle" fill="#333" stroke="#333" stroke-width="0.13" >+</text>
<text x="238.9" y="444.2" font-size="5.9" text-anchor="middle" fill="#333" stroke="#333" stroke-width="0.17" >CD3</text>
<text x="258.1" y="430.8" font-size="5.9" text-anchor="middle" fill="#333" stroke="#333" stroke-width="0.17" >P815</text>
<text x="258.1" y="437" font-size="4.6" text-anchor="middle" fill="#333" stroke="#333" stroke-width="0.13" >+</text>
<text x="258.1" y="444.2" font-size="5.9" text-anchor="middle" fill="#333" stroke="#333" stroke-width="0.17" >CD16</text>
<text x="277.2" y="430.8" font-size="5.9" text-anchor="middle" fill="#333" stroke="#333" stroke-width="0.17" >K562</text>
<path d="M292.6 329.2V420.4H368M288.8 420.4h3.8M288.8 402.24h3.8M288.8 384.08h3.8M288.8 365.92h3.8M288.8 347.76h3.8M288.8 329.6h3.8M302.2 420.4v3.5M321.5 420.4v3.5M340.5 420.4v3.5M359.9 420.4v3.5" stroke="#404040" stroke-width="1.0" fill="none"/>
<text x="302.9" y="430.8" font-size="5.9" text-anchor="middle" fill="#333" stroke="#333" stroke-width="0.17" >P815</text>
<text x="322.2" y="430.8" font-size="5.9" text-anchor="middle" fill="#333" stroke="#333" stroke-width="0.17" >P815</text>
<text x="322.2" y="437" font-size="4.6" text-anchor="middle" fill="#333" stroke="#333" stroke-width="0.13" >+</text>
<text x="322.2" y="444.2" font-size="5.9" text-anchor="middle" fill="#333" stroke="#333" stroke-width="0.17" >CD3</text>
<text x="341.2" y="430.8" font-size="5.9" text-anchor="middle" fill="#333" stroke="#333" stroke-width="0.17" >P815</text>
<text x="341.2" y="437" font-size="4.6" text-anchor="middle" fill="#333" stroke="#333" stroke-width="0.13" >+</text>
<text x="341.2" y="444.2" font-size="5.9" text-anchor="middle" fill="#333" stroke="#333" stroke-width="0.17" >CD16</text>
<text x="360.6" y="430.8" font-size="5.9" text-anchor="middle" fill="#333" stroke="#333" stroke-width="0.17" >K562</text>
<path d="M375.6 329.2V420.4H451.5M371.8 420.4h3.8M371.8 402.24h3.8M371.8 384.08h3.8M371.8 365.92h3.8M371.8 347.76h3.8M371.8 329.6h3.8M385.5 420.4v3.5M404.6 420.4v3.5M423.9 420.4v3.5M443.1 420.4v3.5" stroke="#404040" stroke-width="1.0" fill="none"/>
<text x="386.2" y="430.8" font-size="5.9" text-anchor="middle" fill="#333" stroke="#333" stroke-width="0.17" >P815</text>
<text x="405.3" y="430.8" font-size="5.9" text-anchor="middle" fill="#333" stroke="#333" stroke-width="0.17" >P815</text>
<text x="405.3" y="437" font-size="4.6" text-anchor="middle" fill="#333" stroke="#333" stroke-width="0.13" >+</text>
<text x="405.3" y="444.2" font-size="5.9" text-anchor="middle" fill="#333" stroke="#333" stroke-width="0.17" >CD3</text>
<text x="424.6" y="430.8" font-size="5.9" text-anchor="middle" fill="#333" stroke="#333" stroke-width="0.17" >P815</text>
<text x="424.6" y="437" font-size="4.6" text-anchor="middle" fill="#333" stroke="#333" stroke-width="0.13" >+</text>
<text x="424.6" y="444.2" font-size="5.9" text-anchor="middle" fill="#333" stroke="#333" stroke-width="0.17" >CD16</text>
<text x="443.8" y="430.8" font-size="5.9" text-anchor="middle" fill="#333" stroke="#333" stroke-width="0.17" >K562</text>
<path d="M43.75 476V567.2H119.65M39.95 567.2h3.8M39.95 549.04h3.8M39.95 530.88h3.8M39.95 512.72h3.8M39.95 494.56h3.8M39.95 476.4h3.8M52.75 567.2v3.5M71.75 567.2v3.5M90.55 567.2v3.5M109.5 567.2v3.5" stroke="#404040" stroke-width="1.0" fill="none"/>
<text x="39.05" y="570" font-size="8.7" text-anchor="end" fill="#111" stroke="#111" stroke-width="0.24" >0</text>
<text x="39.05" y="551.84" font-size="8.7" text-anchor="end" fill="#111" stroke="#111" stroke-width="0.24" >20</text>
<text x="39.05" y="533.68" font-size="8.7" text-anchor="end" fill="#111" stroke="#111" stroke-width="0.24" >40</text>
<text x="39.05" y="515.52" font-size="8.7" text-anchor="end" fill="#111" stroke="#111" stroke-width="0.24" >60</text>
<text x="39.05" y="497.36" font-size="8.7" text-anchor="end" fill="#111" stroke="#111" stroke-width="0.24" >80</text>
<text x="39.05" y="479.2" font-size="8.7" text-anchor="end" fill="#111" stroke="#111" stroke-width="0.24" >100</text>
<text transform="translate(25.0 520.9) rotate(-90)" font-size="9.0" text-anchor="middle" fill="#111" stroke="#111" stroke-width="0.26">ΔCD107a<tspan font-size="5.6" dy="-3.2">+</tspan><tspan dy="3.2"> (%)</tspan></text>
<path d="M126.7 475.6V566.8H201.7M122.9 566.8h3.8M122.9 548.64h3.8M122.9 530.48h3.8M122.9 512.32h3.8M122.9 494.16h3.8M122.9 476h3.8M136.2 566.8v3.5M155.3 566.8v3.5M174.3 566.8v3.5M193.7 566.8v3.5" stroke="#404040" stroke-width="1.0" fill="none"/>
<path d="M209.5 475.6V566.8H284.7M205.7 566.8h3.8M205.7 548.64h3.8M205.7 530.48h3.8M205.7 512.32h3.8M205.7 494.16h3.8M205.7 476h3.8M219.1 566.8v3.5M238.2 566.8v3.5M257.4 566.8v3.5M276.5 566.8v3.5" stroke="#404040" stroke-width="1.0" fill="none"/>
<path d="M292.6 475.6V566.8H368M288.8 566.8h3.8M288.8 548.64h3.8M288.8 530.48h3.8M288.8 512.32h3.8M288.8 494.16h3.8M288.8 476h3.8M302.2 566.8v3.5M321.5 566.8v3.5M340.5 566.8v3.5M359.9 566.8v3.5" stroke="#404040" stroke-width="1.0" fill="none"/>
<path d="M375.6 475.6V566.8H451.5M371.8 566.8h3.8M371.8 548.64h3.8M371.8 530.48h3.8M371.8 512.32h3.8M371.8 494.16h3.8M371.8 476h3.8M385.5 566.8v3.5M404.6 566.8v3.5M423.9 566.8v3.5M443.1 566.8v3.5" stroke="#404040" stroke-width="1.0" fill="none"/>
<path d="M43.75 580.9V672H119.65M39.95 672h3.8M39.95 653.86h3.8M39.95 635.72h3.8M39.95 617.58h3.8M39.95 599.44h3.8M39.95 581.3h3.8M52.75 672v3.5M71.75 672v3.5M90.55 672v3.5M109.5 672v3.5" stroke="#404040" stroke-width="1.0" fill="none"/>
<text x="39.05" y="674.8" font-size="8.7" text-anchor="end" fill="#111" stroke="#111" stroke-width="0.24" >0</text>
<text x="39.05" y="656.66" font-size="8.7" text-anchor="end" fill="#111" stroke="#111" stroke-width="0.24" >20</text>
<text x="39.05" y="638.52" font-size="8.7" text-anchor="end" fill="#111" stroke="#111" stroke-width="0.24" >40</text>
<text x="39.05" y="620.38" font-size="8.7" text-anchor="end" fill="#111" stroke="#111" stroke-width="0.24" >60</text>
<text x="39.05" y="602.24" font-size="8.7" text-anchor="end" fill="#111" stroke="#111" stroke-width="0.24" >80</text>
<text x="39.05" y="584.1" font-size="8.7" text-anchor="end" fill="#111" stroke="#111" stroke-width="0.24" >100</text>
<text transform="translate(25.0 625.75) rotate(-90)" font-size="9.0" text-anchor="middle" fill="#111" stroke="#111" stroke-width="0.26">ΔCD107a<tspan font-size="5.6" dy="-3.2">+</tspan><tspan dy="3.2"> (%)</tspan></text>
<text x="53.45" y="682.4" font-size="5.9" text-anchor="middle" fill="#333" stroke="#333" stroke-width="0.17" >P815</text>
<text x="72.45" y="682.4" font-size="5.9" text-anchor="middle" fill="#333" stroke="#333" stroke-width="0.17" >P815</text>
<text x="72.45" y="688.6" font-size="4.6" text-anchor="middle" fill="#333" stroke="#333" stroke-width="0.13" >+</text>
<text x="72.45" y="695.8" font-size="5.9" text-anchor="middle" fill="#333" stroke="#333" stroke-width="0.17" >CD3</text>
<text x="91.25" y="682.4" font-size="5.9" text-anchor="middle" fill="#333" stroke="#333" stroke-width="0.17" >P815</text>
<text x="91.25" y="688.6" font-size="4.6" text-anchor="middle" fill="#333" stroke="#333" stroke-width="0.13" >+</text>
<text x="91.25" y="695.8" font-size="5.9" text-anchor="middle" fill="#333" stroke="#333" stroke-width="0.17" >CD16</text>
<text x="110.2" y="682.4" font-size="5.9" text-anchor="middle" fill="#333" stroke="#333" stroke-width="0.17" >K562</text>
<path d="M126.7 580.6V671.4H201.7M122.9 671.4h3.8M122.9 653.32h3.8M122.9 635.24h3.8M122.9 617.16h3.8M122.9 599.08h3.8M122.9 581h3.8M136.2 671.4v3.5M155.3 671.4v3.5M174.3 671.4v3.5M193.7 671.4v3.5" stroke="#404040" stroke-width="1.0" fill="none"/>
<text x="136.9" y="681.8" font-size="5.9" text-anchor="middle" fill="#333" stroke="#333" stroke-width="0.17" >P815</text>
<text x="156" y="681.8" font-size="5.9" text-anchor="middle" fill="#333" stroke="#333" stroke-width="0.17" >P815</text>
<text x="156" y="688" font-size="4.6" text-anchor="middle" fill="#333" stroke="#333" stroke-width="0.13" >+</text>
<text x="156" y="695.2" font-size="5.9" text-anchor="middle" fill="#333" stroke="#333" stroke-width="0.17" >CD3</text>
<text x="175" y="681.8" font-size="5.9" text-anchor="middle" fill="#333" stroke="#333" stroke-width="0.17" >P815</text>
<text x="175" y="688" font-size="4.6" text-anchor="middle" fill="#333" stroke="#333" stroke-width="0.13" >+</text>
<text x="175" y="695.2" font-size="5.9" text-anchor="middle" fill="#333" stroke="#333" stroke-width="0.17" >CD16</text>
<text x="194.4" y="681.8" font-size="5.9" text-anchor="middle" fill="#333" stroke="#333" stroke-width="0.17" >K562</text>
<path d="M209.5 580.6V671.4H284.7M205.7 671.4h3.8M205.7 653.32h3.8M205.7 635.24h3.8M205.7 617.16h3.8M205.7 599.08h3.8M205.7 581h3.8M219.1 671.4v3.5M238.2 671.4v3.5M257.4 671.4v3.5M276.5 671.4v3.5" stroke="#404040" stroke-width="1.0" fill="none"/>
<text x="219.8" y="681.8" font-size="5.9" text-anchor="middle" fill="#333" stroke="#333" stroke-width="0.17" >P815</text>
<text x="238.9" y="681.8" font-size="5.9" text-anchor="middle" fill="#333" stroke="#333" stroke-width="0.17" >P815</text>
<text x="238.9" y="688" font-size="4.6" text-anchor="middle" fill="#333" stroke="#333" stroke-width="0.13" >+</text>
<text x="238.9" y="695.2" font-size="5.9" text-anchor="middle" fill="#333" stroke="#333" stroke-width="0.17" >CD3</text>
<text x="258.1" y="681.8" font-size="5.9" text-anchor="middle" fill="#333" stroke="#333" stroke-width="0.17" >P815</text>
<text x="258.1" y="688" font-size="4.6" text-anchor="middle" fill="#333" stroke="#333" stroke-width="0.13" >+</text>
<text x="258.1" y="695.2" font-size="5.9" text-anchor="middle" fill="#333" stroke="#333" stroke-width="0.17" >CD16</text>
<text x="277.2" y="681.8" font-size="5.9" text-anchor="middle" fill="#333" stroke="#333" stroke-width="0.17" >K562</text>
<path d="M292.6 580.6V671.4H368M288.8 671.4h3.8M288.8 653.32h3.8M288.8 635.24h3.8M288.8 617.16h3.8M288.8 599.08h3.8M288.8 581h3.8M302.2 671.4v3.5M321.5 671.4v3.5M340.5 671.4v3.5M359.9 671.4v3.5" stroke="#404040" stroke-width="1.0" fill="none"/>
<text x="302.9" y="681.8" font-size="5.9" text-anchor="middle" fill="#333" stroke="#333" stroke-width="0.17" >P815</text>
<text x="322.2" y="681.8" font-size="5.9" text-anchor="middle" fill="#333" stroke="#333" stroke-width="0.17" >P815</text>
<text x="322.2" y="688" font-size="4.6" text-anchor="middle" fill="#333" stroke="#333" stroke-width="0.13" >+</text>
<text x="322.2" y="695.2" font-size="5.9" text-anchor="middle" fill="#333" stroke="#333" stroke-width="0.17" >CD3</text>
<text x="341.2" y="681.8" font-size="5.9" text-anchor="middle" fill="#333" stroke="#333" stroke-width="0.17" >P815</text>
<text x="341.2" y="688" font-size="4.6" text-anchor="middle" fill="#333" stroke="#333" stroke-width="0.13" >+</text>
<text x="341.2" y="695.2" font-size="5.9" text-anchor="middle" fill="#333" stroke="#333" stroke-width="0.17" >CD16</text>
<text x="360.6" y="681.8" font-size="5.9" text-anchor="middle" fill="#333" stroke="#333" stroke-width="0.17" >K562</text>
<path d="M375.6 580.6V671.4H451.5M371.8 671.4h3.8M371.8 653.32h3.8M371.8 635.24h3.8M371.8 617.16h3.8M371.8 599.08h3.8M371.8 581h3.8M385.5 671.4v3.5M404.6 671.4v3.5M423.9 671.4v3.5M443.1 671.4v3.5" stroke="#404040" stroke-width="1.0" fill="none"/>
<text x="386.2" y="681.8" font-size="5.9" text-anchor="middle" fill="#333" stroke="#333" stroke-width="0.17" >P815</text>
<text x="405.3" y="681.8" font-size="5.9" text-anchor="middle" fill="#333" stroke="#333" stroke-width="0.17" >P815</text>
<text x="405.3" y="688" font-size="4.6" text-anchor="middle" fill="#333" stroke="#333" stroke-width="0.13" >+</text>
<text x="405.3" y="695.2" font-size="5.9" text-anchor="middle" fill="#333" stroke="#333" stroke-width="0.17" >CD3</text>
<text x="424.6" y="681.8" font-size="5.9" text-anchor="middle" fill="#333" stroke="#333" stroke-width="0.17" >P815</text>
<text x="424.6" y="688" font-size="4.6" text-anchor="middle" fill="#333" stroke="#333" stroke-width="0.13" >+</text>
<text x="424.6" y="695.2" font-size="5.9" text-anchor="middle" fill="#333" stroke="#333" stroke-width="0.17" >CD16</text>
<text x="443.8" y="681.8" font-size="5.9" text-anchor="middle" fill="#333" stroke="#333" stroke-width="0.17" >K562</text>
<path d="M46.45 315.92h12.6" stroke="#404040" stroke-width="1.0"/>
<path d="M52.75 315.92V315.92M49.55 315.92h6.4" stroke="#404040" stroke-width="1.0" fill="none"/>
<rect x="65.45" y="262.47" width="12.6" height="53.63" fill="#fff" stroke="#404040" stroke-width="1.0"/>
<path d="M71.75 262.47V251.56M68.55 251.56h6.4M71.75 262.47V272.92M68.55 272.92h6.4" stroke="#404040" stroke-width="1.0" fill="none"/>
<rect x="84.25" y="311.56" width="12.6" height="4.55" fill="#fff" stroke="#404040" stroke-width="1.0"/>
<path d="M90.55 311.56V308.46M87.35 308.46h6.4M90.55 311.56V315.19M87.35 315.19h6.4" stroke="#404040" stroke-width="1.0" fill="none"/>
<path d="M103.2 315.65h12.6" stroke="#404040" stroke-width="1.0"/>
<path d="M109.5 315.65V315.37M106.3 315.37h6.4" stroke="#404040" stroke-width="1.0" fill="none"/>
<path d="M46.45 420.26h12.6" stroke="#404040" stroke-width="1.0"/>
<path d="M52.75 420.26V417.89M49.55 417.89h6.4" stroke="#404040" stroke-width="1.0" fill="none"/>
<rect x="65.45" y="418.08" width="12.6" height="2.72" fill="#fff" stroke="#404040" stroke-width="1.0"/>
<path d="M71.75 418.08V410.81M68.55 410.81h6.4" stroke="#404040" stroke-width="1.0" fill="none"/>
<rect x="84.25" y="376.31" width="12.6" height="44.49" fill="#fff" stroke="#404040" stroke-width="1.0"/>
<path d="M90.55 376.31V365.87M87.35 365.87h6.4M90.55 376.31V386.75M87.35 386.75h6.4" stroke="#404040" stroke-width="1.0" fill="none"/>
<rect x="103.2" y="393.56" width="12.6" height="27.24" fill="#fff" stroke="#404040" stroke-width="1.0"/>
<path d="M109.5 393.56V381.76M106.3 381.76h6.4M109.5 393.56V405.36M106.3 405.36h6.4" stroke="#404040" stroke-width="1.0" fill="none"/>
<path d="M46.45 566.84h12.6" stroke="#404040" stroke-width="1.0"/>
<path d="M52.75 566.84V566.38M49.55 566.38h6.4" stroke="#404040" stroke-width="1.0" fill="none"/>
<rect x="65.45" y="495.65" width="12.6" height="71.55" fill="#fff" stroke="#404040" stroke-width="1.0"/>
<path d="M71.75 495.65V486.12M68.55 486.12h6.4" stroke="#404040" stroke-width="1.0" fill="none"/>
<rect x="84.25" y="560.48" width="12.6" height="6.72" fill="#fff" stroke="#404040" stroke-width="1.0"/>
<path d="M90.55 560.48V554.94M87.35 554.94h6.4" stroke="#404040" stroke-width="1.0" fill="none"/>
<rect x="103.2" y="565.93" width="12.6" height="1.27" fill="#fff" stroke="#404040" stroke-width="1.0"/>
<path d="M109.5 565.93V563.75M106.3 563.75h6.4" stroke="#404040" stroke-width="1.0" fill="none"/>
<rect x="46.45" y="665.02" width="12.6" height="6.98" fill="#fff" stroke="#404040" stroke-width="1.0"/>
<path d="M52.75 665.02V654.95M49.55 654.95h6.4" stroke="#404040" stroke-width="1.0" fill="none"/>
<rect x="65.45" y="665.74" width="12.6" height="6.26" fill="#fff" stroke="#404040" stroke-width="1.0"/>
<path d="M71.75 665.74V649.96M68.55 649.96h6.4" stroke="#404040" stroke-width="1.0" fill="none"/>
<rect x="84.25" y="613.04" width="12.6" height="58.96" fill="#fff" stroke="#404040" stroke-width="1.0"/>
<path d="M90.55 613.04V604.88M87.35 604.88h6.4" stroke="#404040" stroke-width="1.0" fill="none"/>
<rect x="103.2" y="607.33" width="12.6" height="64.67" fill="#fff" stroke="#404040" stroke-width="1.0"/>
<path d="M109.5 607.33V600.62M106.3 600.62h6.4" stroke="#404040" stroke-width="1.0" fill="none"/>
<path d="M136.2 316.1L155.3 247.47L174.3 316.1L193.7 316.1" stroke="#050505" stroke-width="1.0" fill="none"/>
<rect x="133.2" y="313.1" width="6.0" height="6.0" fill="#0a0a0a" stroke="#2a2a2a" stroke-width="0.9"/>
<rect x="152.3" y="244.47" width="6.0" height="6.0" fill="#0a0a0a" stroke="#2a2a2a" stroke-width="0.9"/>
<rect x="171.3" y="313.1" width="6.0" height="6.0" fill="#0a0a0a" stroke="#2a2a2a" stroke-width="0.9"/>
<rect x="190.7" y="313.1" width="6.0" height="6.0" fill="#0a0a0a" stroke="#2a2a2a" stroke-width="0.9"/>
<path d="M136.2 317.01L155.3 282.92L174.3 317.01L193.7 316.1" stroke="#050505" stroke-width="1.0" fill="none"/>
<rect x="133.2" y="314.01" width="6.0" height="6.0" fill="#484848" stroke="#2a2a2a" stroke-width="0.9"/>
<rect x="152.3" y="279.92" width="6.0" height="6.0" fill="#484848" stroke="#2a2a2a" stroke-width="0.9"/>
<rect x="171.3" y="314.01" width="6.0" height="6.0" fill="#484848" stroke="#2a2a2a" stroke-width="0.9"/>
<rect x="190.7" y="313.1" width="6.0" height="6.0" fill="#484848" stroke="#2a2a2a" stroke-width="0.9"/>
<path d="M136.2 316.1L155.3 255.65L174.3 316.1L193.7 315.65" stroke="#050505" stroke-width="1.0" fill="none"/>
<rect x="133.2" y="313.1" width="6.0" height="6.0" fill="#858585" stroke="#2a2a2a" stroke-width="0.9"/>
<rect x="152.3" y="252.65" width="6.0" height="6.0" fill="#858585" stroke="#2a2a2a" stroke-width="0.9"/>
<rect x="171.3" y="313.1" width="6.0" height="6.0" fill="#858585" stroke="#2a2a2a" stroke-width="0.9"/>
<rect x="190.7" y="312.65" width="6.0" height="6.0" fill="#858585" stroke="#2a2a2a" stroke-width="0.9"/>
<path d="M136.2 314.28L155.3 288.83L174.3 313.83L193.7 315.19" stroke="#050505" stroke-width="1.0" fill="none"/>
<rect x="133.2" y="311.28" width="6.0" height="6.0" fill="#c2c2c2" stroke="#2a2a2a" stroke-width="0.9"/>
<rect x="152.3" y="285.83" width="6.0" height="6.0" fill="#c2c2c2" stroke="#2a2a2a" stroke-width="0.9"/>
<rect x="171.3" y="310.83" width="6.0" height="6.0" fill="#c2c2c2" stroke="#2a2a2a" stroke-width="0.9"/>
<rect x="190.7" y="312.19" width="6.0" height="6.0" fill="#c2c2c2" stroke="#2a2a2a" stroke-width="0.9"/>
<path d="M219.1 316.1L238.2 315.19L257.4 316.1L276.5 316.1" stroke="#050505" stroke-width="1.0" fill="none"/>
<rect x="216.1" y="313.1" width="6.0" height="6.0" fill="#0a0a0a" stroke="#2a2a2a" stroke-width="0.9"/>
<rect x="235.2" y="312.19" width="6.0" height="6.0" fill="#0a0a0a" stroke="#2a2a2a" stroke-width="0.9"/>
<rect x="254.4" y="313.1" width="6.0" height="6.0" fill="#0a0a0a" stroke="#2a2a2a" stroke-width="0.9"/>
<rect x="273.5" y="313.1" width="6.0" height="6.0" fill="#0a0a0a" stroke="#2a2a2a" stroke-width="0.9"/>
<path d="M219.1 316.1L238.2 316.1L257.4 316.1L276.5 316.1" stroke="#050505" stroke-width="1.0" fill="none"/>
<rect x="216.1" y="313.1" width="6.0" height="6.0" fill="#484848" stroke="#2a2a2a" stroke-width="0.9"/>
<rect x="235.2" y="313.1" width="6.0" height="6.0" fill="#484848" stroke="#2a2a2a" stroke-width="0.9"/>
<rect x="254.4" y="313.1" width="6.0" height="6.0" fill="#484848" stroke="#2a2a2a" stroke-width="0.9"/>
<rect x="273.5" y="313.1" width="6.0" height="6.0" fill="#484848" stroke="#2a2a2a" stroke-width="0.9"/>
<path d="M219.1 316.1L238.2 314.74L257.4 316.1L276.5 316.1" stroke="#050505" stroke-width="1.0" fill="none"/>
<rect x="216.1" y="313.1" width="6.0" height="6.0" fill="#858585" stroke="#2a2a2a" stroke-width="0.9"/>
<rect x="235.2" y="311.74" width="6.0" height="6.0" fill="#858585" stroke="#2a2a2a" stroke-width="0.9"/>
<rect x="254.4" y="313.1" width="6.0" height="6.0" fill="#858585" stroke="#2a2a2a" stroke-width="0.9"/>
<rect x="273.5" y="313.1" width="6.0" height="6.0" fill="#858585" stroke="#2a2a2a" stroke-width="0.9"/>
<path d="M219.1 316.1L238.2 309.28L257.4 316.1L276.5 316.1" stroke="#050505" stroke-width="1.0" fill="none"/>
<rect x="216.1" y="313.1" width="6.0" height="6.0" fill="#c2c2c2" stroke="#2a2a2a" stroke-width="0.9"/>
<rect x="235.2" y="306.28" width="6.0" height="6.0" fill="#c2c2c2" stroke="#2a2a2a" stroke-width="0.9"/>
<rect x="254.4" y="313.1" width="6.0" height="6.0" fill="#c2c2c2" stroke="#2a2a2a" stroke-width="0.9"/>
<rect x="273.5" y="313.1" width="6.0" height="6.0" fill="#c2c2c2" stroke="#2a2a2a" stroke-width="0.9"/>
<path d="M219.1 315.74L238.2 312.83L257.4 315.74L276.5 315.74" stroke="#050505" stroke-width="1.0" fill="none"/>
<rect x="216.1" y="312.74" width="6.0" height="6.0" fill="#ffffff" stroke="#2a2a2a" stroke-width="0.9"/>
<rect x="235.2" y="309.83" width="6.0" height="6.0" fill="#ffffff" stroke="#2a2a2a" stroke-width="0.9"/>
<rect x="254.4" y="312.74" width="6.0" height="6.0" fill="#ffffff" stroke="#2a2a2a" stroke-width="0.9"/>
<rect x="273.5" y="312.74" width="6.0" height="6.0" fill="#ffffff" stroke="#2a2a2a" stroke-width="0.9"/>
<path d="M302.2 314.28L321.5 300.92L340.5 314.1L359.9 315.19" stroke="#050505" stroke-width="1.0" fill="none"/>
<rect x="299.2" y="311.28" width="6.0" height="6.0" fill="#0a0a0a" stroke="#2a2a2a" stroke-width="0.9"/>
<rect x="318.5" y="297.92" width="6.0" height="6.0" fill="#0a0a0a" stroke="#2a2a2a" stroke-width="0.9"/>
<rect x="337.5" y="311.1" width="6.0" height="6.0" fill="#0a0a0a" stroke="#2a2a2a" stroke-width="0.9"/>
<rect x="356.9" y="312.19" width="6.0" height="6.0" fill="#0a0a0a" stroke="#2a2a2a" stroke-width="0.9"/>
<path d="M302.2 316.1L321.5 316.1L340.5 316.1L359.9 315.65" stroke="#050505" stroke-width="1.0" fill="none"/>
<rect x="299.2" y="313.1" width="6.0" height="6.0" fill="#484848" stroke="#2a2a2a" stroke-width="0.9"/>
<rect x="318.5" y="313.1" width="6.0" height="6.0" fill="#484848" stroke="#2a2a2a" stroke-width="0.9"/>
<rect x="337.5" y="313.1" width="6.0" height="6.0" fill="#484848" stroke="#2a2a2a" stroke-width="0.9"/>
<rect x="356.9" y="312.65" width="6.0" height="6.0" fill="#484848" stroke="#2a2a2a" stroke-width="0.9"/>
<path d="M302.2 315.65L321.5 280.65L340.5 315.65L359.9 313.74" stroke="#050505" stroke-width="1.0" fill="none"/>
<rect x="299.2" y="312.65" width="6.0" height="6.0" fill="#858585" stroke="#2a2a2a" stroke-width="0.9"/>
<rect x="318.5" y="277.65" width="6.0" height="6.0" fill="#858585" stroke="#2a2a2a" stroke-width="0.9"/>
<rect x="337.5" y="312.65" width="6.0" height="6.0" fill="#858585" stroke="#2a2a2a" stroke-width="0.9"/>
<rect x="356.9" y="310.74" width="6.0" height="6.0" fill="#858585" stroke="#2a2a2a" stroke-width="0.9"/>
<path d="M302.2 315.55L321.5 308.28L340.5 315.65L359.9 315.92" stroke="#050505" stroke-width="1.0" fill="none"/>
<rect x="299.2" y="312.55" width="6.0" height="6.0" fill="#c2c2c2" stroke="#2a2a2a" stroke-width="0.9"/>
<rect x="318.5" y="305.28" width="6.0" height="6.0" fill="#c2c2c2" stroke="#2a2a2a" stroke-width="0.9"/>
<rect x="337.5" y="312.65" width="6.0" height="6.0" fill="#c2c2c2" stroke="#2a2a2a" stroke-width="0.9"/>
<rect x="356.9" y="312.92" width="6.0" height="6.0" fill="#c2c2c2" stroke="#2a2a2a" stroke-width="0.9"/>
<path d="M385.5 316.1L404.6 310.92L423.9 312.83L443.1 316.1" stroke="#050505" stroke-width="1.0" fill="none"/>
<rect x="382.5" y="313.1" width="6.0" height="6.0" fill="#0a0a0a" stroke="#2a2a2a" stroke-width="0.9"/>
<rect x="401.6" y="307.92" width="6.0" height="6.0" fill="#0a0a0a" stroke="#2a2a2a" stroke-width="0.9"/>
<rect x="420.9" y="309.83" width="6.0" height="6.0" fill="#0a0a0a" stroke="#2a2a2a" stroke-width="0.9"/>
<rect x="440.1" y="313.1" width="6.0" height="6.0" fill="#0a0a0a" stroke="#2a2a2a" stroke-width="0.9"/>
<path d="M385.5 316.1L404.6 315.19L423.9 315.19L443.1 316.1" stroke="#050505" stroke-width="1.0" fill="none"/>
<rect x="382.5" y="313.1" width="6.0" height="6.0" fill="#484848" stroke="#2a2a2a" stroke-width="0.9"/>
<rect x="401.6" y="312.19" width="6.0" height="6.0" fill="#484848" stroke="#2a2a2a" stroke-width="0.9"/>
<rect x="420.9" y="312.19" width="6.0" height="6.0" fill="#484848" stroke="#2a2a2a" stroke-width="0.9"/>
<rect x="440.1" y="313.1" width="6.0" height="6.0" fill="#484848" stroke="#2a2a2a" stroke-width="0.9"/>
<path d="M385.5 316.1L404.6 314.28L423.9 315.19L443.1 316.1" stroke="#050505" stroke-width="1.0" fill="none"/>
<rect x="382.5" y="313.1" width="6.0" height="6.0" fill="#858585" stroke="#2a2a2a" stroke-width="0.9"/>
<rect x="401.6" y="311.28" width="6.0" height="6.0" fill="#858585" stroke="#2a2a2a" stroke-width="0.9"/>
<rect x="420.9" y="312.19" width="6.0" height="6.0" fill="#858585" stroke="#2a2a2a" stroke-width="0.9"/>
<rect x="440.1" y="313.1" width="6.0" height="6.0" fill="#858585" stroke="#2a2a2a" stroke-width="0.9"/>
<path d="M385.5 316.1L404.6 315.19L423.9 316.1L443.1 316.1" stroke="#050505" stroke-width="1.0" fill="none"/>
<rect x="382.5" y="313.1" width="6.0" height="6.0" fill="#a8a8a8" stroke="#2a2a2a" stroke-width="0.9"/>
<rect x="401.6" y="312.19" width="6.0" height="6.0" fill="#a8a8a8" stroke="#2a2a2a" stroke-width="0.9"/>
<rect x="420.9" y="313.1" width="6.0" height="6.0" fill="#a8a8a8" stroke="#2a2a2a" stroke-width="0.9"/>
<rect x="440.1" y="313.1" width="6.0" height="6.0" fill="#a8a8a8" stroke="#2a2a2a" stroke-width="0.9"/>
<path d="M385.5 316.55L404.6 315.19L423.9 315.65L443.1 316.55" stroke="#050505" stroke-width="1.0" fill="none"/>
<rect x="382.5" y="313.55" width="6.0" height="6.0" fill="#c2c2c2" stroke="#2a2a2a" stroke-width="0.9"/>
<rect x="401.6" y="312.19" width="6.0" height="6.0" fill="#c2c2c2" stroke="#2a2a2a" stroke-width="0.9"/>
<rect x="420.9" y="312.65" width="6.0" height="6.0" fill="#c2c2c2" stroke="#2a2a2a" stroke-width="0.9"/>
<rect x="440.1" y="313.55" width="6.0" height="6.0" fill="#c2c2c2" stroke="#2a2a2a" stroke-width="0.9"/>
<path d="M385.5 312.83L404.6 305.74L423.9 314.55L443.1 311.46" stroke="#050505" stroke-width="1.0" fill="none"/>
<rect x="382.5" y="309.83" width="6.0" height="6.0" fill="#ffffff" stroke="#2a2a2a" stroke-width="0.9"/>
<rect x="401.6" y="302.74" width="6.0" height="6.0" fill="#ffffff" stroke="#2a2a2a" stroke-width="0.9"/>
<rect x="420.9" y="311.55" width="6.0" height="6.0" fill="#ffffff" stroke="#2a2a2a" stroke-width="0.9"/>
<rect x="440.1" y="308.46" width="6.0" height="6.0" fill="#ffffff" stroke="#2a2a2a" stroke-width="0.9"/>
<path d="M136.2 420.4L155.3 420.4L174.3 356.84L193.7 409.5" stroke="#050505" stroke-width="1.0" fill="none"/>
<rect x="133.2" y="417.4" width="6.0" height="6.0" fill="#0a0a0a" stroke="#2a2a2a" stroke-width="0.9"/>
<rect x="152.3" y="417.4" width="6.0" height="6.0" fill="#0a0a0a" stroke="#2a2a2a" stroke-width="0.9"/>
<rect x="171.3" y="353.84" width="6.0" height="6.0" fill="#0a0a0a" stroke="#2a2a2a" stroke-width="0.9"/>
<rect x="190.7" y="406.5" width="6.0" height="6.0" fill="#0a0a0a" stroke="#2a2a2a" stroke-width="0.9"/>
<path d="M136.2 420.4L155.3 420.4L174.3 399.15L193.7 408.6" stroke="#050505" stroke-width="1.0" fill="none"/>
<rect x="133.2" y="417.4" width="6.0" height="6.0" fill="#484848" stroke="#2a2a2a" stroke-width="0.9"/>
<rect x="152.3" y="417.4" width="6.0" height="6.0" fill="#484848" stroke="#2a2a2a" stroke-width="0.9"/>
<rect x="171.3" y="396.15" width="6.0" height="6.0" fill="#484848" stroke="#2a2a2a" stroke-width="0.9"/>
<rect x="190.7" y="405.6" width="6.0" height="6.0" fill="#484848" stroke="#2a2a2a" stroke-width="0.9"/>
<path d="M136.2 420.4L155.3 421.13L174.3 365.92L193.7 399.15" stroke="#050505" stroke-width="1.0" fill="none"/>
<rect x="133.2" y="417.4" width="6.0" height="6.0" fill="#858585" stroke="#2a2a2a" stroke-width="0.9"/>
<rect x="152.3" y="418.13" width="6.0" height="6.0" fill="#858585" stroke="#2a2a2a" stroke-width="0.9"/>
<rect x="171.3" y="362.92" width="6.0" height="6.0" fill="#858585" stroke="#2a2a2a" stroke-width="0.9"/>
<rect x="190.7" y="396.15" width="6.0" height="6.0" fill="#858585" stroke="#2a2a2a" stroke-width="0.9"/>
<path d="M136.2 420.04L155.3 416.4L174.3 397.88L193.7 394.07" stroke="#050505" stroke-width="1.0" fill="none"/>
<rect x="133.2" y="417.04" width="6.0" height="6.0" fill="#c2c2c2" stroke="#2a2a2a" stroke-width="0.9"/>
<rect x="152.3" y="413.4" width="6.0" height="6.0" fill="#c2c2c2" stroke="#2a2a2a" stroke-width="0.9"/>
<rect x="171.3" y="394.88" width="6.0" height="6.0" fill="#c2c2c2" stroke="#2a2a2a" stroke-width="0.9"/>
<rect x="190.7" y="391.07" width="6.0" height="6.0" fill="#c2c2c2" stroke="#2a2a2a" stroke-width="0.9"/>
<path d="M219.1 420.4L238.2 420.4L257.4 419.04L276.5 420.4" stroke="#050505" stroke-width="1.0" fill="none"/>
<rect x="216.1" y="417.4" width="6.0" height="6.0" fill="#0a0a0a" stroke="#2a2a2a" stroke-width="0.9"/>
<rect x="235.2" y="417.4" width="6.0" height="6.0" fill="#0a0a0a" stroke="#2a2a2a" stroke-width="0.9"/>
<rect x="254.4" y="416.04" width="6.0" height="6.0" fill="#0a0a0a" stroke="#2a2a2a" stroke-width="0.9"/>
<rect x="273.5" y="417.4" width="6.0" height="6.0" fill="#0a0a0a" stroke="#2a2a2a" stroke-width="0.9"/>
<path d="M219.1 420.4L238.2 420.4L257.4 419.95L276.5 420.4" stroke="#050505" stroke-width="1.0" fill="none"/>
<rect x="216.1" y="417.4" width="6.0" height="6.0" fill="#484848" stroke="#2a2a2a" stroke-width="0.9"/>
<rect x="235.2" y="417.4" width="6.0" height="6.0" fill="#484848" stroke="#2a2a2a" stroke-width="0.9"/>
<rect x="254.4" y="416.95" width="6.0" height="6.0" fill="#484848" stroke="#2a2a2a" stroke-width="0.9"/>
<rect x="273.5" y="417.4" width="6.0" height="6.0" fill="#484848" stroke="#2a2a2a" stroke-width="0.9"/>
<path d="M219.1 420.4L238.2 420.4L257.4 419.49L276.5 420.4" stroke="#050505" stroke-width="1.0" fill="none"/>
<rect x="216.1" y="417.4" width="6.0" height="6.0" fill="#858585" stroke="#2a2a2a" stroke-width="0.9"/>
<rect x="235.2" y="417.4" width="6.0" height="6.0" fill="#858585" stroke="#2a2a2a" stroke-width="0.9"/>
<rect x="254.4" y="416.49" width="6.0" height="6.0" fill="#858585" stroke="#2a2a2a" stroke-width="0.9"/>
<rect x="273.5" y="417.4" width="6.0" height="6.0" fill="#858585" stroke="#2a2a2a" stroke-width="0.9"/>
<path d="M219.1 420.4L238.2 420.4L257.4 419.95L276.5 420.4" stroke="#050505" stroke-width="1.0" fill="none"/>
<rect x="216.1" y="417.4" width="6.0" height="6.0" fill="#c2c2c2" stroke="#2a2a2a" stroke-width="0.9"/>
<rect x="235.2" y="417.4" width="6.0" height="6.0" fill="#c2c2c2" stroke="#2a2a2a" stroke-width="0.9"/>
<rect x="254.4" y="416.95" width="6.0" height="6.0" fill="#c2c2c2" stroke="#2a2a2a" stroke-width="0.9"/>
<rect x="273.5" y="417.4" width="6.0" height="6.0" fill="#c2c2c2" stroke="#2a2a2a" stroke-width="0.9"/>
<path d="M219.1 420.13L238.2 420.13L257.4 418.58L276.5 420.13" stroke="#050505" stroke-width="1.0" fill="none"/>
<rect x="216.1" y="417.13" width="6.0" height="6.0" fill="#ffffff" stroke="#2a2a2a" stroke-width="0.9"/>
<rect x="235.2" y="417.13" width="6.0" height="6.0" fill="#ffffff" stroke="#2a2a2a" stroke-width="0.9"/>
<rect x="254.4" y="415.58" width="6.0" height="6.0" fill="#ffffff" stroke="#2a2a2a" stroke-width="0.9"/>
<rect x="273.5" y="417.13" width="6.0" height="6.0" fill="#ffffff" stroke="#2a2a2a" stroke-width="0.9"/>
<path d="M302.2 420.4L321.5 420.4L340.5 417.77L359.9 419.49" stroke="#050505" stroke-width="1.0" fill="none"/>
<rect x="299.2" y="417.4" width="6.0" height="6.0" fill="#0a0a0a" stroke="#2a2a2a" stroke-width="0.9"/>
<rect x="318.5" y="417.4" width="6.0" height="6.0" fill="#0a0a0a" stroke="#2a2a2a" stroke-width="0.9"/>
<rect x="337.5" y="414.77" width="6.0" height="6.0" fill="#0a0a0a" stroke="#2a2a2a" stroke-width="0.9"/>
<rect x="356.9" y="416.49" width="6.0" height="6.0" fill="#0a0a0a" stroke="#2a2a2a" stroke-width="0.9"/>
<path d="M302.2 420.4L321.5 420.4L340.5 420.76L359.9 420.76" stroke="#050505" stroke-width="1.0" fill="none"/>
<rect x="299.2" y="417.4" width="6.0" height="6.0" fill="#484848" stroke="#2a2a2a" stroke-width="0.9"/>
<rect x="318.5" y="417.4" width="6.0" height="6.0" fill="#484848" stroke="#2a2a2a" stroke-width="0.9"/>
<rect x="337.5" y="417.76" width="6.0" height="6.0" fill="#484848" stroke="#2a2a2a" stroke-width="0.9"/>
<rect x="356.9" y="417.76" width="6.0" height="6.0" fill="#484848" stroke="#2a2a2a" stroke-width="0.9"/>
<path d="M302.2 419.95L321.5 419.95L340.5 400.88L359.9 412.14" stroke="#050505" stroke-width="1.0" fill="none"/>
<rect x="299.2" y="416.95" width="6.0" height="6.0" fill="#858585" stroke="#2a2a2a" stroke-width="0.9"/>
<rect x="318.5" y="416.95" width="6.0" height="6.0" fill="#858585" stroke="#2a2a2a" stroke-width="0.9"/>
<rect x="337.5" y="397.88" width="6.0" height="6.0" fill="#858585" stroke="#2a2a2a" stroke-width="0.9"/>
<rect x="356.9" y="409.14" width="6.0" height="6.0" fill="#858585" stroke="#2a2a2a" stroke-width="0.9"/>
<path d="M302.2 419.49L321.5 419.49L340.5 405.51L359.9 415.59" stroke="#050505" stroke-width="1.0" fill="none"/>
<rect x="299.2" y="416.49" width="6.0" height="6.0" fill="#c2c2c2" stroke="#2a2a2a" stroke-width="0.9"/>
<rect x="318.5" y="416.49" width="6.0" height="6.0" fill="#c2c2c2" stroke="#2a2a2a" stroke-width="0.9"/>
<rect x="337.5" y="402.51" width="6.0" height="6.0" fill="#c2c2c2" stroke="#2a2a2a" stroke-width="0.9"/>
<rect x="356.9" y="412.59" width="6.0" height="6.0" fill="#c2c2c2" stroke="#2a2a2a" stroke-width="0.9"/>
<path d="M385.5 420.4L404.6 420.4L423.9 420.4L443.1 420.4" stroke="#050505" stroke-width="1.0" fill="none"/>
<rect x="382.5" y="417.4" width="6.0" height="6.0" fill="#0a0a0a" stroke="#2a2a2a" stroke-width="0.9"/>
<rect x="401.6" y="417.4" width="6.0" height="6.0" fill="#0a0a0a" stroke="#2a2a2a" stroke-width="0.9"/>
<rect x="420.9" y="417.4" width="6.0" height="6.0" fill="#0a0a0a" stroke="#2a2a2a" stroke-width="0.9"/>
<rect x="440.1" y="417.4" width="6.0" height="6.0" fill="#0a0a0a" stroke="#2a2a2a" stroke-width="0.9"/>
<path d="M385.5 420.4L404.6 420.4L423.9 419.49L443.1 420.4" stroke="#050505" stroke-width="1.0" fill="none"/>
<rect x="382.5" y="417.4" width="6.0" height="6.0" fill="#484848" stroke="#2a2a2a" stroke-width="0.9"/>
<rect x="401.6" y="417.4" width="6.0" height="6.0" fill="#484848" stroke="#2a2a2a" stroke-width="0.9"/>
<rect x="420.9" y="416.49" width="6.0" height="6.0" fill="#484848" stroke="#2a2a2a" stroke-width="0.9"/>
<rect x="440.1" y="417.4" width="6.0" height="6.0" fill="#484848" stroke="#2a2a2a" stroke-width="0.9"/>
<path d="M385.5 420.4L404.6 420.4L423.9 419.04L443.1 421.31" stroke="#050505" stroke-width="1.0" fill="none"/>
<rect x="382.5" y="417.4" width="6.0" height="6.0" fill="#858585" stroke="#2a2a2a" stroke-width="0.9"/>
<rect x="401.6" y="417.4" width="6.0" height="6.0" fill="#858585" stroke="#2a2a2a" stroke-width="0.9"/>
<rect x="420.9" y="416.04" width="6.0" height="6.0" fill="#858585" stroke="#2a2a2a" stroke-width="0.9"/>
<rect x="440.1" y="418.31" width="6.0" height="6.0" fill="#858585" stroke="#2a2a2a" stroke-width="0.9"/>
<path d="M385.5 420.4L404.6 420.4L423.9 419.95L443.1 420.4" stroke="#050505" stroke-width="1.0" fill="none"/>
<rect x="382.5" y="417.4" width="6.0" height="6.0" fill="#a8a8a8" stroke="#2a2a2a" stroke-width="0.9"/>
<rect x="401.6" y="417.4" width="6.0" height="6.0" fill="#a8a8a8" stroke="#2a2a2a" stroke-width="0.9"/>
<rect x="420.9" y="416.95" width="6.0" height="6.0" fill="#a8a8a8" stroke="#2a2a2a" stroke-width="0.9"/>
<rect x="440.1" y="417.4" width="6.0" height="6.0" fill="#a8a8a8" stroke="#2a2a2a" stroke-width="0.9"/>
<path d="M385.5 420.4L404.6 420.4L423.9 419.49L443.1 420.4" stroke="#050505" stroke-width="1.0" fill="none"/>
<rect x="382.5" y="417.4" width="6.0" height="6.0" fill="#c2c2c2" stroke="#2a2a2a" stroke-width="0.9"/>
<rect x="401.6" y="417.4" width="6.0" height="6.0" fill="#c2c2c2" stroke="#2a2a2a" stroke-width="0.9"/>
<rect x="420.9" y="416.49" width="6.0" height="6.0" fill="#c2c2c2" stroke="#2a2a2a" stroke-width="0.9"/>
<rect x="440.1" y="417.4" width="6.0" height="6.0" fill="#c2c2c2" stroke="#2a2a2a" stroke-width="0.9"/>
<path d="M385.5 419.86L404.6 419.95L423.9 416.77L443.1 419.04" stroke="#050505" stroke-width="1.0" fill="none"/>
<rect x="382.5" y="416.86" width="6.0" height="6.0" fill="#ffffff" stroke="#2a2a2a" stroke-width="0.9"/>
<rect x="401.6" y="416.95" width="6.0" height="6.0" fill="#ffffff" stroke="#2a2a2a" stroke-width="0.9"/>
<rect x="420.9" y="413.77" width="6.0" height="6.0" fill="#ffffff" stroke="#2a2a2a" stroke-width="0.9"/>
<rect x="440.1" y="416.04" width="6.0" height="6.0" fill="#ffffff" stroke="#2a2a2a" stroke-width="0.9"/>
<path d="M136.2 566.8L155.3 494.7L174.3 565.89L193.7 565.89" stroke="#050505" stroke-width="1.0" fill="none"/>
<rect x="133.2" y="563.8" width="6.0" height="6.0" fill="#0a0a0a" stroke="#2a2a2a" stroke-width="0.9"/>
<rect x="152.3" y="491.7" width="6.0" height="6.0" fill="#0a0a0a" stroke="#2a2a2a" stroke-width="0.9"/>
<rect x="171.3" y="562.89" width="6.0" height="6.0" fill="#0a0a0a" stroke="#2a2a2a" stroke-width="0.9"/>
<rect x="190.7" y="562.89" width="6.0" height="6.0" fill="#0a0a0a" stroke="#2a2a2a" stroke-width="0.9"/>
<path d="M136.2 567.71L155.3 525.03L174.3 564.08L193.7 562.71" stroke="#050505" stroke-width="1.0" fill="none"/>
<rect x="133.2" y="564.71" width="6.0" height="6.0" fill="#484848" stroke="#2a2a2a" stroke-width="0.9"/>
<rect x="152.3" y="522.03" width="6.0" height="6.0" fill="#484848" stroke="#2a2a2a" stroke-width="0.9"/>
<rect x="171.3" y="561.08" width="6.0" height="6.0" fill="#484848" stroke="#2a2a2a" stroke-width="0.9"/>
<rect x="190.7" y="559.71" width="6.0" height="6.0" fill="#484848" stroke="#2a2a2a" stroke-width="0.9"/>
<path d="M136.2 566.8L155.3 480.54L174.3 565.89L193.7 565.89" stroke="#050505" stroke-width="1.0" fill="none"/>
<rect x="133.2" y="563.8" width="6.0" height="6.0" fill="#858585" stroke="#2a2a2a" stroke-width="0.9"/>
<rect x="152.3" y="477.54" width="6.0" height="6.0" fill="#858585" stroke="#2a2a2a" stroke-width="0.9"/>
<rect x="171.3" y="562.89" width="6.0" height="6.0" fill="#858585" stroke="#2a2a2a" stroke-width="0.9"/>
<rect x="190.7" y="562.89" width="6.0" height="6.0" fill="#858585" stroke="#2a2a2a" stroke-width="0.9"/>
<path d="M136.2 564.98L155.3 509.6L174.3 566.07L193.7 566.44" stroke="#050505" stroke-width="1.0" fill="none"/>
<rect x="133.2" y="561.98" width="6.0" height="6.0" fill="#c2c2c2" stroke="#2a2a2a" stroke-width="0.9"/>
<rect x="152.3" y="506.6" width="6.0" height="6.0" fill="#c2c2c2" stroke="#2a2a2a" stroke-width="0.9"/>
<rect x="171.3" y="563.07" width="6.0" height="6.0" fill="#c2c2c2" stroke="#2a2a2a" stroke-width="0.9"/>
<rect x="190.7" y="563.44" width="6.0" height="6.0" fill="#c2c2c2" stroke="#2a2a2a" stroke-width="0.9"/>
<path d="M219.1 566.8L238.2 531.84L257.4 565.89L276.5 566.8" stroke="#050505" stroke-width="1.0" fill="none"/>
<rect x="216.1" y="563.8" width="6.0" height="6.0" fill="#0a0a0a" stroke="#2a2a2a" stroke-width="0.9"/>
<rect x="235.2" y="528.84" width="6.0" height="6.0" fill="#0a0a0a" stroke="#2a2a2a" stroke-width="0.9"/>
<rect x="254.4" y="562.89" width="6.0" height="6.0" fill="#0a0a0a" stroke="#2a2a2a" stroke-width="0.9"/>
<rect x="273.5" y="563.8" width="6.0" height="6.0" fill="#0a0a0a" stroke="#2a2a2a" stroke-width="0.9"/>
<path d="M219.1 566.8L238.2 560.44L257.4 564.08L276.5 566.35" stroke="#050505" stroke-width="1.0" fill="none"/>
<rect x="216.1" y="563.8" width="6.0" height="6.0" fill="#484848" stroke="#2a2a2a" stroke-width="0.9"/>
<rect x="235.2" y="557.44" width="6.0" height="6.0" fill="#484848" stroke="#2a2a2a" stroke-width="0.9"/>
<rect x="254.4" y="561.08" width="6.0" height="6.0" fill="#484848" stroke="#2a2a2a" stroke-width="0.9"/>
<rect x="273.5" y="563.35" width="6.0" height="6.0" fill="#484848" stroke="#2a2a2a" stroke-width="0.9"/>
<path d="M219.1 566.8L238.2 562.26L257.4 565.89L276.5 566.8" stroke="#050505" stroke-width="1.0" fill="none"/>
<rect x="216.1" y="563.8" width="6.0" height="6.0" fill="#858585" stroke="#2a2a2a" stroke-width="0.9"/>
<rect x="235.2" y="559.26" width="6.0" height="6.0" fill="#858585" stroke="#2a2a2a" stroke-width="0.9"/>
<rect x="254.4" y="562.89" width="6.0" height="6.0" fill="#858585" stroke="#2a2a2a" stroke-width="0.9"/>
<rect x="273.5" y="563.8" width="6.0" height="6.0" fill="#858585" stroke="#2a2a2a" stroke-width="0.9"/>
<path d="M219.1 566.8L238.2 564.08L257.4 566.35L276.5 566.8" stroke="#050505" stroke-width="1.0" fill="none"/>
<rect x="216.1" y="563.8" width="6.0" height="6.0" fill="#c2c2c2" stroke="#2a2a2a" stroke-width="0.9"/>
<rect x="235.2" y="561.08" width="6.0" height="6.0" fill="#c2c2c2" stroke="#2a2a2a" stroke-width="0.9"/>
<rect x="254.4" y="563.35" width="6.0" height="6.0" fill="#c2c2c2" stroke="#2a2a2a" stroke-width="0.9"/>
<rect x="273.5" y="563.8" width="6.0" height="6.0" fill="#c2c2c2" stroke="#2a2a2a" stroke-width="0.9"/>
<path d="M219.1 565.89L238.2 566.44L257.4 565.89L276.5 565.89" stroke="#050505" stroke-width="1.0" fill="none"/>
<rect x="216.1" y="562.89" width="6.0" height="6.0" fill="#ffffff" stroke="#2a2a2a" stroke-width="0.9"/>
<rect x="235.2" y="563.44" width="6.0" height="6.0" fill="#ffffff" stroke="#2a2a2a" stroke-width="0.9"/>
<rect x="254.4" y="562.89" width="6.0" height="6.0" fill="#ffffff" stroke="#2a2a2a" stroke-width="0.9"/>
<rect x="273.5" y="562.89" width="6.0" height="6.0" fill="#ffffff" stroke="#2a2a2a" stroke-width="0.9"/>
<path d="M302.2 565.89L321.5 547.73L340.5 563.89L359.9 566.8" stroke="#050505" stroke-width="1.0" fill="none"/>
<rect x="299.2" y="562.89" width="6.0" height="6.0" fill="#0a0a0a" stroke="#2a2a2a" stroke-width="0.9"/>
<rect x="318.5" y="544.73" width="6.0" height="6.0" fill="#0a0a0a" stroke="#2a2a2a" stroke-width="0.9"/>
<rect x="337.5" y="560.89" width="6.0" height="6.0" fill="#0a0a0a" stroke="#2a2a2a" stroke-width="0.9"/>
<rect x="356.9" y="563.8" width="6.0" height="6.0" fill="#0a0a0a" stroke="#2a2a2a" stroke-width="0.9"/>
<path d="M302.2 566.8L321.5 563.35L340.5 566.35L359.9 566.8" stroke="#050505" stroke-width="1.0" fill="none"/>
<rect x="299.2" y="563.8" width="6.0" height="6.0" fill="#484848" stroke="#2a2a2a" stroke-width="0.9"/>
<rect x="318.5" y="560.35" width="6.0" height="6.0" fill="#484848" stroke="#2a2a2a" stroke-width="0.9"/>
<rect x="337.5" y="563.35" width="6.0" height="6.0" fill="#484848" stroke="#2a2a2a" stroke-width="0.9"/>
<rect x="356.9" y="563.8" width="6.0" height="6.0" fill="#484848" stroke="#2a2a2a" stroke-width="0.9"/>
<path d="M302.2 565.89L321.5 511.59L340.5 565.89L359.9 566.8" stroke="#050505" stroke-width="1.0" fill="none"/>
<rect x="299.2" y="562.89" width="6.0" height="6.0" fill="#858585" stroke="#2a2a2a" stroke-width="0.9"/>
<rect x="318.5" y="508.59" width="6.0" height="6.0" fill="#858585" stroke="#2a2a2a" stroke-width="0.9"/>
<rect x="337.5" y="562.89" width="6.0" height="6.0" fill="#858585" stroke="#2a2a2a" stroke-width="0.9"/>
<rect x="356.9" y="563.8" width="6.0" height="6.0" fill="#858585" stroke="#2a2a2a" stroke-width="0.9"/>
<path d="M302.2 565.62L321.5 541.92L340.5 565.89L359.9 566.44" stroke="#050505" stroke-width="1.0" fill="none"/>
<rect x="299.2" y="562.62" width="6.0" height="6.0" fill="#c2c2c2" stroke="#2a2a2a" stroke-width="0.9"/>
<rect x="318.5" y="538.92" width="6.0" height="6.0" fill="#c2c2c2" stroke="#2a2a2a" stroke-width="0.9"/>
<rect x="337.5" y="562.89" width="6.0" height="6.0" fill="#c2c2c2" stroke="#2a2a2a" stroke-width="0.9"/>
<rect x="356.9" y="563.44" width="6.0" height="6.0" fill="#c2c2c2" stroke="#2a2a2a" stroke-width="0.9"/>
<path d="M385.5 561.81L404.6 562.26L423.9 565.89L443.1 566.35" stroke="#050505" stroke-width="1.0" fill="none"/>
<rect x="382.5" y="558.81" width="6.0" height="6.0" fill="#0a0a0a" stroke="#2a2a2a" stroke-width="0.9"/>
<rect x="401.6" y="559.26" width="6.0" height="6.0" fill="#0a0a0a" stroke="#2a2a2a" stroke-width="0.9"/>
<rect x="420.9" y="562.89" width="6.0" height="6.0" fill="#0a0a0a" stroke="#2a2a2a" stroke-width="0.9"/>
<rect x="440.1" y="563.35" width="6.0" height="6.0" fill="#0a0a0a" stroke="#2a2a2a" stroke-width="0.9"/>
<path d="M385.5 566.8L404.6 566.44L423.9 566.35L443.1 566.8" stroke="#050505" stroke-width="1.0" fill="none"/>
<rect x="382.5" y="563.8" width="6.0" height="6.0" fill="#484848" stroke="#2a2a2a" stroke-width="0.9"/>
<rect x="401.6" y="563.44" width="6.0" height="6.0" fill="#484848" stroke="#2a2a2a" stroke-width="0.9"/>
<rect x="420.9" y="563.35" width="6.0" height="6.0" fill="#484848" stroke="#2a2a2a" stroke-width="0.9"/>
<rect x="440.1" y="563.8" width="6.0" height="6.0" fill="#484848" stroke="#2a2a2a" stroke-width="0.9"/>
<path d="M385.5 565.89L404.6 539.56L423.9 565.89L443.1 566.35" stroke="#050505" stroke-width="1.0" fill="none"/>
<rect x="382.5" y="562.89" width="6.0" height="6.0" fill="#858585" stroke="#2a2a2a" stroke-width="0.9"/>
<rect x="401.6" y="536.56" width="6.0" height="6.0" fill="#858585" stroke="#2a2a2a" stroke-width="0.9"/>
<rect x="420.9" y="562.89" width="6.0" height="6.0" fill="#858585" stroke="#2a2a2a" stroke-width="0.9"/>
<rect x="440.1" y="563.35" width="6.0" height="6.0" fill="#858585" stroke="#2a2a2a" stroke-width="0.9"/>
<path d="M385.5 565.89L404.6 544.1L423.9 564.98L443.1 565.89" stroke="#050505" stroke-width="1.0" fill="none"/>
<rect x="382.5" y="562.89" width="6.0" height="6.0" fill="#a8a8a8" stroke="#2a2a2a" stroke-width="0.9"/>
<rect x="401.6" y="541.1" width="6.0" height="6.0" fill="#a8a8a8" stroke="#2a2a2a" stroke-width="0.9"/>
<rect x="420.9" y="561.98" width="6.0" height="6.0" fill="#a8a8a8" stroke="#2a2a2a" stroke-width="0.9"/>
<rect x="440.1" y="562.89" width="6.0" height="6.0" fill="#a8a8a8" stroke="#2a2a2a" stroke-width="0.9"/>
<path d="M385.5 564.98L404.6 548.28L423.9 561.81L443.1 563.17" stroke="#050505" stroke-width="1.0" fill="none"/>
<rect x="382.5" y="561.98" width="6.0" height="6.0" fill="#c2c2c2" stroke="#2a2a2a" stroke-width="0.9"/>
<rect x="401.6" y="545.28" width="6.0" height="6.0" fill="#c2c2c2" stroke="#2a2a2a" stroke-width="0.9"/>
<rect x="420.9" y="558.81" width="6.0" height="6.0" fill="#c2c2c2" stroke="#2a2a2a" stroke-width="0.9"/>
<rect x="440.1" y="560.17" width="6.0" height="6.0" fill="#c2c2c2" stroke="#2a2a2a" stroke-width="0.9"/>
<path d="M385.5 566.44L404.6 517.13L423.9 566.07L443.1 566.07" stroke="#050505" stroke-width="1.0" fill="none"/>
<rect x="382.5" y="563.44" width="6.0" height="6.0" fill="#ffffff" stroke="#2a2a2a" stroke-width="0.9"/>
<rect x="401.6" y="514.13" width="6.0" height="6.0" fill="#ffffff" stroke="#2a2a2a" stroke-width="0.9"/>
<rect x="420.9" y="563.07" width="6.0" height="6.0" fill="#ffffff" stroke="#2a2a2a" stroke-width="0.9"/>
<rect x="440.1" y="563.07" width="6.0" height="6.0" fill="#ffffff" stroke="#2a2a2a" stroke-width="0.9"/>
<path d="M136.2 671.4L155.3 671.4L174.3 596.37L193.7 612.37" stroke="#050505" stroke-width="1.0" fill="none"/>
<rect x="133.2" y="668.4" width="6.0" height="6.0" fill="#0a0a0a" stroke="#2a2a2a" stroke-width="0.9"/>
<rect x="152.3" y="668.4" width="6.0" height="6.0" fill="#0a0a0a" stroke="#2a2a2a" stroke-width="0.9"/>
<rect x="171.3" y="593.37" width="6.0" height="6.0" fill="#0a0a0a" stroke="#2a2a2a" stroke-width="0.9"/>
<rect x="190.7" y="609.37" width="6.0" height="6.0" fill="#0a0a0a" stroke="#2a2a2a" stroke-width="0.9"/>
<path d="M136.2 671.4L155.3 670.5L174.3 616.26L193.7 619.87" stroke="#050505" stroke-width="1.0" fill="none"/>
<rect x="133.2" y="668.4" width="6.0" height="6.0" fill="#484848" stroke="#2a2a2a" stroke-width="0.9"/>
<rect x="152.3" y="667.5" width="6.0" height="6.0" fill="#484848" stroke="#2a2a2a" stroke-width="0.9"/>
<rect x="171.3" y="613.26" width="6.0" height="6.0" fill="#484848" stroke="#2a2a2a" stroke-width="0.9"/>
<rect x="190.7" y="616.87" width="6.0" height="6.0" fill="#484848" stroke="#2a2a2a" stroke-width="0.9"/>
<path d="M136.2 648.17L155.3 648.17L174.3 591.85L193.7 594.74" stroke="#050505" stroke-width="1.0" fill="none"/>
<rect x="133.2" y="645.17" width="6.0" height="6.0" fill="#858585" stroke="#2a2a2a" stroke-width="0.9"/>
<rect x="152.3" y="645.17" width="6.0" height="6.0" fill="#858585" stroke="#2a2a2a" stroke-width="0.9"/>
<rect x="171.3" y="588.85" width="6.0" height="6.0" fill="#858585" stroke="#2a2a2a" stroke-width="0.9"/>
<rect x="190.7" y="591.74" width="6.0" height="6.0" fill="#858585" stroke="#2a2a2a" stroke-width="0.9"/>
<path d="M136.2 663.26L155.3 661.09L174.3 604.78L193.7 617.52" stroke="#050505" stroke-width="1.0" fill="none"/>
<rect x="133.2" y="660.26" width="6.0" height="6.0" fill="#c2c2c2" stroke="#2a2a2a" stroke-width="0.9"/>
<rect x="152.3" y="658.09" width="6.0" height="6.0" fill="#c2c2c2" stroke="#2a2a2a" stroke-width="0.9"/>
<rect x="171.3" y="601.78" width="6.0" height="6.0" fill="#c2c2c2" stroke="#2a2a2a" stroke-width="0.9"/>
<rect x="190.7" y="614.52" width="6.0" height="6.0" fill="#c2c2c2" stroke="#2a2a2a" stroke-width="0.9"/>
<path d="M219.1 671.4L238.2 669.59L257.4 652.42L276.5 640.94" stroke="#050505" stroke-width="1.0" fill="none"/>
<rect x="216.1" y="668.4" width="6.0" height="6.0" fill="#0a0a0a" stroke="#2a2a2a" stroke-width="0.9"/>
<rect x="235.2" y="666.59" width="6.0" height="6.0" fill="#0a0a0a" stroke="#2a2a2a" stroke-width="0.9"/>
<rect x="254.4" y="649.42" width="6.0" height="6.0" fill="#0a0a0a" stroke="#2a2a2a" stroke-width="0.9"/>
<rect x="273.5" y="637.94" width="6.0" height="6.0" fill="#0a0a0a" stroke="#2a2a2a" stroke-width="0.9"/>
<path d="M219.1 671.4L238.2 670.5L257.4 662.81L276.5 661.46" stroke="#050505" stroke-width="1.0" fill="none"/>
<rect x="216.1" y="668.4" width="6.0" height="6.0" fill="#484848" stroke="#2a2a2a" stroke-width="0.9"/>
<rect x="235.2" y="667.5" width="6.0" height="6.0" fill="#484848" stroke="#2a2a2a" stroke-width="0.9"/>
<rect x="254.4" y="659.81" width="6.0" height="6.0" fill="#484848" stroke="#2a2a2a" stroke-width="0.9"/>
<rect x="273.5" y="658.46" width="6.0" height="6.0" fill="#484848" stroke="#2a2a2a" stroke-width="0.9"/>
<path d="M219.1 671.4L238.2 670.95L257.4 665.98L276.5 664.53" stroke="#050505" stroke-width="1.0" fill="none"/>
<rect x="216.1" y="668.4" width="6.0" height="6.0" fill="#858585" stroke="#2a2a2a" stroke-width="0.9"/>
<rect x="235.2" y="667.95" width="6.0" height="6.0" fill="#858585" stroke="#2a2a2a" stroke-width="0.9"/>
<rect x="254.4" y="662.98" width="6.0" height="6.0" fill="#858585" stroke="#2a2a2a" stroke-width="0.9"/>
<rect x="273.5" y="661.53" width="6.0" height="6.0" fill="#858585" stroke="#2a2a2a" stroke-width="0.9"/>
<path d="M219.1 671.4L238.2 671.4L257.4 669.59L276.5 667.96" stroke="#050505" stroke-width="1.0" fill="none"/>
<rect x="216.1" y="668.4" width="6.0" height="6.0" fill="#c2c2c2" stroke="#2a2a2a" stroke-width="0.9"/>
<rect x="235.2" y="668.4" width="6.0" height="6.0" fill="#c2c2c2" stroke="#2a2a2a" stroke-width="0.9"/>
<rect x="254.4" y="666.59" width="6.0" height="6.0" fill="#c2c2c2" stroke="#2a2a2a" stroke-width="0.9"/>
<rect x="273.5" y="664.96" width="6.0" height="6.0" fill="#c2c2c2" stroke="#2a2a2a" stroke-width="0.9"/>
<path d="M219.1 671.04L238.2 671.4L257.4 666.88L276.5 656.94" stroke="#050505" stroke-width="1.0" fill="none"/>
<rect x="216.1" y="668.04" width="6.0" height="6.0" fill="#ffffff" stroke="#2a2a2a" stroke-width="0.9"/>
<rect x="235.2" y="668.4" width="6.0" height="6.0" fill="#ffffff" stroke="#2a2a2a" stroke-width="0.9"/>
<rect x="254.4" y="663.88" width="6.0" height="6.0" fill="#ffffff" stroke="#2a2a2a" stroke-width="0.9"/>
<rect x="273.5" y="653.94" width="6.0" height="6.0" fill="#ffffff" stroke="#2a2a2a" stroke-width="0.9"/>
<path d="M302.2 670.5L321.5 670.5L340.5 642.47L359.9 623.22" stroke="#050505" stroke-width="1.0" fill="none"/>
<rect x="299.2" y="667.5" width="6.0" height="6.0" fill="#0a0a0a" stroke="#2a2a2a" stroke-width="0.9"/>
<rect x="318.5" y="667.5" width="6.0" height="6.0" fill="#0a0a0a" stroke="#2a2a2a" stroke-width="0.9"/>
<rect x="337.5" y="639.47" width="6.0" height="6.0" fill="#0a0a0a" stroke="#2a2a2a" stroke-width="0.9"/>
<rect x="356.9" y="620.22" width="6.0" height="6.0" fill="#0a0a0a" stroke="#2a2a2a" stroke-width="0.9"/>
<path d="M302.2 666.88L321.5 668.69L340.5 661.55L359.9 667.06" stroke="#050505" stroke-width="1.0" fill="none"/>
<rect x="299.2" y="663.88" width="6.0" height="6.0" fill="#484848" stroke="#2a2a2a" stroke-width="0.9"/>
<rect x="318.5" y="665.69" width="6.0" height="6.0" fill="#484848" stroke="#2a2a2a" stroke-width="0.9"/>
<rect x="337.5" y="658.55" width="6.0" height="6.0" fill="#484848" stroke="#2a2a2a" stroke-width="0.9"/>
<rect x="356.9" y="664.06" width="6.0" height="6.0" fill="#484848" stroke="#2a2a2a" stroke-width="0.9"/>
<path d="M302.2 670.5L321.5 670.95L340.5 626.2L359.9 609.39" stroke="#050505" stroke-width="1.0" fill="none"/>
<rect x="299.2" y="667.5" width="6.0" height="6.0" fill="#858585" stroke="#2a2a2a" stroke-width="0.9"/>
<rect x="318.5" y="667.95" width="6.0" height="6.0" fill="#858585" stroke="#2a2a2a" stroke-width="0.9"/>
<rect x="337.5" y="623.2" width="6.0" height="6.0" fill="#858585" stroke="#2a2a2a" stroke-width="0.9"/>
<rect x="356.9" y="606.39" width="6.0" height="6.0" fill="#858585" stroke="#2a2a2a" stroke-width="0.9"/>
<path d="M302.2 671.4L321.5 671.4L340.5 642.65L359.9 644.28" stroke="#050505" stroke-width="1.0" fill="none"/>
<rect x="299.2" y="668.4" width="6.0" height="6.0" fill="#c2c2c2" stroke="#2a2a2a" stroke-width="0.9"/>
<rect x="318.5" y="668.4" width="6.0" height="6.0" fill="#c2c2c2" stroke="#2a2a2a" stroke-width="0.9"/>
<rect x="337.5" y="639.65" width="6.0" height="6.0" fill="#c2c2c2" stroke="#2a2a2a" stroke-width="0.9"/>
<rect x="356.9" y="641.28" width="6.0" height="6.0" fill="#c2c2c2" stroke="#2a2a2a" stroke-width="0.9"/>
<path d="M385.5 671.4L404.6 671.4L423.9 670.5L443.1 668.69" stroke="#050505" stroke-width="1.0" fill="none"/>
<rect x="382.5" y="668.4" width="6.0" height="6.0" fill="#0a0a0a" stroke="#2a2a2a" stroke-width="0.9"/>
<rect x="401.6" y="668.4" width="6.0" height="6.0" fill="#0a0a0a" stroke="#2a2a2a" stroke-width="0.9"/>
<rect x="420.9" y="667.5" width="6.0" height="6.0" fill="#0a0a0a" stroke="#2a2a2a" stroke-width="0.9"/>
<rect x="440.1" y="665.69" width="6.0" height="6.0" fill="#0a0a0a" stroke="#2a2a2a" stroke-width="0.9"/>
<path d="M385.5 671.4L404.6 671.4L423.9 669.59L443.1 665.34" stroke="#050505" stroke-width="1.0" fill="none"/>
<rect x="382.5" y="668.4" width="6.0" height="6.0" fill="#484848" stroke="#2a2a2a" stroke-width="0.9"/>
<rect x="401.6" y="668.4" width="6.0" height="6.0" fill="#484848" stroke="#2a2a2a" stroke-width="0.9"/>
<rect x="420.9" y="666.59" width="6.0" height="6.0" fill="#484848" stroke="#2a2a2a" stroke-width="0.9"/>
<rect x="440.1" y="662.34" width="6.0" height="6.0" fill="#484848" stroke="#2a2a2a" stroke-width="0.9"/>
<path d="M385.5 671.4L404.6 671.4L423.9 636.42L443.1 656.94" stroke="#050505" stroke-width="1.0" fill="none"/>
<rect x="382.5" y="668.4" width="6.0" height="6.0" fill="#858585" stroke="#2a2a2a" stroke-width="0.9"/>
<rect x="401.6" y="668.4" width="6.0" height="6.0" fill="#858585" stroke="#2a2a2a" stroke-width="0.9"/>
<rect x="420.9" y="633.42" width="6.0" height="6.0" fill="#858585" stroke="#2a2a2a" stroke-width="0.9"/>
<rect x="440.1" y="653.94" width="6.0" height="6.0" fill="#858585" stroke="#2a2a2a" stroke-width="0.9"/>
<path d="M385.5 671.4L404.6 671.4L423.9 668.69L443.1 652.42" stroke="#050505" stroke-width="1.0" fill="none"/>
<rect x="382.5" y="668.4" width="6.0" height="6.0" fill="#a8a8a8" stroke="#2a2a2a" stroke-width="0.9"/>
<rect x="401.6" y="668.4" width="6.0" height="6.0" fill="#a8a8a8" stroke="#2a2a2a" stroke-width="0.9"/>
<rect x="420.9" y="665.69" width="6.0" height="6.0" fill="#a8a8a8" stroke="#2a2a2a" stroke-width="0.9"/>
<rect x="440.1" y="649.42" width="6.0" height="6.0" fill="#a8a8a8" stroke="#2a2a2a" stroke-width="0.9"/>
<path d="M385.5 671.4L404.6 671.4L423.9 666.25L443.1 648.53" stroke="#050505" stroke-width="1.0" fill="none"/>
<rect x="382.5" y="668.4" width="6.0" height="6.0" fill="#c2c2c2" stroke="#2a2a2a" stroke-width="0.9"/>
<rect x="401.6" y="668.4" width="6.0" height="6.0" fill="#c2c2c2" stroke="#2a2a2a" stroke-width="0.9"/>
<rect x="420.9" y="663.25" width="6.0" height="6.0" fill="#c2c2c2" stroke="#2a2a2a" stroke-width="0.9"/>
<rect x="440.1" y="645.53" width="6.0" height="6.0" fill="#c2c2c2" stroke="#2a2a2a" stroke-width="0.9"/>
<path d="M385.5 666.88L404.6 656.94L423.9 624.93L443.1 621.5" stroke="#050505" stroke-width="1.0" fill="none"/>
<rect x="382.5" y="663.88" width="6.0" height="6.0" fill="#ffffff" stroke="#2a2a2a" stroke-width="0.9"/>
<rect x="401.6" y="653.94" width="6.0" height="6.0" fill="#ffffff" stroke="#2a2a2a" stroke-width="0.9"/>
<rect x="420.9" y="621.93" width="6.0" height="6.0" fill="#ffffff" stroke="#2a2a2a" stroke-width="0.9"/>
<rect x="440.1" y="618.5" width="6.0" height="6.0" fill="#ffffff" stroke="#2a2a2a" stroke-width="0.9"/>
<text x="482.2" y="267.4" font-size="9.3" text-anchor="middle" fill="#111" stroke="#111" stroke-width="0.26">CD4<tspan font-size="5.4" dy="-3.4">−</tspan><tspan dy="3.4">CD8</tspan><tspan font-size="5.4" dy="-3.4">+</tspan><tspan dy="3.4">CD57</tspan><tspan font-size="5.4" dy="-3.4">+</tspan></text>
<text x="482.4" y="281" font-size="9.3" text-anchor="middle" fill="#111" stroke="#111" stroke-width="0.26" >T cells</text>
<text x="482" y="372.6" font-size="9.3" text-anchor="middle" fill="#111" stroke="#111" stroke-width="0.26">CD3<tspan font-size="5.4" dy="-3.4">−</tspan><tspan dy="3.4">CD56</tspan><tspan font-size="5" dy="-3.4">dim</tspan></text>
<text x="482" y="386.4" font-size="9.3" text-anchor="middle" fill="#111" stroke="#111" stroke-width="0.26" >NK cells</text>
<text x="474" y="518.1" font-size="9.3" text-anchor="middle" fill="#111" stroke="#111" stroke-width="0.26">CD4<tspan font-size="5.4" dy="-3.4">−</tspan><tspan dy="3.4">CD8</tspan><tspan font-size="5.4" dy="-3.4">+</tspan><tspan dy="3.4">CD57</tspan><tspan font-size="5.4" dy="-3.4">+</tspan></text>
<text x="474.6" y="531.7" font-size="9.3" text-anchor="middle" fill="#111" stroke="#111" stroke-width="0.26" >T cells</text>
<text x="482" y="623.2" font-size="9.3" text-anchor="middle" fill="#111" stroke="#111" stroke-width="0.26">CD3<tspan font-size="5.4" dy="-3.4">−</tspan><tspan dy="3.4">CD56</tspan><tspan font-size="5" dy="-3.4">dim</tspan></text>
<text x="482" y="636.8" font-size="9.3" text-anchor="middle" fill="#111" stroke="#111" stroke-width="0.26" >NK cells</text>
<path d="M126.1 704.4h11.4" stroke="#222" stroke-width="0.9"/>
<rect x="128.7" y="701.4" width="6.0" height="6.0" fill="#0a0a0a" stroke="#2a2a2a" stroke-width="0.9"/>
<text x="140.3" y="707.1" font-size="7.45" text-anchor="start" fill="#222" stroke="#222" stroke-width="0.21" >Pat. FHL2-A:1</text>
<path d="M126.1 715.12h11.4" stroke="#222" stroke-width="0.9"/>
<rect x="128.7" y="712.12" width="6.0" height="6.0" fill="#484848" stroke="#2a2a2a" stroke-width="0.9"/>
<text x="140.3" y="717.82" font-size="7.45" text-anchor="start" fill="#222" stroke="#222" stroke-width="0.21" >Pat. FHL2-B:1</text>
<path d="M126.1 725.84h11.4" stroke="#222" stroke-width="0.9"/>
<rect x="128.7" y="722.84" width="6.0" height="6.0" fill="#858585" stroke="#2a2a2a" stroke-width="0.9"/>
<text x="140.3" y="728.54" font-size="7.45" text-anchor="start" fill="#222" stroke="#222" stroke-width="0.21" >Pat. FHL2-B:2</text>
<path d="M126.1 736.56h11.4" stroke="#222" stroke-width="0.9"/>
<rect x="128.7" y="733.56" width="6.0" height="6.0" fill="#c2c2c2" stroke="#2a2a2a" stroke-width="0.9"/>
<text x="140.3" y="739.26" font-size="7.45" text-anchor="start" fill="#222" stroke="#222" stroke-width="0.21" >Pat. FHL2-C:1</text>
<path d="M209.1 704.4h11.4" stroke="#222" stroke-width="0.9"/>
<rect x="211.7" y="701.4" width="6.0" height="6.0" fill="#0a0a0a" stroke="#2a2a2a" stroke-width="0.9"/>
<text x="223.3" y="707.1" font-size="7.45" text-anchor="start" fill="#222" stroke="#222" stroke-width="0.21" >Pat. FHL3-D:1</text>
<path d="M209.1 715.12h11.4" stroke="#222" stroke-width="0.9"/>
<rect x="211.7" y="712.12" width="6.0" height="6.0" fill="#484848" stroke="#2a2a2a" stroke-width="0.9"/>
<text x="223.3" y="717.82" font-size="7.45" text-anchor="start" fill="#222" stroke="#222" stroke-width="0.21" >Pat. FHL3-E:1</text>
<path d="M209.1 725.84h11.4" stroke="#222" stroke-width="0.9"/>
<rect x="211.7" y="722.84" width="6.0" height="6.0" fill="#858585" stroke="#2a2a2a" stroke-width="0.9"/>
<text x="223.3" y="728.54" font-size="7.45" text-anchor="start" fill="#222" stroke="#222" stroke-width="0.21" >Pat. FHL3-F:1</text>
<path d="M209.1 736.56h11.4" stroke="#222" stroke-width="0.9"/>
<rect x="211.7" y="733.56" width="6.0" height="6.0" fill="#c2c2c2" stroke="#2a2a2a" stroke-width="0.9"/>
<text x="223.3" y="739.26" font-size="7.45" text-anchor="start" fill="#222" stroke="#222" stroke-width="0.21" >Pat. FHL3-G:1</text>
<path d="M209.1 747.28h11.4" stroke="#222" stroke-width="0.9"/>
<rect x="211.7" y="744.28" width="6.0" height="6.0" fill="#ffffff" stroke="#2a2a2a" stroke-width="0.9"/>
<text x="223.3" y="749.98" font-size="7.45" text-anchor="start" fill="#222" stroke="#222" stroke-width="0.21" >Pat. FHL3-H:1</text>
<path d="M292.4 704.4h11.4" stroke="#222" stroke-width="0.9"/>
<rect x="295" y="701.4" width="6.0" height="6.0" fill="#0a0a0a" stroke="#2a2a2a" stroke-width="0.9"/>
<text x="306.6" y="707.1" font-size="7.45" text-anchor="start" fill="#222" stroke="#222" stroke-width="0.21" >Pat. FHL4-I:1</text>
<path d="M292.4 715.12h11.4" stroke="#222" stroke-width="0.9"/>
<rect x="295" y="712.12" width="6.0" height="6.0" fill="#484848" stroke="#2a2a2a" stroke-width="0.9"/>
<text x="306.6" y="717.82" font-size="7.45" text-anchor="start" fill="#222" stroke="#222" stroke-width="0.21" >Pat. FHL4-J:1</text>
<path d="M292.4 725.84h11.4" stroke="#222" stroke-width="0.9"/>
<rect x="295" y="722.84" width="6.0" height="6.0" fill="#858585" stroke="#2a2a2a" stroke-width="0.9"/>
<text x="306.6" y="728.54" font-size="7.45" text-anchor="start" fill="#222" stroke="#222" stroke-width="0.21" >Pat. FHL4-K:1</text>
<path d="M292.4 736.56h11.4" stroke="#222" stroke-width="0.9"/>
<rect x="295" y="733.56" width="6.0" height="6.0" fill="#c2c2c2" stroke="#2a2a2a" stroke-width="0.9"/>
<text x="306.6" y="739.26" font-size="7.45" text-anchor="start" fill="#222" stroke="#222" stroke-width="0.21" >Pat. FHL4-L:1</text>
<path d="M375.5 704.4h11.4" stroke="#222" stroke-width="0.9"/>
<rect x="378.1" y="701.4" width="6.0" height="6.0" fill="#0a0a0a" stroke="#2a2a2a" stroke-width="0.9"/>
<text x="389.7" y="707.1" font-size="7.45" text-anchor="start" fill="#222" stroke="#222" stroke-width="0.21" >Pat. FHL5-M:1</text>
<path d="M375.5 715.12h11.4" stroke="#222" stroke-width="0.9"/>
<rect x="378.1" y="712.12" width="6.0" height="6.0" fill="#484848" stroke="#2a2a2a" stroke-width="0.9"/>
<text x="389.7" y="717.82" font-size="7.45" text-anchor="start" fill="#222" stroke="#222" stroke-width="0.21" >Pat. FHL5-N:1</text>
<path d="M375.5 725.84h11.4" stroke="#222" stroke-width="0.9"/>
<rect x="378.1" y="722.84" width="6.0" height="6.0" fill="#858585" stroke="#2a2a2a" stroke-width="0.9"/>
<text x="389.7" y="728.54" font-size="7.45" text-anchor="start" fill="#222" stroke="#222" stroke-width="0.21" >Pat. FHL5-O:1</text>
<path d="M375.5 736.56h11.4" stroke="#222" stroke-width="0.9"/>
<rect x="378.1" y="733.56" width="6.0" height="6.0" fill="#a8a8a8" stroke="#2a2a2a" stroke-width="0.9"/>
<text x="389.7" y="739.26" font-size="7.45" text-anchor="start" fill="#222" stroke="#222" stroke-width="0.21" >Pat. FHL5-P:1</text>
<path d="M375.5 747.28h11.4" stroke="#222" stroke-width="0.9"/>
<rect x="378.1" y="744.28" width="6.0" height="6.0" fill="#c2c2c2" stroke="#2a2a2a" stroke-width="0.9"/>
<text x="389.7" y="749.98" font-size="7.45" text-anchor="start" fill="#222" stroke="#222" stroke-width="0.21" >Pat. FHL5-Q:1</text>
<path d="M375.5 758h11.4" stroke="#222" stroke-width="0.9"/>
<rect x="378.1" y="755" width="6.0" height="6.0" fill="#ffffff" stroke="#2a2a2a" stroke-width="0.9"/>
<text x="389.7" y="760.7" font-size="7.45" text-anchor="start" fill="#222" stroke="#222" stroke-width="0.21" >Pat. FHL5-R:1</text>
</g></svg></body></html>
